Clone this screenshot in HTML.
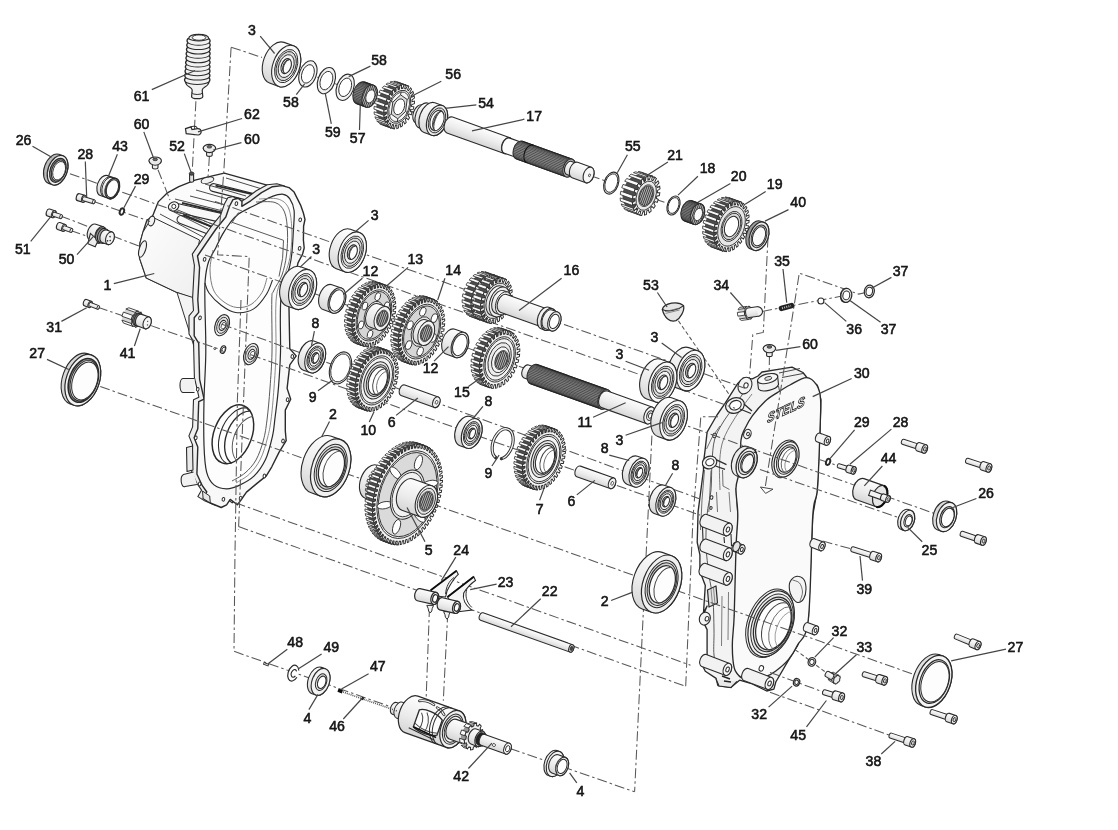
<!DOCTYPE html>
<html><head><meta charset="utf-8"><title>Gearbox exploded view</title>
<style>
html,body{margin:0;padding:0;background:#fff}
svg{display:block}
text{font-family:"Liberation Sans",sans-serif;font-size:14.1px;fill:#141414;text-anchor:middle;stroke:#141414;stroke-width:.55px}
.ld{stroke:#454545;stroke-width:1.2;fill:none}
.dd{stroke:#585858;stroke-width:1.05;fill:none;stroke-dasharray:10 3 2.5 3}
</style></head><body>
<svg width="1118" height="830" viewBox="0 0 1118 830">
<defs>
<linearGradient id="gs" x1="0" y1="0" x2="0" y2="1"><stop offset="0" stop-color="#fdfdfd"/><stop offset=".55" stop-color="#ececec"/><stop offset="1" stop-color="#d6d6d6"/></linearGradient>
<linearGradient id="gd" x1="0" y1="0" x2="0" y2="1"><stop offset="0" stop-color="#e8e8e8"/><stop offset="1" stop-color="#b5b5b5"/></linearGradient>
<linearGradient id="gh" x1="0" y1="0" x2="1" y2="1"><stop offset="0" stop-color="#fdfdfd"/><stop offset="1" stop-color="#efefef"/></linearGradient>
<pattern id="sp" width="1.9" height="4" patternUnits="userSpaceOnUse"><rect width="1.9" height="4" fill="#3c3c3c"/><rect width=".75" height="4" fill="#d8d8d8"/></pattern>
</defs>
<filter id="soft" x="0" y="0" width="1118" height="830" filterUnits="userSpaceOnUse"><feGaussianBlur stdDeviation="0.48"/></filter>
<rect width="1118" height="830" fill="#fff"/>
<g filter="url(#soft)">
<!-- housingL -->
<path d="M224.3 173.1L212.4 175.8L195 180.2L178.8 186.7L166.9 193.2L158.2 201.9L154.4 211.6L152.2 217L147 220L143 232L140 243L139.5 258L146.3 278L177 292.5L186 297.2L193.2 298.1L195 265.6L197.5 256L206.3 243L216 229L225.8 217L233 199.6L261.5 192.6L272.4 186.7Z" fill="#fbfbfb" stroke="#2b2b2b" stroke-width="1.34" stroke-linejoin="round" />
<path d="M152.2 217L199.5 240L195 265.6L193.2 298.1L177 292.5L146.3 278L139.5 258L140 243L143 232Z" fill="url(#gh)" stroke="#2b2b2b" stroke-width="0.98" stroke-linejoin="round" />
<path d="M177 292.5L195.1 350L194.5 298Z" fill="#f4f4f4" stroke="#2b2b2b" stroke-width="0.98" stroke-linejoin="round" />
<ellipse cx="142.5" cy="249" rx="3.2" ry="8.6" transform="rotate(18 142.5 249)" fill="#f3f3f3" stroke="#2b2b2b" stroke-width="1.10"/>
<ellipse cx="151.5" cy="221" rx="3" ry="5" transform="rotate(18 151.5 221)" fill="#f3f3f3" stroke="#2b2b2b" stroke-width="1.10"/>
<path d="M177.5 208L219.5 217.6" stroke="#2b2b2b" stroke-width="10.00" stroke-linecap="round"/>
<path d="M177.5 208L219.5 217.6" stroke="#f8f8f8" stroke-width="7.69" stroke-linecap="round"/>
<path d="M181 219.5L211 231" stroke="#2b2b2b" stroke-width="9.03" stroke-linecap="round"/>
<path d="M181 219.5L211 231" stroke="#f8f8f8" stroke-width="6.71" stroke-linecap="round"/>
<path d="M213.5 187.6L254.5 198" stroke="#2b2b2b" stroke-width="9.03" stroke-linecap="round"/>
<path d="M213.5 187.6L254.5 198" stroke="#f8f8f8" stroke-width="6.71" stroke-linecap="round"/>
<path d="M182 202.9L222.5 212.7" stroke="#2b2b2b" stroke-width="1.95"/>
<path d="M183.1 214.6L213.3 227.3" stroke="#2b2b2b" stroke-width="1.95"/>
<path d="M215.5 185.6L257.2 195.4" stroke="#2b2b2b" stroke-width="1.95"/>
<path d="M175 199L231 213" stroke="#2b2b2b" stroke-width="0.85"/>
<path d="M170 210L208 229" stroke="#2b2b2b" stroke-width="0.85"/>
<path d="M196 190L238 202" stroke="#2b2b2b" stroke-width="0.85"/>
<path d="M205 184L246 196" stroke="#2b2b2b" stroke-width="0.85"/>
<path d="M190 196L233 207" stroke="#2b2b2b" stroke-width="0.85"/>
<path d="M160 214L203 237" stroke="#2b2b2b" stroke-width="0.85"/>
<path d="M226 178L262 189" stroke="#2b2b2b" stroke-width="0.85"/>
<path d="M168 206L212 224" stroke="#2b2b2b" stroke-width="0.85"/>
<ellipse cx="173.6" cy="206.4" rx="5.4" ry="4.4" transform="rotate(-25 173.6 206.4)" fill="#f6f6f6" stroke="#2b2b2b" stroke-width="1.10"/>
<ellipse cx="173.8" cy="206.4" rx="2.0" ry="2.2" transform="rotate(0 173.8 206.4)" fill="#fff" stroke="#2b2b2b" stroke-width="0.98"/>
<ellipse cx="207.5" cy="180.2" rx="6.5" ry="3" transform="rotate(-14 207.5 180.2)" fill="#f1f1f1" stroke="#2b2b2b" stroke-width="0.98"/>
<path d="M189.6 174.2v6.8a2 1.2 0 0 0 4 0v-6.8z" fill="#e2e2e2" stroke="#2b2b2b" stroke-width="1.10"/>
<ellipse cx="191.6" cy="173.6" rx="2.3" ry="1.6" fill="#555" stroke="#2b2b2b" stroke-width="0.98"/>
<path d="M267.2 184.8L276.9 183.7L283.8 185.7L288.9 190.2L295.4 203.2L298.2 211.1L299.8 217.6L298.4 224.1L298.2 238.1L299 246.1L297.4 252.1L292.8 261L286.8 288.1L283.7 301.6L284.6 346.8L291 354L284.6 363L281.9 386.5L285.5 397.3L280.1 408.2L280.1 428.8L281 438.8L273.8 450.5L266.6 464.9L261.1 474L252.1 481.2L241.3 490.2L236.8 496.6L232.2 502.9L225 497.5L221.4 502.9L216 505.6L205.1 501.1L197.9 496.6L201.6 490.1L197.1 483.8L191.7 472.1L192.6 445L188.9 435.9L192.6 426.9L193.5 399.8L198.9 397.2L194.4 377.4L193.5 341.2L189 334L189 315.9L193.5 310.5L192.6 297.9L194.4 265.4L192.3 254.1L201.1 241.1L210.8 227.1L220.6 215.1L224.4 204.1L227.8 197.7L233.2 196.5L236.8 199.6L236.6 204.5L245.5 198.9L256.3 190.7Z" fill="#efefef" stroke="#2b2b2b" stroke-width="1.10" stroke-linejoin="round" />
<path d="M272.4 186.7L282.1 185.6L289 187.6L294.1 192.1L300.6 205.1L303.4 213L305 219.5L303.6 226L303.4 240L304.2 248L302.6 254L298 262.9L292 290L288.9 303.5L289.8 348.7L296.2 355.9L289.8 364.9L287.1 388.4L290.7 399.2L285.3 410.1L285.3 430.7L286.2 440.7L279 452.4L271.8 466.8L266.3 475.9L257.3 483.1L246.5 492.1L242 498.5L237.4 504.8L230.2 499.4L226.6 504.8L221.2 507.5L210.3 503L203.1 498.5L206.8 492L202.3 485.7L196.9 474L197.8 446.9L194.1 437.8L197.8 428.8L198.7 401.7L204.1 399.1L199.6 379.3L198.7 343.1L194.2 335.9L194.2 317.8L198.7 312.4L197.8 299.8L199.6 267.3L197.5 256L206.3 243L216 229L225.8 217L229.6 206L233 199.6L238.4 198.4L242 201.5L241.8 206.4L250.7 200.8L261.5 192.6Z" fill="#f8f8f8" stroke="#2b2b2b" stroke-width="1.40" stroke-linejoin="round" />
<path d="M259.4 202.9C263 201.1 268.4 197.8 272.4 196.4C276.4 195 280.3 193.9 283.2 194.3C286.1 194.7 287.9 195.9 289.7 198.6C291.5 201.3 293.5 205.3 294.1 210.5C294.7 215.7 293.8 223.1 293.4 230C293 236.9 292.6 245.6 292 251.7C291.4 257.8 291.4 258.9 289.6 266.6C287.8 274.3 282.5 283.8 281 298.1C279.5 312.4 280.9 337.2 280.5 352.3C280.1 367.4 279.3 377.4 278.4 388.4C277.5 399.3 276 410.1 275 418C274 425.9 274.1 429.2 272.5 436.1C270.9 443 268.6 453 265.5 459.6C262.4 466.2 258.6 471.6 254.2 475.9C249.8 480.2 243.8 483.2 239.2 485.4C234.6 487.5 230.8 488.9 226.6 488.8C222.4 488.7 217.3 487.6 214 484.9C210.7 482.1 208.4 478.9 206.7 472.3C205 465.7 204.4 457.2 204 445.2C203.6 433.1 203.7 415.5 204 400C204.3 384.5 205.7 368.7 205.8 352.3C206 335.9 205 313.8 204.9 301.7C204.8 289.6 204.6 286.6 205.2 280C205.8 273.4 206.7 267.4 208.5 262C210.3 256.6 213.7 252 216 247.4C218.3 242.8 220 238.7 222.5 234.4C225 230.1 228.5 224.8 231.2 221.4C233.9 218 235.6 216.2 238.8 213.8C242.1 211.5 247.3 209.1 250.7 207.3C254.1 205.5 255.8 204.7 259.4 202.9Z" fill="#fdfdfd" stroke="#2b2b2b" stroke-width="1.22" />
<path d="M256 202C259.2 202.1 270.2 200.8 275 202.5C279.8 204.2 282.4 207.1 284.5 212C286.6 216.9 287.2 224.8 287.5 232C287.8 239.2 287.4 247.8 286.5 255C285.6 262.2 284.1 269 282 275C279.9 281 275.3 286.8 273.6 291C271.9 295.2 272.1 289.8 271.8 300C271.5 310.2 272.3 337.3 272 352C271.7 366.7 270.8 376.7 270 388C269.2 399.3 268.1 411.3 267 420C265.9 428.7 265.3 433.3 263.5 440C261.7 446.7 259.1 454.5 256 460C252.9 465.5 249 469.5 245 473C241 476.5 234.2 479.7 232 481" fill="none" stroke="#555" stroke-width="0.98" />
<path d="M259 199C262.2 199 273.1 197.5 278 199C282.9 200.5 286.2 203 288.5 208C290.8 213 291.4 221.5 291.8 229C292.2 236.5 291.5 246.2 290.6 253C289.7 259.8 288.9 262.8 286.5 270C284.1 277.2 278.2 282.3 276.5 296C274.8 309.7 276.4 336.7 276 352C275.6 367.3 274.8 376.7 274 388C273.2 399.3 272.1 411.7 271 420C269.9 428.3 269.2 431.5 267.5 438C265.8 444.5 263.5 453 260.5 459C257.5 465 253.6 470 249.5 474C245.4 478 238.2 481.5 236 483" fill="none" stroke="#777" stroke-width="0.85" />
<path d="M204.9 283C205.6 284.7 206.3 289.3 209 293C211.7 296.7 216.8 302.1 221.2 305.3C225.6 308.6 230.2 311.9 235.6 312.5C241 313.1 248.6 311.9 253.7 308.9C258.8 305.9 263.2 299.3 266.3 294.5C269.4 289.7 271.5 282.4 272.5 280" fill="none" stroke="#2b2b2b" stroke-width="1.10" />
<path d="M213 250C212.5 253.3 209.9 263.3 210 270C210.1 276.7 211.2 284.7 213.5 290C215.8 295.3 220.1 299.1 224 302C227.9 304.9 232.5 307.1 237 307.5C241.5 307.9 246.8 307 251 304.5C255.2 302 259.3 296.9 262 292.5C264.7 288.1 266.2 280.4 267 278" fill="none" stroke="#666" stroke-width="0.85" />
<path d="M232 222.3L283.5 240.3" stroke="#555" stroke-width="0.98"/>
<path d="M238.5 212.5L231.5 223.5M283.5 240.3L282.6 258.4L279 276.5" stroke="#555" stroke-width="0.98" fill="none"/>
<g transform="translate(222.1 325.2) rotate(20.8)"><ellipse cx="0.00" cy="0.00" rx="6.82" ry="11.00" fill="#f0f0f0" stroke="#2b2b2b" stroke-width="1.10"/><ellipse cx="0.30" cy="0.00" rx="5.21" ry="8.40" fill="#e2e2e2" stroke="#2b2b2b" stroke-width="0.85"/><ellipse cx="0.60" cy="0.00" rx="3.22" ry="5.20" fill="#fafafa" stroke="#2b2b2b" stroke-width="1.10"/><ellipse cx="1.40" cy="0.00" rx="2.11" ry="3.40" fill="#fff" stroke="#2b2b2b" stroke-width="0.73"/></g>
<g transform="translate(251.0 354.1) rotate(20.8)"><ellipse cx="0.00" cy="0.00" rx="6.82" ry="11.00" fill="#f0f0f0" stroke="#2b2b2b" stroke-width="1.10"/><ellipse cx="0.30" cy="0.00" rx="5.21" ry="8.40" fill="#e2e2e2" stroke="#2b2b2b" stroke-width="0.85"/><ellipse cx="0.60" cy="0.00" rx="3.22" ry="5.20" fill="#fafafa" stroke="#2b2b2b" stroke-width="1.10"/><ellipse cx="1.40" cy="0.00" rx="2.11" ry="3.40" fill="#fff" stroke="#2b2b2b" stroke-width="0.73"/></g>
<g transform="translate(223.0 349.6) rotate(20.8)"><ellipse cx="0.00" cy="0.00" rx="2.48" ry="4.00" fill="#ededed" stroke="#2b2b2b" stroke-width="1.10"/><ellipse cx="0.50" cy="0.00" rx="1.61" ry="2.60" fill="#fff" stroke="#2b2b2b" stroke-width="0.85"/></g>
<circle cx="214.8" cy="348.6" r="1" fill="none" stroke="#2b2b2b" stroke-width="0.85"/>
<g transform="translate(232.9 434.3) rotate(20.8)"><ellipse cx="0.00" cy="0.00" rx="18.97" ry="30.60" fill="#fff" stroke="#2b2b2b" stroke-width="1.46"/><path d="M3.5 -29.4A18.2 29.6 0 0 0 5 29.5" fill="none" stroke="#2b2b2b" stroke-width="1.10"/><path d="M7.5 -27.6A17.4 28 0 0 0 9 27.4" fill="none" stroke="#2b2b2b" stroke-width="1.34"/><path d="M12.4 -23.8A15.0 24.4 0 0 0 13.6 23.4" fill="none" stroke="#555" stroke-width="0.98"/><path d="M3.5 -29.4L7.5 -27.6M5 29.5L9 27.4" stroke="#2b2b2b" stroke-width="0.98"/></g>
<ellipse cx="300.2" cy="219.8" rx="1.3" ry="1.9" transform="rotate(15 300.2 219.8)" fill="#fff" stroke="#2b2b2b" stroke-width="0.98"/>
<ellipse cx="299.6" cy="248.4" rx="1.3" ry="1.9" transform="rotate(15 299.6 248.4)" fill="#fff" stroke="#2b2b2b" stroke-width="0.98"/>
<ellipse cx="292.3" cy="356.5" rx="1.3" ry="1.9" transform="rotate(15 292.3 356.5)" fill="#fff" stroke="#2b2b2b" stroke-width="0.98"/>
<ellipse cx="287.6" cy="399.7" rx="1.3" ry="1.9" transform="rotate(15 287.6 399.7)" fill="#fff" stroke="#2b2b2b" stroke-width="0.98"/>
<ellipse cx="283" cy="441" rx="1.3" ry="1.9" transform="rotate(15 283 441)" fill="#fff" stroke="#2b2b2b" stroke-width="0.98"/>
<ellipse cx="264.4" cy="476" rx="1.3" ry="1.9" transform="rotate(15 264.4 476)" fill="#fff" stroke="#2b2b2b" stroke-width="0.98"/>
<ellipse cx="240.6" cy="498.2" rx="1.3" ry="1.9" transform="rotate(15 240.6 498.2)" fill="#fff" stroke="#2b2b2b" stroke-width="0.98"/>
<ellipse cx="223.4" cy="499.3" rx="1.3" ry="1.9" transform="rotate(15 223.4 499.3)" fill="#fff" stroke="#2b2b2b" stroke-width="0.98"/>
<ellipse cx="199.6" cy="484" rx="1.3" ry="1.9" transform="rotate(15 199.6 484)" fill="#fff" stroke="#2b2b2b" stroke-width="0.98"/>
<ellipse cx="195.8" cy="437.8" rx="1.3" ry="1.9" transform="rotate(15 195.8 437.8)" fill="#fff" stroke="#2b2b2b" stroke-width="0.98"/>
<ellipse cx="197.7" cy="389.3" rx="1.3" ry="1.9" transform="rotate(15 197.7 389.3)" fill="#fff" stroke="#2b2b2b" stroke-width="0.98"/>
<ellipse cx="200" cy="317.9" rx="1.3" ry="1.9" transform="rotate(15 200 317.9)" fill="#fff" stroke="#2b2b2b" stroke-width="0.98"/>
<ellipse cx="236.4" cy="203.6" rx="1.3" ry="1.9" transform="rotate(15 236.4 203.6)" fill="#fff" stroke="#2b2b2b" stroke-width="0.98"/>
<ellipse cx="204.6" cy="259.4" rx="1.3" ry="1.9" transform="rotate(15 204.6 259.4)" fill="#fff" stroke="#2b2b2b" stroke-width="0.98"/>
<path d="M194.5 378.5L183 378.5a3 7 0 0 0 0 14L194.5 392.5" fill="#f2f2f2" stroke="#2b2b2b" stroke-width="1.10"/>
<path d="M193.5 472L183.5 474.5a3 6 0 0 0 1.5 12L197 484.5" fill="#f2f2f2" stroke="#2b2b2b" stroke-width="1.10"/>
<path d="M186.5 447.5L192.5 446L193 470L187 471.5Z" fill="#e9e9e9" stroke="#2b2b2b" stroke-width="1.10" stroke-linejoin="round" />
<path d="M202.5 491L203.1 498.5L210.3 503L209.7 496Z" fill="#e6e6e6" stroke="#2b2b2b" stroke-width="0.98" stroke-linejoin="round" />
<!-- housingR -->
<path d="M737.8 383.4L743.2 377.9L752.3 378.8L758 376L762 372L781.2 368.9L792 367.1L802.9 372.5L806.5 377L817.3 385.2L820.9 399.6L820 430.3L817.3 490L812.8 515.2L808.3 620L797.4 645.9L788.4 660.3L775.8 682L773.9 689.2L766.7 691L752.3 683.8L739.6 680.2L730.6 687.4L717.9 685.6L716.1 678.4L705.3 671.2L701.7 664L707.1 654.9L707.1 629.6L701.7 618.8L707.1 606.1L703.5 612.7L705.3 585.6L699.9 571.2L699.9 554.9L697.2 542.3L698.1 511.6L703.5 470L703.5 462.9L705.3 448.4L707.1 432.1L717 415L725.2 403.2Z" fill="#f3f3f3" stroke="#2b2b2b" stroke-width="1.34" stroke-linejoin="round" />
<path d="M744 392C742.2 394.7 736.7 402.7 733 408C729.3 413.3 725.1 418.7 722 424C718.9 429.3 716.2 433.7 714.5 440C712.8 446.3 712.6 453.7 712 462C711.4 470.3 711.8 481.2 711 490C710.2 498.8 707.8 505.8 707 515C706.2 524.2 705.7 535 706 545C706.3 555 707.8 565.8 709 575C710.2 584.2 712.2 590.8 713 600C713.8 609.2 713.8 620.8 714 630C714.2 639.2 713.3 648.7 714 655C714.7 661.3 715.3 664.8 718 668C720.7 671.2 728 673 730 674" fill="none" stroke="#555" stroke-width="0.98" />
<path d="M752 394C750.2 396.5 744.7 403.7 741 409C737.3 414.3 733.2 420.2 730 426C726.8 431.8 723.8 437.3 722 444C720.2 450.7 719.8 458.3 719.5 466C719.2 473.7 719.9 486 720 490" fill="none" stroke="#666" stroke-width="0.85" />
<path d="M736 488L737.8 515.2L736.9 547.7L736 620L734.2 615.2" fill="none" stroke="#2b2b2b" stroke-width="1.10"/>
<path d="M729 492L730.5 512M728.5 592L728 640M722 596L721.5 646" fill="none" stroke="#666" stroke-width="0.85"/>
<path d="M777.6 392.4C781.8 389.7 785.2 387.5 790 385C794.8 382.5 802 377.6 806.5 377.6C811 377.6 814.4 381.5 816.8 385.2C819.1 388.9 820.1 392.1 820.6 399.6C821.1 407.1 820.5 415.2 820 430.3C819.5 445.4 818.5 475.9 817.3 490C816.1 504.1 814.3 493.6 812.8 515.2C811.3 536.8 810.9 597.8 808.3 619.5C805.7 641.2 800.7 638.5 797.4 645.2C794.1 651.9 792 655.3 788.4 659.6C784.8 663.9 779.5 668.2 775.8 671C772.1 673.8 769 675.6 766 676.5C763 677.4 761.5 676.3 757.7 676.6C753.9 676.9 746.9 679.3 743.2 678.4C739.5 677.5 737.2 674.2 735.5 671.2C733.8 668.2 733.5 665.1 733 660.3C732.5 655.5 732.2 649.8 732.4 642.3C732.6 634.8 733.6 631 734.2 615.2C734.8 599.4 735.4 564.4 736 547.7C736.6 531 737.8 525.2 737.8 515.2C737.8 505.3 735.7 495.5 736 488C736.3 480.5 738.8 478 739.6 470C740.4 462 740.1 446.9 741 440C741.9 433.1 743.1 432.5 745 428.5C746.9 424.5 749 420.4 752.3 415.9C755.6 411.4 760.7 405.3 764.9 401.4C769.1 397.5 773.4 395.1 777.6 392.4Z" fill="#fafafa" stroke="#2b2b2b" stroke-width="1.34" />
<path d="M757.5 381L758.5 389a10.5 4.6 -14 0 0 20 -4.5L777.6 376Z" fill="#f1f1f1" stroke="#2b2b2b" stroke-width="1.10"/>
<ellipse cx="767.6" cy="378.6" rx="10.4" ry="4.6" transform="rotate(-14 767.6 378.6)" fill="#f7f7f7" stroke="#2b2b2b" stroke-width="1.10"/>
<ellipse cx="768.2" cy="378.4" rx="3.6" ry="1.8" transform="rotate(-14 768.2 378.4)" fill="#ddd" stroke="#2b2b2b" stroke-width="0.85"/>
<path d="M779 373L800 368.5M782 377.5L803 373.5M778.5 386L779.5 391" stroke="#444" stroke-width="0.98" fill="none"/>
<ellipse cx="745" cy="385.6" rx="6.6" ry="8.6" transform="rotate(25 745 385.6)" fill="#f5f5f5" stroke="#2b2b2b" stroke-width="1.10"/>
<ellipse cx="746" cy="385.4" rx="2.1" ry="2.6" transform="rotate(20 746 385.4)" fill="#fff" stroke="#2b2b2b" stroke-width="0.98"/>
<ellipse cx="735" cy="405.5" rx="9.6" ry="7.6" transform="rotate(-20 735 405.5)" fill="#f3f3f3" stroke="#2b2b2b" stroke-width="1.22"/>
<ellipse cx="735.4" cy="405.2" rx="6" ry="4.6" transform="rotate(-20 735.4 405.2)" fill="#fff" stroke="#2b2b2b" stroke-width="1.10"/>
<path d="M740 409L751 413.5M744 404L752 411" stroke="#2b2b2b" stroke-width="1.34"/>
<ellipse cx="747.4" cy="434" rx="3.6" ry="4.8" transform="rotate(20 747.4 434)" fill="#f6f6f6" stroke="#2b2b2b" stroke-width="1.10"/>
<ellipse cx="748" cy="434" rx="1.4" ry="1.7" transform="rotate(20 748 434)" fill="#fff" stroke="#2b2b2b" stroke-width="0.98"/>
<ellipse cx="714.5" cy="435.5" rx="1.8" ry="2.2" transform="rotate(20 714.5 435.5)" fill="#fff" stroke="#2b2b2b" stroke-width="0.98"/>
<ellipse cx="709.6" cy="462.4" rx="7.4" ry="6.2" transform="rotate(-20 709.6 462.4)" fill="#f5f5f5" stroke="#2b2b2b" stroke-width="1.22"/>
<ellipse cx="709.9" cy="462.2" rx="4.2" ry="3.4" transform="rotate(-20 709.9 462.2)" fill="#fff" stroke="#2b2b2b" stroke-width="1.10"/>
<path d="M716 459.6L726.5 464.6M715.5 466L725 469.4" stroke="#2b2b2b" stroke-width="1.22"/>
<path d="M706.5 449L712.5 436.5L720 426M704.5 470L702 500L700.5 530M711 470.5L709.5 500L708.8 512" fill="none" stroke="#555" stroke-width="0.85"/>
<path d="M716.5 492L717.5 512M722.5 470L723 486L729.5 489.5" fill="none" stroke="#555" stroke-width="0.85"/>
<ellipse cx="711.5" cy="497.5" rx="1.4" ry="1.8" transform="rotate(20 711.5 497.5)" fill="#fff" stroke="#2b2b2b" stroke-width="0.98"/>
<ellipse cx="711" cy="508" rx="1.1" ry="1.4" transform="rotate(20 711 508)" fill="#fff" stroke="#2b2b2b" stroke-width="0.98"/>
<text x="0" y="0" transform="translate(786 414.5) rotate(-25) skewX(-28)" style="font-size:12.5px;font-weight:bold;font-style:italic;fill:#fff;stroke:#222;stroke-width:.8px;letter-spacing:.3px">STELS</text>
<g transform="translate(746.6 462.9) rotate(20.8)"><path d="M-5.00 -15.60 A9.67 15.60 0 0 0 -5.00 15.60 L0.00 15.60 A9.67 15.60 0 0 0 0.00 -15.60 Z" fill="#ececec" stroke="#2b2b2b" stroke-width="1.10"/><ellipse cx="0.00" cy="0.00" rx="9.67" ry="15.60" fill="#f1f1f1" stroke="#2b2b2b" stroke-width="1.22"/><ellipse cx="0.00" cy="0.00" rx="7.56" ry="12.20" fill="#e2e2e2" stroke="#2b2b2b" stroke-width="0.98"/><ellipse cx="0.60" cy="0.00" rx="5.95" ry="9.60" fill="#f8f8f8" stroke="#2b2b2b" stroke-width="1.10"/><path d="M-1.2 -9.3A5.8 9.4 0 0 0 -0.6 9.5" fill="none" stroke="#2b2b2b" stroke-width="0.98" transform="translate(2.6 0)"/></g>
<path d="M752 448.5l4.5 1.5M753.5 452l3.5 1.2" stroke="#2b2b2b" stroke-width="1.22"/>
<g transform="translate(786.6 459.4) rotate(20.8)"><ellipse cx="-1.60" cy="0.00" rx="12.15" ry="19.60" fill="#efefef" stroke="#2b2b2b" stroke-width="1.10"/><ellipse cx="0.00" cy="0.00" rx="11.41" ry="18.40" fill="#f6f6f6" stroke="#2b2b2b" stroke-width="1.22"/><ellipse cx="0.20" cy="0.00" rx="9.55" ry="15.40" fill="#e9e9e9" stroke="#2b2b2b" stroke-width="0.98"/><ellipse cx="0.60" cy="0.00" rx="8.18" ry="13.20" fill="#fdfdfd" stroke="#2b2b2b" stroke-width="1.10"/><path d="M3 -12.6A7.6 12.6 0 0 0 3.6 12.8" fill="none" stroke="#555" stroke-width="0.85"/><path d="M5.6 -11.6A7 11.8 0 0 0 6.2 11.9" fill="none" stroke="#777" stroke-width="0.73"/></g>
<g transform="translate(818.5 437.5) rotate(20.8)"><path d="M0.00 -4.60 A2.85 4.60 0 0 0 0.00 4.60 L9.50 4.60 A2.85 4.60 0 0 0 9.50 -4.60 Z" fill="#f3f3f3" stroke="#2b2b2b" stroke-width="1.10"/><ellipse cx="9.50" cy="0.00" rx="2.85" ry="4.60" fill="#f7f7f7" stroke="#2b2b2b" stroke-width="1.10"/><ellipse cx="9.70" cy="0.00" rx="1.24" ry="2.00" fill="#fff" stroke="#2b2b2b" stroke-width="0.98"/></g>
<g transform="translate(813.0 543.0) rotate(20.8)"><path d="M0.00 -4.60 A2.85 4.60 0 0 0 0.00 4.60 L9.50 4.60 A2.85 4.60 0 0 0 9.50 -4.60 Z" fill="#f3f3f3" stroke="#2b2b2b" stroke-width="1.10"/><ellipse cx="9.50" cy="0.00" rx="2.85" ry="4.60" fill="#f7f7f7" stroke="#2b2b2b" stroke-width="1.10"/><ellipse cx="9.70" cy="0.00" rx="1.24" ry="2.00" fill="#fff" stroke="#2b2b2b" stroke-width="0.98"/></g>
<g transform="translate(806.5 627.0) rotate(20.8)"><path d="M0.00 -4.60 A2.85 4.60 0 0 0 0.00 4.60 L9.50 4.60 A2.85 4.60 0 0 0 9.50 -4.60 Z" fill="#f3f3f3" stroke="#2b2b2b" stroke-width="1.10"/><ellipse cx="9.50" cy="0.00" rx="2.85" ry="4.60" fill="#f7f7f7" stroke="#2b2b2b" stroke-width="1.10"/><ellipse cx="9.70" cy="0.00" rx="1.24" ry="2.00" fill="#fff" stroke="#2b2b2b" stroke-width="0.98"/></g>
<g transform="translate(704.4 520.6) rotate(20.8)"><path d="M0.00 -6.60 A4.09 6.60 0 0 0 0.00 6.60 L25.00 6.60 A4.09 6.60 0 0 0 25.00 -6.60 Z" fill="#f2f2f2" stroke="#2b2b2b" stroke-width="1.10"/><ellipse cx="25.00" cy="0.00" rx="4.09" ry="6.60" fill="#f6f6f6" stroke="#2b2b2b" stroke-width="1.10"/><ellipse cx="25.20" cy="0.00" rx="1.61" ry="2.60" fill="#fff" stroke="#2b2b2b" stroke-width="0.98"/></g>
<g transform="translate(704.4 545.4) rotate(20.8)"><path d="M0.00 -6.60 A4.09 6.60 0 0 0 0.00 6.60 L25.00 6.60 A4.09 6.60 0 0 0 25.00 -6.60 Z" fill="#f2f2f2" stroke="#2b2b2b" stroke-width="1.10"/><ellipse cx="25.00" cy="0.00" rx="4.09" ry="6.60" fill="#f6f6f6" stroke="#2b2b2b" stroke-width="1.10"/><ellipse cx="25.20" cy="0.00" rx="1.61" ry="2.60" fill="#fff" stroke="#2b2b2b" stroke-width="0.98"/></g>
<g transform="translate(703.5 569.6) rotate(20.8)"><path d="M0.00 -6.60 A4.09 6.60 0 0 0 0.00 6.60 L26.00 6.60 A4.09 6.60 0 0 0 26.00 -6.60 Z" fill="#f2f2f2" stroke="#2b2b2b" stroke-width="1.10"/><ellipse cx="26.00" cy="0.00" rx="4.09" ry="6.60" fill="#f6f6f6" stroke="#2b2b2b" stroke-width="1.10"/><ellipse cx="26.20" cy="0.00" rx="1.61" ry="2.60" fill="#fff" stroke="#2b2b2b" stroke-width="0.98"/></g>
<path d="M702.5 527L703 540M731 534L731.5 546M724 537L724.5 543" stroke="#2b2b2b" stroke-width="1.10"/>
<g transform="translate(741.6 549.4) rotate(20.8)"><path d="M-7.00 -4.60 A2.85 4.60 0 0 0 -7.00 4.60 L0.00 4.60 A2.85 4.60 0 0 0 0.00 -4.60 Z" fill="#e9e9e9" stroke="#2b2b2b" stroke-width="1.10"/><ellipse cx="0.00" cy="0.00" rx="3.10" ry="5.00" fill="#f4f4f4" stroke="#2b2b2b" stroke-width="1.10"/><ellipse cx="0.20" cy="0.00" rx="1.36" ry="2.20" fill="#fff" stroke="#2b2b2b" stroke-width="0.98"/></g>
<g transform="translate(736.5 546.6) rotate(20.8)"><ellipse cx="0.00" cy="0.00" rx="3.22" ry="5.20" fill="#e4e4e4" stroke="#2b2b2b" stroke-width="1.10"/></g>
<path d="M707.5 590L716 586L717.5 603L709 607Z" fill="#e3e3e3" stroke="#2b2b2b" stroke-width="1.22" stroke-linejoin="round" />
<path d="M711 589L712.5 605M713.5 588L715 604" stroke="#666" stroke-width="0.73"/>
<ellipse cx="704.8" cy="618.6" rx="5.4" ry="6.6" transform="rotate(20 704.8 618.6)" fill="#f4f4f4" stroke="#2b2b2b" stroke-width="1.10"/>
<ellipse cx="707" cy="618.8" rx="1.8" ry="2.3" transform="rotate(20 707 618.8)" fill="#fff" stroke="#2b2b2b" stroke-width="0.98"/>
<g transform="translate(704.0 660.5) rotate(20.8)"><path d="M0.00 -6.40 A3.97 6.40 0 0 0 0.00 6.40 L25.00 6.40 A3.97 6.40 0 0 0 25.00 -6.40 Z" fill="#f2f2f2" stroke="#2b2b2b" stroke-width="1.10"/><ellipse cx="25.00" cy="0.00" rx="3.97" ry="6.40" fill="#f6f6f6" stroke="#2b2b2b" stroke-width="1.10"/><ellipse cx="25.20" cy="0.00" rx="1.61" ry="2.60" fill="#fff" stroke="#2b2b2b" stroke-width="0.98"/></g>
<g transform="translate(746.0 674.5) rotate(20.8)"><path d="M0.00 -6.40 A3.97 6.40 0 0 0 0.00 6.40 L25.00 6.40 A3.97 6.40 0 0 0 25.00 -6.40 Z" fill="#f2f2f2" stroke="#2b2b2b" stroke-width="1.10"/><ellipse cx="25.00" cy="0.00" rx="3.97" ry="6.40" fill="#f6f6f6" stroke="#2b2b2b" stroke-width="1.10"/><ellipse cx="25.20" cy="0.00" rx="1.61" ry="2.60" fill="#fff" stroke="#2b2b2b" stroke-width="0.98"/></g>
<path d="M716 679l3 7l12 1.5l6 -6" fill="#e8e8e8" stroke="#2b2b2b" stroke-width="1.22"/>
<path d="M722 676l8 3M724 681l7 1" stroke="#222" stroke-width="1.34"/>
<g transform="translate(772.1 624.2) rotate(20.8)"><ellipse cx="-2.40" cy="0.00" rx="22.07" ry="35.60" fill="#f2f2f2" stroke="#2b2b2b" stroke-width="0.98"/><ellipse cx="-1.00" cy="0.00" rx="21.20" ry="34.20" fill="#f6f6f6" stroke="#2b2b2b" stroke-width="1.22"/><ellipse cx="0.00" cy="0.00" rx="19.47" ry="31.40" fill="#ececec" stroke="#2b2b2b" stroke-width="0.98"/><ellipse cx="0.60" cy="0.00" rx="17.61" ry="28.40" fill="#e2e2e2" stroke="#2b2b2b" stroke-width="1.22"/><ellipse cx="1.40" cy="0.00" rx="16.24" ry="26.20" fill="#fdfdfd" stroke="#2b2b2b" stroke-width="1.22"/><path d="M6 -24.8A15 25 0 0 0 7 25.2" fill="none" stroke="#444" stroke-width="0.98"/><path d="M10.5 -22.6A13.6 23 0 0 0 11.5 23.1" fill="none" stroke="#666" stroke-width="0.85"/><path d="M15 -19.4A11.6 20 0 0 0 16 20.2" fill="none" stroke="#888" stroke-width="0.73"/></g>
<path d="M790 582C791.1 579.8 793.8 577 796 576.5C798.2 576 801.8 576.9 803.5 579C805.2 581.1 806 585.7 806 589C806 592.3 804.9 596.8 803.5 599C802.1 601.2 799.4 602.8 797.5 602.5C795.6 602.2 793.3 599.1 792 597C790.7 594.9 789.8 592.5 789.5 590C789.2 587.5 788.9 584.2 790 582Z" fill="#f4f4f4" stroke="#2b2b2b" stroke-width="1.10" />
<path d="M792.5 580C793.7 580.5 797.8 581 799.5 583C801.2 585 802.4 589 802.5 592C802.6 595 800.4 599.5 800 601" fill="none" stroke="#555" stroke-width="0.85" />
<ellipse cx="761.3" cy="668.4" rx="2.2" ry="2.8" transform="rotate(20 761.3 668.4)" fill="#fff" stroke="#2b2b2b" stroke-width="0.98"/>
<!-- lines -->
<path class="dd" d="M215.0 201.4L745.0 388.2" />
<path class="dd" d="M69.9 173.7L735.0 408.2" />
<path class="dd" d="M93.7 201.5L150.0 221.5" />
<path class="dd" d="M60.5 215.9L140.0 246.5" />
<path class="dd" d="M70.6 230.4L92.0 238.0" />
<path class="dd" d="M205.0 254.9L946.0 517.6" />
<path class="dd" d="M222.0 324.2L700.0 499.0" />
<path class="dd" d="M97.9 307.3L223.0 350.4" />
<path class="dd" d="M251.0 354.8L700.0 515.1" />
<path class="dd" d="M82.8 380.3L933.5 681.4" />
<path class="dd" d="M235.6 502.8L690.5 665.2" />
<path class="dd" d="M238.5 526.6L685.7 686.3" />
<path class="dd" d="M685.7 686.2L693.0 518.0L700.8 416.8L718.0 416.8" />
<path d="M760.4 487L773 489.2L765.6 493.4Z" fill="#fff" stroke="#444" stroke-width="0.98"/>
<path class="dd" d="M241.0 300.0L237.4 400.0L234.9 560.0L234.0 651.3L398.0 709.4" />
<path class="dd" d="M510.0 748.4L634.6 791.8" />
<path class="dd" d="M651.9 435.6L634.6 791.8" />
<path class="dd" d="M231.1 47.5L223.9 170.0L217.6 254.8L249.2 256.6L238.5 530.0" />
<path class="dd" d="M429.5 607.0L426.2 696.5" />
<path class="dd" d="M447.8 612.4L443.3 700.8" />
<path class="dd" d="M768.0 237.5L763.3 332.4L752.8 334.8L749.3 379.0" />
<path class="dd" d="M765.4 486.0L799.3 273.1L858.6 294.1L866.0 292.5" />
<path class="dd" d="M762.1 311.5L846.3 295.2" />
<path class="dd" d="M769.5 355.0L769.1 374.3" />
<path class="dd" d="M678.4 320.8L729.5 395.0" style="stroke-dasharray:4 2.5"/>
<path class="dd" d="M195.9 101.3L192.3 170.0" />
<path class="dd" d="M158.0 169.7L170.0 200.0" />
<path class="dd" d="M209.4 156.0L208.0 178.0" />
<path class="dd" d="M820.0 459.7L838.9 466.1" />
<path class="dd" d="M760.0 469.5L898.5 517.6" />
<path class="dd" d="M822.6 541.0L852.5 549.2" />
<path class="dd" d="M795.3 649.8L833.2 677.8" style="stroke-dasharray:4 2.5"/>
<path class="dd" d="M770.0 672.4L824.2 692.3" />
<path class="dd" d="M770.0 692.3L890.7 735.6" />
<!-- topshaft -->
<path class="dd" d="M231.1 47.2L262.0 57.4" />
<path class="dd" d="M300.0 71.1L352.0 89.8" />
<path class="dd" d="M377.0 98.8L385.0 101.7" />
<path class="dd" d="M410.0 110.7L424.0 115.7" />
<path class="dd" d="M590.0 175.5L606.0 181.2" />
<path class="dd" d="M655.0 198.9L667.0 203.2" />
<path class="dd" d="M744.0 230.9L752.0 233.8" />
<g transform="translate(286.2 66.1) rotate(19.8)"><path d="M-10.00 -21.60 A13.39 21.60 0 0 0 -10.00 21.60 L0.00 21.60 A13.39 21.60 0 0 0 0.00 -21.60 Z" fill="url(#gs)" stroke="#2b2b2b" stroke-width="1.10"/><ellipse cx="0.00" cy="0.00" rx="13.39" ry="21.60" fill="#f8f8f8" stroke="#2b2b2b" stroke-width="1.10"/><ellipse cx="0.00" cy="0.00" rx="10.71" ry="17.28" fill="#ececec" stroke="#2b2b2b" stroke-width="0.88"/><ellipse cx="0.00" cy="0.00" rx="9.37" ry="15.12" fill="#dcdcdc" stroke="#2b2b2b" stroke-width="0.88"/><ellipse cx="0.00" cy="0.00" rx="7.37" ry="11.88" fill="#f3f3f3" stroke="#2b2b2b" stroke-width="0.88"/><ellipse cx="0.00" cy="0.00" rx="4.82" ry="7.78" fill="#fdfdfd" stroke="#2b2b2b" stroke-width="1.10"/><path d="M1.2 -7.5A4.8 7.8 0 0 0 1.2 7.5A6.0 7.8 0 0 1 1.2 -7.5Z" fill="#777" stroke="#2b2b2b" stroke-width="0.77"/></g>
<g transform="translate(307.9 73.9) rotate(19.8)"><ellipse cx="0.00" cy="0.00" rx="8.43" ry="13.60" fill="#f3f3f3" stroke="#2b2b2b" stroke-width="1.10"/><ellipse cx="0.00" cy="0.00" rx="5.95" ry="9.60" fill="#fff" stroke="#2b2b2b" stroke-width="0.88"/></g>
<g transform="translate(326.4 80.6) rotate(19.8)"><ellipse cx="0.00" cy="0.00" rx="8.43" ry="13.60" fill="#f3f3f3" stroke="#2b2b2b" stroke-width="1.10"/><ellipse cx="0.00" cy="0.00" rx="5.95" ry="9.60" fill="#fff" stroke="#2b2b2b" stroke-width="0.88"/></g>
<g transform="translate(345.2 87.3) rotate(19.8)"><ellipse cx="0.00" cy="0.00" rx="8.43" ry="13.60" fill="#f3f3f3" stroke="#2b2b2b" stroke-width="1.10"/><ellipse cx="0.00" cy="0.00" rx="5.95" ry="9.60" fill="#fff" stroke="#2b2b2b" stroke-width="0.88"/></g>
<g transform="translate(369.6 96.1) rotate(19.8)"><path d="M-9.50 -11.60 A7.19 11.60 0 0 0 -9.50 11.60 L0.00 11.60 A7.19 11.60 0 0 0 0.00 -11.60 Z" fill="#8a8a8a" stroke="#2b2b2b" stroke-width="0.98"/><path d="M-9.5 11.6L0 11.6M-10.5 11.5L-1 11.5M-11.5 11.1L-2 11.1M-12.5 10.6L-3 10.6M-13.4 9.8L-3.9 9.8M-14.2 8.8L-4.7 8.8M-14.9 7.6L-5.4 7.6M-15.6 6.3L-6.1 6.3M-16 4.8L-6.5 4.8M-16.4 3.3L-6.9 3.3M-16.6 1.7L-7.1 1.7M-16.7 0L-7.2 0M-16.6 -1.7L-7.1 -1.7M-16.4 -3.3L-6.9 -3.3M-16 -4.8L-6.5 -4.8M-15.6 -6.3L-6.1 -6.3M-14.9 -7.6L-5.4 -7.6M-14.2 -8.8L-4.7 -8.8M-13.4 -9.8L-3.9 -9.8M-12.5 -10.6L-3 -10.6M-11.5 -11.1L-2 -11.1M-10.5 -11.5L-1 -11.5M-9.5 -11.6L-0 -11.6" stroke="#222" stroke-width="0.55" fill="none"/><ellipse cx="0.00" cy="0.00" rx="7.19" ry="11.60" fill="url(#sp)" stroke="#2b2b2b" stroke-width="0.98"/><ellipse cx="0.80" cy="0.00" rx="4.22" ry="6.80" fill="#fafafa" stroke="#2b2b2b" stroke-width="0.78"/></g>
<g transform="translate(399.2 106.8) rotate(19.8)"><path d="M-10.50 -19.40 A12.03 19.40 0 0 0 -10.50 19.40 L0.00 19.40 A12.03 19.40 0 0 0 0.00 -19.40 Z" fill="#4d4d4d" stroke="#2b2b2b" stroke-width="0"/><path d="M-7.3 22.2L3.2 22.2L1.4 22.7L-9.1 22.7Z" fill="#fbfbfb" stroke="#2b2b2b" stroke-width="0.73"/><path d="M-11 22.8L-0.5 22.8L-2.3 22.5L-12.8 22.5Z" fill="#fbfbfb" stroke="#2b2b2b" stroke-width="0.73"/><path d="M-14.6 21.8L-4.1 21.8L-5.9 20.8L-16.4 20.8Z" fill="#fbfbfb" stroke="#2b2b2b" stroke-width="0.73"/><path d="M-18 19.3L-7.5 19.3L-9 17.6L-19.5 17.6Z" fill="#fbfbfb" stroke="#2b2b2b" stroke-width="0.73"/><path d="M-20.8 15.6L-10.3 15.6L-11.5 13.2L-22 13.2Z" fill="#fbfbfb" stroke="#2b2b2b" stroke-width="0.73"/><path d="M-23 10.7L-12.5 10.7L-13.2 8L-23.7 8Z" fill="#fbfbfb" stroke="#2b2b2b" stroke-width="0.73"/><path d="M-24.3 5.1L-13.8 5.1L-14.1 2.2L-24.6 2.2Z" fill="#fbfbfb" stroke="#2b2b2b" stroke-width="0.73"/><path d="M-24.6 -0.8L-14.1 -0.8L-13.9 -3.8L-24.4 -3.8Z" fill="#fbfbfb" stroke="#2b2b2b" stroke-width="0.73"/><path d="M-24 -6.7L-13.5 -6.7L-12.9 -9.4L-23.4 -9.4Z" fill="#fbfbfb" stroke="#2b2b2b" stroke-width="0.73"/><path d="M-22.5 -12.1L-12 -12.1L-10.9 -14.5L-21.4 -14.5Z" fill="#fbfbfb" stroke="#2b2b2b" stroke-width="0.73"/><path d="M-20.1 -16.7L-9.6 -16.7L-8.2 -18.6L-18.7 -18.6Z" fill="#fbfbfb" stroke="#2b2b2b" stroke-width="0.73"/><path d="M-17.1 -20.1L-6.6 -20.1L-5 -21.4L-15.5 -21.4Z" fill="#fbfbfb" stroke="#2b2b2b" stroke-width="0.73"/><path d="M-13.7 -22.2L-3.2 -22.2L-1.4 -22.7L-11.9 -22.7Z" fill="#fbfbfb" stroke="#2b2b2b" stroke-width="0.73"/><path d="M-10 -22.8L0.5 -22.8L2.3 -22.5L-8.2 -22.5Z" fill="#fbfbfb" stroke="#2b2b2b" stroke-width="0.73"/><path d="M11.8 0.4L14.1 1L14 3.5L11.6 3.4L11.3 5.3L13.5 6.9L12.9 9.2L10.6 8.1L10.1 9.8L11.9 12.3L11 14.3L9 12.3L8.2 13.7L9.5 16.8L8.3 18.4L6.7 15.6L5.7 16.6L6.5 20.2L5.1 21.3L4 17.9L2.8 18.4L3 22.3L1.5 22.7L0.9 18.9L-0.2 19L-0.6 22.8L-2.2 22.5L-2.1 18.7L-3.3 18.3L-4.3 21.7L-5.7 20.8L-5 17.2L-6.1 16.3L-7.6 19.2L-8.9 17.7L-7.6 14.5L-8.5 13.2L-10.4 15.4L-11.4 13.4L-9.7 10.8L-10.3 9.2L-12.5 10.5L-13.2 8.2L-11.1 6.4L-11.4 4.6L-13.8 4.9L-14.1 2.4L-11.7 1.5L-11.8 -0.4L-14.1 -1L-14 -3.5L-11.6 -3.4L-11.3 -5.3L-13.5 -6.9L-12.9 -9.2L-10.6 -8.1L-10.1 -9.8L-11.9 -12.3L-11 -14.3L-9 -12.3L-8.2 -13.7L-9.5 -16.8L-8.3 -18.4L-6.7 -15.6L-5.7 -16.6L-6.5 -20.2L-5.1 -21.3L-4 -17.9L-2.8 -18.4L-3 -22.3L-1.5 -22.7L-0.9 -18.9L0.2 -19L0.6 -22.8L2.2 -22.5L2.1 -18.7L3.3 -18.3L4.3 -21.7L5.7 -20.8L5 -17.2L6.1 -16.3L7.6 -19.2L8.9 -17.7L7.6 -14.5L8.5 -13.2L10.4 -15.4L11.4 -13.4L9.7 -10.8L10.3 -9.2L12.5 -10.5L13.2 -8.2L11.1 -6.4L11.4 -4.6L13.8 -4.9L14.1 -2.4L11.7 -1.5Z" fill="#f3f3f3" stroke="#2b2b2b" stroke-width="0.92"/><ellipse cx="0.00" cy="0.00" rx="10.66" ry="17.20" fill="#e6e6e6" stroke="#2b2b2b" stroke-width="0.85"/><ellipse cx="0.00" cy="0.00" rx="9.55" ry="15.40" fill="#f6f6f6" stroke="#2b2b2b" stroke-width="0.73"/><path d="M7.6 2.2L2.7 11.7L-5 9.6L-7.6 -2.2L-2.7 -11.7L5 -9.6Z" fill="#dcdcdc" stroke="#2b2b2b" stroke-width="0.85"/><ellipse cx="0.00" cy="0.00" rx="5.08" ry="8.20" fill="#fff" stroke="#2b2b2b" stroke-width="0.85"/><path d="M7.6 2.2L9.8 2.8" stroke="#2b2b2b" stroke-width="0.85"/><path d="M2.7 11.7L3.4 15" stroke="#2b2b2b" stroke-width="0.85"/><path d="M-5 9.6L-6.4 12.3" stroke="#2b2b2b" stroke-width="0.85"/><path d="M-7.6 -2.2L-9.8 -2.8" stroke="#2b2b2b" stroke-width="0.85"/><path d="M-2.7 -11.7L-3.4 -15" stroke="#2b2b2b" stroke-width="0.85"/><path d="M5 -9.6L6.4 -12.3" stroke="#2b2b2b" stroke-width="0.85"/></g>
<g transform="translate(437.0 120.4) rotate(19.8)"><path d="M-19.00 -9.50 A5.89 9.50 0 0 0 -19.00 9.50 L-12.00 9.50 A5.89 9.50 0 0 0 -12.00 -9.50 Z" fill="url(#gs)" stroke="#2b2b2b" stroke-width="1.10"/><ellipse cx="-12.00" cy="0.00" rx="5.89" ry="9.50" fill="#f4f4f4" stroke="#2b2b2b" stroke-width="1.10"/><path d="M-14.00 -13.20 A8.18 13.20 0 0 0 -14.00 13.20 L-8.00 13.20 A8.18 13.20 0 0 0 -8.00 -13.20 Z" fill="url(#gs)" stroke="#2b2b2b" stroke-width="1.10"/><ellipse cx="-8.00" cy="0.00" rx="8.18" ry="13.20" fill="#f4f4f4" stroke="#2b2b2b" stroke-width="1.10"/><path d="M-8.00 -15.80 A9.80 15.80 0 0 0 -8.00 15.80 L0.00 15.80 A9.80 15.80 0 0 0 0.00 -15.80 Z" fill="url(#gs)" stroke="#2b2b2b" stroke-width="1.10"/><ellipse cx="0.00" cy="0.00" rx="9.80" ry="15.80" fill="#efefef" stroke="#2b2b2b" stroke-width="1.10"/><ellipse cx="0.00" cy="0.00" rx="8.06" ry="13.00" fill="#dedede" stroke="#2b2b2b" stroke-width="0.85"/><ellipse cx="0.00" cy="0.00" rx="6.57" ry="10.60" fill="#fdfdfd" stroke="#2b2b2b" stroke-width="0.98"/><path d="M1.5 -10.4A6.6 10.6 0 0 0 1.5 10.4A4.2 10.6 0 0 1 1.5 -10.4Z" fill="url(#sp)" stroke="#2b2b2b" stroke-width="0.73"/></g>
<g transform="translate(449.7 125.0) rotate(19.8)"><path d="M0.00 -8.40 A5.21 8.40 0 0 0 0.00 8.40 L61.00 8.40 A5.21 8.40 0 0 0 61.00 -8.40 Z" fill="url(#gs)" stroke="#2b2b2b" stroke-width="1.10"/><ellipse cx="61.00" cy="0.00" rx="5.21" ry="8.40" fill="#f4f4f4" stroke="#2b2b2b" stroke-width="1.10"/><path d="M61.00 -8.00 A4.96 8.00 0 0 0 61.00 8.00 L74.00 8.00 A4.96 8.00 0 0 0 74.00 -8.00 Z" fill="#fcfcfc" stroke="#2b2b2b" stroke-width="1.10"/><ellipse cx="74.00" cy="0.00" rx="4.96" ry="8.00" fill="#f4f4f4" stroke="#2b2b2b" stroke-width="1.10"/><path d="M74.00 -9.40 A5.83 9.40 0 0 0 74.00 9.40 L127.00 9.40 A5.83 9.40 0 0 0 127.00 -9.40 Z" fill="#949494" stroke="#2b2b2b" stroke-width="0.98"/><path d="M74 9.4L127 9.4M73 9.3L126 9.3M72 8.8L125 8.8M71.1 8.1L124.1 8.1M70.3 7.2L123.3 7.2M69.5 6L122.5 6M69 4.7L122 4.7M68.5 3.2L121.5 3.2M68.3 1.6L121.3 1.6M68.2 0L121.2 0M68.3 -1.6L121.3 -1.6M68.5 -3.2L121.5 -3.2M69 -4.7L122 -4.7M69.5 -6L122.5 -6M70.3 -7.2L123.3 -7.2M71.1 -8.1L124.1 -8.1M72 -8.8L125 -8.8M73 -9.3L126 -9.3M74 -9.4L127 -9.4" stroke="#222" stroke-width="0.55" fill="none"/><ellipse cx="127.00" cy="0.00" rx="5.83" ry="9.40" fill="#b5b5b5" stroke="#2b2b2b" stroke-width="0.98"/><path d="M85.5 -9.4A5.8 9.4 0 0 0 85.5 9.4" fill="none" stroke="#111" stroke-width="1.10"/><path d="M127.00 -7.00 A4.34 7.00 0 0 0 127.00 7.00 L133.00 7.00 A4.34 7.00 0 0 0 133.00 -7.00 Z" fill="url(#gs)" stroke="#2b2b2b" stroke-width="1.10"/><ellipse cx="133.00" cy="0.00" rx="4.34" ry="7.00" fill="#f4f4f4" stroke="#2b2b2b" stroke-width="1.10"/><path d="M133.00 -8.20 A5.08 8.20 0 0 0 133.00 8.20 L147.60 8.20 A5.08 8.20 0 0 0 147.60 -8.20 Z" fill="url(#gs)" stroke="#2b2b2b" stroke-width="1.10"/><ellipse cx="147.60" cy="0.00" rx="5.08" ry="8.20" fill="#f7f7f7" stroke="#2b2b2b" stroke-width="1.10"/><ellipse cx="148.60" cy="0.00" rx="0.93" ry="1.50" fill="#fff" stroke="#2b2b2b" stroke-width="0.73"/></g>
<g transform="translate(611.3 183.1) rotate(19.8)"><ellipse cx="0.00" cy="0.00" rx="7.07" ry="11.40" fill="#f3f3f3" stroke="#2b2b2b" stroke-width="1.10"/><ellipse cx="0.00" cy="0.00" rx="5.95" ry="9.60" fill="#fff" stroke="#2b2b2b" stroke-width="0.88"/></g>
<g transform="translate(646.2 195.7) rotate(19.8)"><path d="M-13.00 -17.00 A10.54 17.00 0 0 0 -13.00 17.00 L0.00 17.00 A10.54 17.00 0 0 0 0.00 -17.00 Z" fill="#4d4d4d" stroke="#2b2b2b" stroke-width="0"/><path d="M-10.3 20L2.7 20L0.5 20.5L-12.5 20.5Z" fill="#fbfbfb" stroke="#2b2b2b" stroke-width="0.73"/><path d="M-14.7 20.3L-1.7 20.3L-3.9 19.5L-16.9 19.5Z" fill="#fbfbfb" stroke="#2b2b2b" stroke-width="0.73"/><path d="M-18.9 18.1L-5.9 18.1L-7.8 16.2L-20.8 16.2Z" fill="#fbfbfb" stroke="#2b2b2b" stroke-width="0.73"/><path d="M-22.4 13.8L-9.4 13.8L-10.8 10.9L-23.8 10.9Z" fill="#fbfbfb" stroke="#2b2b2b" stroke-width="0.73"/><path d="M-24.8 7.7L-11.8 7.7L-12.4 4.3L-25.4 4.3Z" fill="#fbfbfb" stroke="#2b2b2b" stroke-width="0.73"/><path d="M-25.7 0.8L-12.7 0.8L-12.6 -2.8L-25.6 -2.8Z" fill="#fbfbfb" stroke="#2b2b2b" stroke-width="0.73"/><path d="M-25.1 -6.3L-12.1 -6.3L-11.2 -9.6L-24.2 -9.6Z" fill="#fbfbfb" stroke="#2b2b2b" stroke-width="0.73"/><path d="M-23 -12.6L-10 -12.6L-8.5 -15.2L-21.5 -15.2Z" fill="#fbfbfb" stroke="#2b2b2b" stroke-width="0.73"/><path d="M-19.8 -17.4L-6.8 -17.4L-4.8 -19L-17.8 -19Z" fill="#fbfbfb" stroke="#2b2b2b" stroke-width="0.73"/><path d="M-15.7 -20L-2.7 -20L-0.5 -20.5L-13.5 -20.5Z" fill="#fbfbfb" stroke="#2b2b2b" stroke-width="0.73"/><path d="M-11.3 -20.3L1.7 -20.3L3.9 -19.5L-9.1 -19.5Z" fill="#fbfbfb" stroke="#2b2b2b" stroke-width="0.73"/><path d="M10.3 -1L12.7 -0.5L12.6 2.5L10.2 2.6L9.9 4.8L12 6.6L11.3 9.3L9 8.1L8.3 9.9L9.9 12.8L8.7 15L6.7 12.5L5.7 13.9L6.6 17.5L5 18.9L3.7 15.5L2.4 16.2L2.5 20.1L0.7 20.5L0.2 16.6L-1.2 16.5L-1.9 20.3L-3.7 19.6L-3.4 15.7L-4.6 14.8L-6.1 18L-7.7 16.4L-6.5 12.9L-7.5 11.4L-9.5 13.5L-10.7 11.1L-8.8 8.5L-9.5 6.6L-11.8 7.5L-12.4 4.6L-10.1 3.1L-10.3 1L-12.7 0.5L-12.6 -2.5L-10.2 -2.6L-9.9 -4.8L-12 -6.6L-11.3 -9.3L-9 -8.1L-8.3 -9.9L-9.9 -12.8L-8.7 -15L-6.7 -12.5L-5.7 -13.9L-6.6 -17.5L-5 -18.9L-3.7 -15.5L-2.4 -16.2L-2.5 -20.1L-0.7 -20.5L-0.2 -16.6L1.2 -16.5L1.9 -20.3L3.7 -19.6L3.4 -15.7L4.6 -14.8L6.1 -18L7.7 -16.4L6.5 -12.9L7.5 -11.4L9.5 -13.5L10.7 -11.1L8.8 -8.5L9.5 -6.6L11.8 -7.5L12.4 -4.6L10.1 -3.1Z" fill="#f3f3f3" stroke="#2b2b2b" stroke-width="0.92"/><ellipse cx="0.00" cy="0.00" rx="9.42" ry="15.20" fill="#e9e9e9" stroke="#2b2b2b" stroke-width="0.85"/><ellipse cx="0.00" cy="0.00" rx="7.07" ry="11.40" fill="#f2f2f2" stroke="#2b2b2b" stroke-width="0.73"/><ellipse cx="0.00" cy="0.00" rx="6.36" ry="10.26" fill="url(#sp)" stroke="#2b2b2b" stroke-width="0.73"/></g>
<g transform="translate(673.5 205.5) rotate(19.8)"><ellipse cx="0.00" cy="0.00" rx="6.08" ry="9.80" fill="#f3f3f3" stroke="#2b2b2b" stroke-width="1.10"/><ellipse cx="0.00" cy="0.00" rx="5.08" ry="8.20" fill="#fff" stroke="#2b2b2b" stroke-width="0.88"/></g>
<g transform="translate(697.5 214.2) rotate(19.8)"><path d="M-10.00 -10.80 A6.70 10.80 0 0 0 -10.00 10.80 L0.00 10.80 A6.70 10.80 0 0 0 0.00 -10.80 Z" fill="#8a8a8a" stroke="#2b2b2b" stroke-width="0.98"/><path d="M-10 10.8L0 10.8M-11 10.7L-1 10.7M-11.9 10.4L-1.9 10.4M-12.8 9.8L-2.8 9.8M-13.6 9.1L-3.6 9.1M-14.4 8.2L-4.4 8.2M-15.1 7.1L-5.1 7.1M-15.6 5.8L-5.6 5.8M-16.1 4.5L-6.1 4.5M-16.4 3L-6.4 3M-16.6 1.5L-6.6 1.5M-16.7 0L-6.7 0M-16.6 -1.5L-6.6 -1.5M-16.4 -3L-6.4 -3M-16.1 -4.5L-6.1 -4.5M-15.6 -5.8L-5.6 -5.8M-15.1 -7.1L-5.1 -7.1M-14.4 -8.2L-4.4 -8.2M-13.6 -9.1L-3.6 -9.1M-12.8 -9.8L-2.8 -9.8M-11.9 -10.4L-1.9 -10.4M-11 -10.7L-1 -10.7M-10 -10.8L-0 -10.8" stroke="#222" stroke-width="0.55" fill="none"/><ellipse cx="0.00" cy="0.00" rx="6.70" ry="10.80" fill="url(#sp)" stroke="#2b2b2b" stroke-width="0.98"/><ellipse cx="0.80" cy="0.00" rx="3.97" ry="6.40" fill="#fafafa" stroke="#2b2b2b" stroke-width="0.78"/></g>
<g transform="translate(731.5 226.4) rotate(19.8)"><path d="M-12.00 -22.80 A14.14 22.80 0 0 0 -12.00 22.80 L0.00 22.80 A14.14 22.80 0 0 0 0.00 -22.80 Z" fill="#4d4d4d" stroke="#2b2b2b" stroke-width="0"/><path d="M-8 25.4L4 25.4L2.2 25.9L-9.8 25.9Z" fill="#fbfbfb" stroke="#2b2b2b" stroke-width="0.73"/><path d="M-11.6 26.2L0.4 26.2L-1.4 26.1L-13.4 26.1Z" fill="#fbfbfb" stroke="#2b2b2b" stroke-width="0.73"/><path d="M-15.2 25.7L-3.2 25.7L-5 24.9L-17 24.9Z" fill="#fbfbfb" stroke="#2b2b2b" stroke-width="0.73"/><path d="M-18.7 23.9L-6.7 23.9L-8.3 22.5L-20.3 22.5Z" fill="#fbfbfb" stroke="#2b2b2b" stroke-width="0.73"/><path d="M-21.8 20.9L-9.8 20.9L-11.2 19L-23.2 19Z" fill="#fbfbfb" stroke="#2b2b2b" stroke-width="0.73"/><path d="M-24.4 16.9L-12.4 16.9L-13.5 14.5L-25.5 14.5Z" fill="#fbfbfb" stroke="#2b2b2b" stroke-width="0.73"/><path d="M-26.4 12L-14.4 12L-15.2 9.3L-27.2 9.3Z" fill="#fbfbfb" stroke="#2b2b2b" stroke-width="0.73"/><path d="M-27.7 6.5L-15.7 6.5L-16.1 3.6L-28.1 3.6Z" fill="#fbfbfb" stroke="#2b2b2b" stroke-width="0.73"/><path d="M-28.2 0.7L-16.2 0.7L-16.2 -2.3L-28.2 -2.3Z" fill="#fbfbfb" stroke="#2b2b2b" stroke-width="0.73"/><path d="M-27.9 -5.2L-15.9 -5.2L-15.5 -8L-27.5 -8Z" fill="#fbfbfb" stroke="#2b2b2b" stroke-width="0.73"/><path d="M-26.8 -10.7L-14.8 -10.7L-14 -13.4L-26 -13.4Z" fill="#fbfbfb" stroke="#2b2b2b" stroke-width="0.73"/><path d="M-25 -15.8L-13 -15.8L-11.8 -18L-23.8 -18Z" fill="#fbfbfb" stroke="#2b2b2b" stroke-width="0.73"/><path d="M-22.5 -20.1L-10.5 -20.1L-9 -21.8L-21 -21.8Z" fill="#fbfbfb" stroke="#2b2b2b" stroke-width="0.73"/><path d="M-19.4 -23.3L-7.4 -23.3L-5.8 -24.5L-17.8 -24.5Z" fill="#fbfbfb" stroke="#2b2b2b" stroke-width="0.73"/><path d="M-16 -25.4L-4 -25.4L-2.2 -25.9L-14.2 -25.9Z" fill="#fbfbfb" stroke="#2b2b2b" stroke-width="0.73"/><path d="M-12.4 -26.2L-0.4 -26.2L1.4 -26.1L-10.6 -26.1Z" fill="#fbfbfb" stroke="#2b2b2b" stroke-width="0.73"/><path d="M-8.8 -25.7L3.2 -25.7L5 -24.9L-7 -24.9Z" fill="#fbfbfb" stroke="#2b2b2b" stroke-width="0.73"/><path d="M13.9 -0.9L16.2 -0.4L16.2 2L13.8 2.2L13.7 4.1L15.9 5.4L15.5 7.8L13.2 7.1L12.7 8.9L14.8 11L14 13.2L11.9 11.7L11.2 13.3L12.9 16L11.9 17.9L9.9 15.6L9.1 16.9L10.3 20.2L9.1 21.7L7.5 18.8L6.5 19.8L7.3 23.4L5.9 24.4L4.8 21L3.6 21.6L3.9 25.4L2.4 25.9L1.7 22.2L0.5 22.4L0.3 26.2L-1.3 26.1L-1.4 22.3L-2.6 22L-3.3 25.6L-4.8 25L-4.4 21.2L-5.5 20.6L-6.8 23.8L-8.2 22.7L-7.2 19.1L-8.2 18.1L-9.9 20.8L-11.1 19.2L-9.7 16L-10.5 14.6L-12.5 16.7L-13.4 14.7L-11.7 12.2L-12.3 10.5L-14.5 11.8L-15.1 9.5L-13 7.7L-13.4 5.8L-15.8 6.3L-16.1 3.8L-13.8 2.8L-13.9 0.9L-16.2 0.4L-16.2 -2L-13.8 -2.2L-13.7 -4.1L-15.9 -5.4L-15.5 -7.8L-13.2 -7.1L-12.7 -8.9L-14.8 -11L-14 -13.2L-11.9 -11.7L-11.2 -13.3L-12.9 -16L-11.9 -17.9L-9.9 -15.6L-9.1 -16.9L-10.3 -20.2L-9.1 -21.7L-7.5 -18.8L-6.5 -19.8L-7.3 -23.4L-5.9 -24.4L-4.8 -21L-3.6 -21.6L-3.9 -25.4L-2.4 -25.9L-1.7 -22.2L-0.5 -22.4L-0.3 -26.2L1.3 -26.1L1.4 -22.3L2.6 -22L3.3 -25.6L4.8 -25L4.4 -21.2L5.5 -20.6L6.8 -23.8L8.2 -22.7L7.2 -19.1L8.2 -18.1L9.9 -20.8L11.1 -19.2L9.7 -16L10.5 -14.6L12.5 -16.7L13.4 -14.7L11.7 -12.2L12.3 -10.5L14.5 -11.8L15.1 -9.5L13 -7.7L13.4 -5.8L15.8 -6.3L16.1 -3.8L13.8 -2.8Z" fill="#f3f3f3" stroke="#2b2b2b" stroke-width="0.92"/><ellipse cx="0.00" cy="0.00" rx="12.71" ry="20.50" fill="#e6e6e6" stroke="#2b2b2b" stroke-width="0.85"/><ellipse cx="0.00" cy="0.00" rx="9.67" ry="15.60" fill="#f2f2f2" stroke="#2b2b2b" stroke-width="0.85"/><ellipse cx="0.00" cy="0.00" rx="8.56" ry="13.80" fill="#d7d7d7" stroke="#2b2b2b" stroke-width="0.85"/><ellipse cx="0.00" cy="0.00" rx="6.57" ry="10.60" fill="#fff" stroke="#2b2b2b" stroke-width="0.98"/></g>
<g transform="translate(759.0 236.3) rotate(19.8)"><path d="M-3.50 -14.80 A9.18 14.80 0 0 0 -3.50 14.80 L0.00 14.80 A9.18 14.80 0 0 0 0.00 -14.80 Z" fill="#9c9c9c" stroke="#2b2b2b" stroke-width="1.10"/><ellipse cx="0.00" cy="0.00" rx="9.18" ry="14.80" fill="#ededed" stroke="#2b2b2b" stroke-width="1.22"/><ellipse cx="0.00" cy="0.00" rx="7.32" ry="11.80" fill="#d2d2d2" stroke="#2b2b2b" stroke-width="0.98"/><ellipse cx="0.00" cy="0.00" rx="6.08" ry="9.80" fill="#fafafa" stroke="#2b2b2b" stroke-width="0.98"/></g>
<!-- middle -->
<g transform="translate(352.3 252.2) rotate(19.6)"><path d="M-9.50 -21.00 A13.02 21.00 0 0 0 -9.50 21.00 L0.00 21.00 A13.02 21.00 0 0 0 0.00 -21.00 Z" fill="url(#gs)" stroke="#2b2b2b" stroke-width="1.10"/><ellipse cx="0.00" cy="0.00" rx="13.02" ry="21.00" fill="#f8f8f8" stroke="#2b2b2b" stroke-width="1.10"/><ellipse cx="0.00" cy="0.00" rx="10.42" ry="16.80" fill="#ececec" stroke="#2b2b2b" stroke-width="0.88"/><ellipse cx="0.00" cy="0.00" rx="9.11" ry="14.70" fill="#dcdcdc" stroke="#2b2b2b" stroke-width="0.88"/><ellipse cx="0.00" cy="0.00" rx="7.16" ry="11.55" fill="#f3f3f3" stroke="#2b2b2b" stroke-width="0.88"/><ellipse cx="0.00" cy="0.00" rx="4.69" ry="7.56" fill="#fdfdfd" stroke="#2b2b2b" stroke-width="1.10"/><path d="M1.2 -7.3A4.7 7.6 0 0 0 1.2 7.3A5.9 7.6 0 0 1 1.2 -7.3Z" fill="#777" stroke="#2b2b2b" stroke-width="0.77"/></g>
<g transform="translate(302.6 289.5) rotate(19.6)"><path d="M-9.50 -20.80 A12.90 20.80 0 0 0 -9.50 20.80 L0.00 20.80 A12.90 20.80 0 0 0 0.00 -20.80 Z" fill="url(#gs)" stroke="#2b2b2b" stroke-width="1.10"/><ellipse cx="0.00" cy="0.00" rx="12.90" ry="20.80" fill="#f8f8f8" stroke="#2b2b2b" stroke-width="1.10"/><ellipse cx="0.00" cy="0.00" rx="10.32" ry="16.64" fill="#ececec" stroke="#2b2b2b" stroke-width="0.88"/><ellipse cx="0.00" cy="0.00" rx="9.03" ry="14.56" fill="#dcdcdc" stroke="#2b2b2b" stroke-width="0.88"/><ellipse cx="0.00" cy="0.00" rx="7.09" ry="11.44" fill="#f3f3f3" stroke="#2b2b2b" stroke-width="0.88"/><ellipse cx="0.00" cy="0.00" rx="4.64" ry="7.49" fill="#fdfdfd" stroke="#2b2b2b" stroke-width="1.10"/><path d="M1.2 -7.2A4.6 7.5 0 0 0 1.2 7.2A5.8 7.5 0 0 1 1.2 -7.2Z" fill="#777" stroke="#2b2b2b" stroke-width="0.77"/></g>
<g transform="translate(336.9 300.5) rotate(19.6)"><path d="M-10.00 -13.20 A8.18 13.20 0 0 0 -10.00 13.20 L0.00 13.20 A8.18 13.20 0 0 0 0.00 -13.20 Z" fill="url(#gs)" stroke="#2b2b2b" stroke-width="1.10"/><ellipse cx="0.00" cy="0.00" rx="8.18" ry="13.20" fill="#f0f0f0" stroke="#2b2b2b" stroke-width="1.10"/><ellipse cx="0.00" cy="0.00" rx="6.82" ry="11.00" fill="#fff" stroke="#2b2b2b" stroke-width="0.98"/><path d="M-4 -9.2A6.5 10.6 0 0 0 -3.4 10" fill="none" stroke="#555" stroke-width="0.85"/></g>
<g transform="translate(373.9 315.4) rotate(19.6)"><path d="M-8.00 -29.20 A18.10 29.20 0 0 0 -8.00 29.20 L0.00 29.20 A18.10 29.20 0 0 0 0.00 -29.20 Z" fill="#4d4d4d" stroke="#2b2b2b" stroke-width="0"/><path d="M-2.6 31.3L5.4 31.3L3.7 31.9L-4.3 31.9Z" fill="#fbfbfb" stroke="#2b2b2b" stroke-width="0.73"/><path d="M-5.9 32.3L2.1 32.3L0.4 32.5L-7.6 32.5Z" fill="#fbfbfb" stroke="#2b2b2b" stroke-width="0.73"/><path d="M-9.2 32.4L-1.2 32.4L-2.9 32.2L-10.9 32.2Z" fill="#fbfbfb" stroke="#2b2b2b" stroke-width="0.73"/><path d="M-12.5 31.7L-4.5 31.7L-6.1 31L-14.1 31Z" fill="#fbfbfb" stroke="#2b2b2b" stroke-width="0.73"/><path d="M-15.7 30L-7.7 30L-9.2 28.9L-17.2 28.9Z" fill="#fbfbfb" stroke="#2b2b2b" stroke-width="0.73"/><path d="M-18.7 27.6L-10.7 27.6L-12 26.1L-20 26.1Z" fill="#fbfbfb" stroke="#2b2b2b" stroke-width="0.73"/><path d="M-21.3 24.4L-13.3 24.4L-14.5 22.5L-22.5 22.5Z" fill="#fbfbfb" stroke="#2b2b2b" stroke-width="0.73"/><path d="M-23.6 20.5L-15.6 20.5L-16.6 18.4L-24.6 18.4Z" fill="#fbfbfb" stroke="#2b2b2b" stroke-width="0.73"/><path d="M-25.5 16.1L-17.5 16.1L-18.3 13.7L-26.3 13.7Z" fill="#fbfbfb" stroke="#2b2b2b" stroke-width="0.73"/><path d="M-26.9 11.2L-18.9 11.2L-19.4 8.6L-27.4 8.6Z" fill="#fbfbfb" stroke="#2b2b2b" stroke-width="0.73"/><path d="M-27.8 6L-19.8 6L-20 3.4L-28 3.4Z" fill="#fbfbfb" stroke="#2b2b2b" stroke-width="0.73"/><path d="M-28.1 0.7L-20.1 0.7L-20.1 -2L-28.1 -2Z" fill="#fbfbfb" stroke="#2b2b2b" stroke-width="0.73"/><path d="M-27.9 -4.7L-19.9 -4.7L-19.6 -7.3L-27.6 -7.3Z" fill="#fbfbfb" stroke="#2b2b2b" stroke-width="0.73"/><path d="M-27.2 -9.9L-19.2 -9.9L-18.6 -12.4L-26.6 -12.4Z" fill="#fbfbfb" stroke="#2b2b2b" stroke-width="0.73"/><path d="M-25.9 -14.9L-17.9 -14.9L-17.1 -17.2L-25.1 -17.2Z" fill="#fbfbfb" stroke="#2b2b2b" stroke-width="0.73"/><path d="M-24.2 -19.4L-16.2 -19.4L-15.1 -21.5L-23.1 -21.5Z" fill="#fbfbfb" stroke="#2b2b2b" stroke-width="0.73"/><path d="M-22 -23.4L-14 -23.4L-12.7 -25.2L-20.7 -25.2Z" fill="#fbfbfb" stroke="#2b2b2b" stroke-width="0.73"/><path d="M-19.4 -26.8L-11.4 -26.8L-10 -28.2L-18 -28.2Z" fill="#fbfbfb" stroke="#2b2b2b" stroke-width="0.73"/><path d="M-16.5 -29.5L-8.5 -29.5L-6.9 -30.5L-14.9 -30.5Z" fill="#fbfbfb" stroke="#2b2b2b" stroke-width="0.73"/><path d="M-13.4 -31.3L-5.4 -31.3L-3.7 -31.9L-11.7 -31.9Z" fill="#fbfbfb" stroke="#2b2b2b" stroke-width="0.73"/><path d="M-10.1 -32.3L-2.1 -32.3L-0.4 -32.5L-8.4 -32.5Z" fill="#fbfbfb" stroke="#2b2b2b" stroke-width="0.73"/><path d="M-6.8 -32.4L1.2 -32.4L2.9 -32.2L-5.1 -32.2Z" fill="#fbfbfb" stroke="#2b2b2b" stroke-width="0.73"/><path d="M-3.5 -31.7L4.5 -31.7L6.1 -31L-1.9 -31Z" fill="#fbfbfb" stroke="#2b2b2b" stroke-width="0.73"/><path d="M17.8 -0.9L20.1 -0.5L20.1 1.8L17.8 2.1L17.7 3.9L19.9 4.9L19.7 7.1L17.4 6.8L17.1 8.5L19.2 10.1L18.7 12.2L16.4 11.3L16 12.9L17.9 15L17.2 17L15.1 15.5L14.4 17L16.1 19.6L15.2 21.3L13.3 19.3L12.5 20.6L13.9 23.6L12.8 25.1L11.1 22.5L10.2 23.6L11.3 26.9L10.1 28.1L8.7 25.2L7.7 26L8.4 29.6L7.1 30.4L6 27.1L4.9 27.7L5.2 31.4L3.9 31.9L3.1 28.4L2 28.6L2 32.3L0.6 32.5L0.2 28.8L-0.9 28.8L-1.4 32.4L-2.8 32.2L-2.7 28.5L-3.8 28.1L-4.7 31.6L-6 31L-5.6 27.3L-6.7 26.7L-7.8 30L-9.1 29L-8.3 25.5L-9.3 24.6L-10.8 27.5L-11.9 26.2L-10.8 22.9L-11.7 21.8L-13.4 24.2L-14.4 22.7L-13 19.7L-13.7 18.4L-15.7 20.3L-16.6 18.5L-14.8 16L-15.4 14.5L-17.6 15.9L-18.2 13.9L-16.3 11.9L-16.7 10.2L-19 11L-19.4 8.9L-17.3 7.4L-17.5 5.6L-19.8 5.8L-20 3.6L-17.8 2.7L-17.8 0.9L-20.1 0.5L-20.1 -1.8L-17.8 -2.1L-17.7 -3.9L-19.9 -4.9L-19.7 -7.1L-17.4 -6.8L-17.1 -8.5L-19.2 -10.1L-18.7 -12.2L-16.4 -11.3L-16 -12.9L-17.9 -15L-17.2 -17L-15.1 -15.5L-14.4 -17L-16.1 -19.6L-15.2 -21.3L-13.3 -19.3L-12.5 -20.6L-13.9 -23.6L-12.8 -25.1L-11.1 -22.5L-10.2 -23.6L-11.3 -26.9L-10.1 -28.1L-8.7 -25.2L-7.7 -26L-8.4 -29.6L-7.1 -30.4L-6 -27.1L-4.9 -27.7L-5.2 -31.4L-3.9 -31.9L-3.1 -28.4L-2 -28.6L-2 -32.3L-0.6 -32.5L-0.2 -28.8L0.9 -28.8L1.4 -32.4L2.8 -32.2L2.7 -28.5L3.8 -28.1L4.7 -31.6L6 -31L5.6 -27.3L6.7 -26.7L7.8 -30L9.1 -29L8.3 -25.5L9.3 -24.6L10.8 -27.5L11.9 -26.2L10.8 -22.9L11.7 -21.8L13.4 -24.2L14.4 -22.7L13 -19.7L13.7 -18.4L15.7 -20.3L16.6 -18.5L14.8 -16L15.4 -14.5L17.6 -15.9L18.2 -13.9L16.3 -11.9L16.7 -10.2L19 -11L19.4 -8.9L17.3 -7.4L17.5 -5.6L19.8 -5.8L20 -3.6L17.8 -2.7Z" fill="#f3f3f3" stroke="#2b2b2b" stroke-width="0.92"/><ellipse cx="0.00" cy="0.00" rx="16.43" ry="26.50" fill="#f1f1f1" stroke="#2b2b2b" stroke-width="0.85"/><ellipse cx="0.00" cy="0.00" rx="15.38" ry="24.80" fill="#d6d6d6" stroke="#2b2b2b" stroke-width="0.85"/><ellipse cx="11.6" cy="5.8" rx="2.6" ry="4.2" fill="#fff" stroke="#2b2b2b" stroke-width="0.85"/><ellipse cx="2.7" cy="19" rx="2.6" ry="4.2" fill="#fff" stroke="#2b2b2b" stroke-width="0.85"/><ellipse cx="-8.9" cy="13.3" rx="2.6" ry="4.2" fill="#fff" stroke="#2b2b2b" stroke-width="0.85"/><ellipse cx="-11.6" cy="-5.8" rx="2.6" ry="4.2" fill="#fff" stroke="#2b2b2b" stroke-width="0.85"/><ellipse cx="-2.7" cy="-19" rx="2.6" ry="4.2" fill="#fff" stroke="#2b2b2b" stroke-width="0.85"/><ellipse cx="8.9" cy="-13.3" rx="2.6" ry="4.2" fill="#fff" stroke="#2b2b2b" stroke-width="0.85"/><ellipse cx="0.00" cy="0.00" rx="9.05" ry="14.60" fill="#e8e8e8" stroke="#2b2b2b" stroke-width="0.85"/><path d="M0.00 -12.40 A7.69 12.40 0 0 0 0.00 12.40 L9.00 12.40 A7.69 12.40 0 0 0 9.00 -12.40 Z" fill="url(#gs)" stroke="#2b2b2b" stroke-width="0.98"/><ellipse cx="9.00" cy="0.00" rx="7.69" ry="12.40" fill="#f4f4f4" stroke="#2b2b2b" stroke-width="0.98"/><ellipse cx="9.00" cy="0.00" rx="5.33" ry="8.60" fill="#f2f2f2" stroke="#2b2b2b" stroke-width="0.73"/><ellipse cx="9.00" cy="0.00" rx="4.80" ry="7.74" fill="url(#sp)" stroke="#2b2b2b" stroke-width="0.73"/></g>
<g transform="translate(421.5 331.6) rotate(19.6)"><path d="M-8.00 -31.20 A19.34 31.20 0 0 0 -8.00 31.20 L0.00 31.20 A19.34 31.20 0 0 0 0.00 -31.20 Z" fill="#4d4d4d" stroke="#2b2b2b" stroke-width="0"/><path d="M-1.6 32.9L6.4 32.9L4.8 33.6L-3.2 33.6Z" fill="#fbfbfb" stroke="#2b2b2b" stroke-width="0.73"/><path d="M-4.9 34.1L3.1 34.1L1.4 34.4L-6.6 34.4Z" fill="#fbfbfb" stroke="#2b2b2b" stroke-width="0.73"/><path d="M-8.2 34.5L-0.2 34.5L-1.9 34.4L-9.9 34.4Z" fill="#fbfbfb" stroke="#2b2b2b" stroke-width="0.73"/><path d="M-11.6 34L-3.6 34L-5.2 33.5L-13.2 33.5Z" fill="#fbfbfb" stroke="#2b2b2b" stroke-width="0.73"/><path d="M-14.8 32.7L-6.8 32.7L-8.4 31.7L-16.4 31.7Z" fill="#fbfbfb" stroke="#2b2b2b" stroke-width="0.73"/><path d="M-17.9 30.6L-9.9 30.6L-11.4 29.2L-19.4 29.2Z" fill="#fbfbfb" stroke="#2b2b2b" stroke-width="0.73"/><path d="M-20.8 27.7L-12.8 27.7L-14.1 26L-22.1 26Z" fill="#fbfbfb" stroke="#2b2b2b" stroke-width="0.73"/><path d="M-23.3 24.1L-15.3 24.1L-16.4 22.1L-24.4 22.1Z" fill="#fbfbfb" stroke="#2b2b2b" stroke-width="0.73"/><path d="M-25.4 20L-17.4 20L-18.4 17.7L-26.4 17.7Z" fill="#fbfbfb" stroke="#2b2b2b" stroke-width="0.73"/><path d="M-27.2 15.3L-19.2 15.3L-19.8 12.9L-27.8 12.9Z" fill="#fbfbfb" stroke="#2b2b2b" stroke-width="0.73"/><path d="M-28.4 10.3L-20.4 10.3L-20.9 7.7L-28.9 7.7Z" fill="#fbfbfb" stroke="#2b2b2b" stroke-width="0.73"/><path d="M-29.2 5L-21.2 5L-21.3 2.3L-29.3 2.3Z" fill="#fbfbfb" stroke="#2b2b2b" stroke-width="0.73"/><path d="M-29.4 -0.4L-21.4 -0.4L-21.3 -3.1L-29.3 -3.1Z" fill="#fbfbfb" stroke="#2b2b2b" stroke-width="0.73"/><path d="M-29.1 -5.8L-21.1 -5.8L-20.7 -8.4L-28.7 -8.4Z" fill="#fbfbfb" stroke="#2b2b2b" stroke-width="0.73"/><path d="M-28.3 -11L-20.3 -11L-19.7 -13.5L-27.7 -13.5Z" fill="#fbfbfb" stroke="#2b2b2b" stroke-width="0.73"/><path d="M-27 -16L-19 -16L-18.1 -18.3L-26.1 -18.3Z" fill="#fbfbfb" stroke="#2b2b2b" stroke-width="0.73"/><path d="M-25.2 -20.6L-17.2 -20.6L-16.1 -22.7L-24.1 -22.7Z" fill="#fbfbfb" stroke="#2b2b2b" stroke-width="0.73"/><path d="M-23 -24.7L-15 -24.7L-13.7 -26.5L-21.7 -26.5Z" fill="#fbfbfb" stroke="#2b2b2b" stroke-width="0.73"/><path d="M-20.4 -28.1L-12.4 -28.1L-11 -29.6L-19 -29.6Z" fill="#fbfbfb" stroke="#2b2b2b" stroke-width="0.73"/><path d="M-17.5 -30.9L-9.5 -30.9L-8 -32L-16 -32Z" fill="#fbfbfb" stroke="#2b2b2b" stroke-width="0.73"/><path d="M-14.4 -32.9L-6.4 -32.9L-4.8 -33.6L-12.8 -33.6Z" fill="#fbfbfb" stroke="#2b2b2b" stroke-width="0.73"/><path d="M-11.1 -34.1L-3.1 -34.1L-1.4 -34.4L-9.4 -34.4Z" fill="#fbfbfb" stroke="#2b2b2b" stroke-width="0.73"/><path d="M-7.8 -34.5L0.2 -34.5L1.9 -34.4L-6.1 -34.4Z" fill="#fbfbfb" stroke="#2b2b2b" stroke-width="0.73"/><path d="M-4.4 -34L3.6 -34L5.2 -33.5L-2.8 -33.5Z" fill="#fbfbfb" stroke="#2b2b2b" stroke-width="0.73"/><path d="M19.1 0L21.4 0.6L21.3 2.9L19 3L18.9 4.9L21.1 6L20.8 8.2L18.5 7.8L18.2 9.6L20.2 11.2L19.7 13.3L17.5 12.4L17 14L18.9 16.2L18.2 18.2L16.1 16.6L15.4 18.1L17.1 20.8L16.2 22.5L14.3 20.5L13.5 21.8L14.9 24.8L13.8 26.3L12.1 23.8L11.2 24.9L12.3 28.3L11.1 29.5L9.6 26.6L8.6 27.5L9.4 31L8.1 31.9L7 28.7L5.9 29.3L6.3 33L4.9 33.6L4.1 30.1L3 30.4L3 34.2L1.6 34.4L1.1 30.7L-0 30.8L-0.4 34.5L-1.8 34.4L-1.9 30.7L-3 30.4L-3.7 34L-5.1 33.5L-4.8 29.8L-5.9 29.3L-7 32.6L-8.3 31.8L-7.7 28.2L-8.7 27.4L-10 30.5L-11.3 29.3L-10.3 25.9L-11.2 24.9L-12.9 27.6L-14 26.1L-12.7 23L-13.5 21.8L-15.4 24L-16.3 22.3L-14.8 19.5L-15.5 18.1L-17.5 19.8L-18.3 17.9L-16.5 15.6L-17 13.9L-19.2 15.1L-19.8 13.1L-17.8 11.2L-18.2 9.5L-20.5 10.1L-20.8 7.9L-18.7 6.6L-18.9 4.8L-21.2 4.8L-21.3 2.6L-19.1 1.8L-19.1 -0L-21.4 -0.6L-21.3 -2.9L-19 -3L-18.9 -4.9L-21.1 -6L-20.8 -8.2L-18.5 -7.8L-18.2 -9.6L-20.2 -11.2L-19.7 -13.3L-17.5 -12.4L-17 -14L-18.9 -16.2L-18.2 -18.2L-16.1 -16.6L-15.4 -18.1L-17.1 -20.8L-16.2 -22.5L-14.3 -20.5L-13.5 -21.8L-14.9 -24.8L-13.8 -26.3L-12.1 -23.8L-11.2 -24.9L-12.3 -28.3L-11.1 -29.5L-9.6 -26.6L-8.6 -27.5L-9.4 -31L-8.1 -31.9L-7 -28.7L-5.9 -29.3L-6.3 -33L-4.9 -33.6L-4.1 -30.1L-3 -30.4L-3 -34.2L-1.6 -34.4L-1.1 -30.7L0 -30.8L0.4 -34.5L1.8 -34.4L1.9 -30.7L3 -30.4L3.7 -34L5.1 -33.5L4.8 -29.8L5.9 -29.3L7 -32.6L8.3 -31.8L7.7 -28.2L8.7 -27.4L10 -30.5L11.3 -29.3L10.3 -25.9L11.2 -24.9L12.9 -27.6L14 -26.1L12.7 -23L13.5 -21.8L15.4 -24L16.3 -22.3L14.8 -19.5L15.5 -18.1L17.5 -19.8L18.3 -17.9L16.5 -15.6L17 -13.9L19.2 -15.1L19.8 -13.1L17.8 -11.2L18.2 -9.5L20.5 -10.1L20.8 -7.9L18.7 -6.6L18.9 -4.8L21.2 -4.8L21.3 -2.6L19.1 -1.8Z" fill="#f3f3f3" stroke="#2b2b2b" stroke-width="0.92"/><ellipse cx="0.00" cy="0.00" rx="17.61" ry="28.40" fill="#f1f1f1" stroke="#2b2b2b" stroke-width="0.85"/><ellipse cx="0.00" cy="0.00" rx="16.49" ry="26.60" fill="#d6d6d6" stroke="#2b2b2b" stroke-width="0.85"/><ellipse cx="13" cy="2.1" rx="2.9" ry="4.6" fill="#fff" stroke="#2b2b2b" stroke-width="0.85"/><ellipse cx="5.4" cy="19.1" rx="2.9" ry="4.6" fill="#fff" stroke="#2b2b2b" stroke-width="0.85"/><ellipse cx="-7.6" cy="17" rx="2.9" ry="4.6" fill="#fff" stroke="#2b2b2b" stroke-width="0.85"/><ellipse cx="-13" cy="-2.1" rx="2.9" ry="4.6" fill="#fff" stroke="#2b2b2b" stroke-width="0.85"/><ellipse cx="-5.4" cy="-19.1" rx="2.9" ry="4.6" fill="#fff" stroke="#2b2b2b" stroke-width="0.85"/><ellipse cx="7.6" cy="-17" rx="2.9" ry="4.6" fill="#fff" stroke="#2b2b2b" stroke-width="0.85"/><ellipse cx="0.00" cy="0.00" rx="9.55" ry="15.40" fill="#e8e8e8" stroke="#2b2b2b" stroke-width="0.85"/><path d="M0.00 -12.60 A7.81 12.60 0 0 0 0.00 12.60 L5.00 12.60 A7.81 12.60 0 0 0 5.00 -12.60 Z" fill="url(#gs)" stroke="#2b2b2b" stroke-width="0.98"/><ellipse cx="5.00" cy="0.00" rx="7.81" ry="12.60" fill="#f4f4f4" stroke="#2b2b2b" stroke-width="0.98"/><ellipse cx="5.00" cy="0.00" rx="5.46" ry="8.80" fill="#f2f2f2" stroke="#2b2b2b" stroke-width="0.73"/><ellipse cx="5.00" cy="0.00" rx="4.91" ry="7.92" fill="url(#sp)" stroke="#2b2b2b" stroke-width="0.73"/></g>
<g transform="translate(459.9 345.0) rotate(19.6)"><path d="M-10.00 -13.20 A8.18 13.20 0 0 0 -10.00 13.20 L0.00 13.20 A8.18 13.20 0 0 0 0.00 -13.20 Z" fill="url(#gs)" stroke="#2b2b2b" stroke-width="1.10"/><ellipse cx="0.00" cy="0.00" rx="8.18" ry="13.20" fill="#f0f0f0" stroke="#2b2b2b" stroke-width="1.10"/><ellipse cx="0.00" cy="0.00" rx="6.82" ry="11.00" fill="#fff" stroke="#2b2b2b" stroke-width="0.98"/><path d="M-4 -9.2A6.5 10.6 0 0 0 -3.4 10" fill="none" stroke="#555" stroke-width="0.85"/></g>
<g transform="translate(497.8 301.3) rotate(19.6)"><path d="M-21.00 -20.20 A12.52 20.20 0 0 0 -21.00 20.20 L-11.50 20.20 A12.52 20.20 0 0 0 -11.50 -20.20 Z" fill="#4d4d4d" stroke="#2b2b2b" stroke-width="0"/><path d="M-16.3 22.3L-6.8 22.3L-8.6 23.1L-18.1 23.1Z" fill="#fbfbfb" stroke="#2b2b2b" stroke-width="0.73"/><path d="M-20 23.5L-10.5 23.5L-12.5 23.5L-22 23.5Z" fill="#fbfbfb" stroke="#2b2b2b" stroke-width="0.73"/><path d="M-23.9 23.1L-14.4 23.1L-16.2 22.3L-25.7 22.3Z" fill="#fbfbfb" stroke="#2b2b2b" stroke-width="0.73"/><path d="M-27.5 21.2L-18 21.2L-19.6 19.6L-29.1 19.6Z" fill="#fbfbfb" stroke="#2b2b2b" stroke-width="0.73"/><path d="M-30.6 17.7L-21.1 17.7L-22.5 15.6L-32 15.6Z" fill="#fbfbfb" stroke="#2b2b2b" stroke-width="0.73"/><path d="M-33.2 13.1L-23.7 13.1L-24.6 10.4L-34.1 10.4Z" fill="#fbfbfb" stroke="#2b2b2b" stroke-width="0.73"/><path d="M-34.9 7.6L-25.4 7.6L-25.9 4.6L-35.4 4.6Z" fill="#fbfbfb" stroke="#2b2b2b" stroke-width="0.73"/><path d="M-35.6 1.5L-26.1 1.5L-26.1 -1.5L-35.6 -1.5Z" fill="#fbfbfb" stroke="#2b2b2b" stroke-width="0.73"/><path d="M-35.4 -4.6L-25.9 -4.6L-25.4 -7.6L-34.9 -7.6Z" fill="#fbfbfb" stroke="#2b2b2b" stroke-width="0.73"/><path d="M-34.1 -10.4L-24.6 -10.4L-23.7 -13.1L-33.2 -13.1Z" fill="#fbfbfb" stroke="#2b2b2b" stroke-width="0.73"/><path d="M-32 -15.6L-22.5 -15.6L-21.1 -17.7L-30.6 -17.7Z" fill="#fbfbfb" stroke="#2b2b2b" stroke-width="0.73"/><path d="M-29.1 -19.6L-19.6 -19.6L-18 -21.2L-27.5 -21.2Z" fill="#fbfbfb" stroke="#2b2b2b" stroke-width="0.73"/><path d="M-25.7 -22.3L-16.2 -22.3L-14.4 -23.1L-23.9 -23.1Z" fill="#fbfbfb" stroke="#2b2b2b" stroke-width="0.73"/><path d="M-22 -23.5L-12.5 -23.5L-10.5 -23.5L-20 -23.5Z" fill="#fbfbfb" stroke="#2b2b2b" stroke-width="0.73"/><path d="M-18.1 -23.1L-8.6 -23.1L-6.8 -22.3L-16.3 -22.3Z" fill="#fbfbfb" stroke="#2b2b2b" stroke-width="0.73"/><path d="M0.7 -1.6L3.1 -1.3L3.1 1.3L0.7 1.6L0.6 3.6L2.8 4.8L2.4 7.4L0.1 6.7L-0.4 8.5L1.6 10.7L0.8 12.9L-1.4 11.3L-2.1 12.8L-0.6 15.7L-1.7 17.6L-3.6 15.1L-4.5 16.3L-3.5 19.8L-4.9 21.1L-6.2 17.9L-7.4 18.6L-6.9 22.4L-8.5 23.1L-9.3 19.5L-10.5 19.7L-10.7 23.6L-12.3 23.6L-12.5 19.7L-13.7 19.5L-14.5 23.1L-16.1 22.4L-15.6 18.6L-16.8 17.9L-18.1 21.1L-19.5 19.8L-18.5 16.3L-19.4 15.1L-21.3 17.6L-22.4 15.7L-20.9 12.8L-21.6 11.3L-23.8 12.9L-24.6 10.7L-22.6 8.5L-23.1 6.7L-25.4 7.4L-25.8 4.8L-23.6 3.6L-23.7 1.6L-26.1 1.3L-26.1 -1.3L-23.7 -1.6L-23.6 -3.6L-25.8 -4.8L-25.4 -7.4L-23.1 -6.7L-22.6 -8.5L-24.6 -10.7L-23.8 -12.9L-21.6 -11.3L-20.9 -12.8L-22.4 -15.7L-21.3 -17.6L-19.4 -15.1L-18.5 -16.3L-19.5 -19.8L-18.1 -21.1L-16.8 -17.9L-15.6 -18.6L-16.1 -22.4L-14.5 -23.1L-13.7 -19.5L-12.5 -19.7L-12.3 -23.6L-10.7 -23.6L-10.5 -19.7L-9.3 -19.5L-8.5 -23.1L-6.9 -22.4L-7.4 -18.6L-6.2 -17.9L-4.9 -21.1L-3.5 -19.8L-4.5 -16.3L-3.6 -15.1L-1.7 -17.6L-0.6 -15.7L-2.1 -12.8L-1.4 -11.3L0.8 -12.9L1.6 -10.7L-0.4 -8.5L0.1 -6.7L2.4 -7.4L2.8 -4.8L0.6 -3.6Z" fill="#f3f3f3" stroke="#2b2b2b" stroke-width="0.92"/><path d="M-10.50 -20.20 A12.52 20.20 0 0 0 -10.50 20.20 L-1.50 20.20 A12.52 20.20 0 0 0 -1.50 -20.20 Z" fill="#4d4d4d" stroke="#2b2b2b" stroke-width="0"/><path d="M-7.5 23.1L1.5 23.1L-0.4 23.5L-9.4 23.5Z" fill="#fbfbfb" stroke="#2b2b2b" stroke-width="0.73"/><path d="M-11.3 23.6L-2.3 23.6L-4.2 23.2L-13.2 23.2Z" fill="#fbfbfb" stroke="#2b2b2b" stroke-width="0.73"/><path d="M-15.1 22.4L-6.1 22.4L-7.8 21.3L-16.8 21.3Z" fill="#fbfbfb" stroke="#2b2b2b" stroke-width="0.73"/><path d="M-18.5 19.8L-9.5 19.8L-11 17.9L-20 17.9Z" fill="#fbfbfb" stroke="#2b2b2b" stroke-width="0.73"/><path d="M-21.4 15.8L-12.4 15.8L-13.6 13.3L-22.6 13.3Z" fill="#fbfbfb" stroke="#2b2b2b" stroke-width="0.73"/><path d="M-23.6 10.7L-14.6 10.7L-15.3 7.8L-24.3 7.8Z" fill="#fbfbfb" stroke="#2b2b2b" stroke-width="0.73"/><path d="M-24.8 4.9L-15.8 4.9L-16.1 1.8L-25.1 1.8Z" fill="#fbfbfb" stroke="#2b2b2b" stroke-width="0.73"/><path d="M-25.1 -1.3L-16.1 -1.3L-15.9 -4.4L-24.9 -4.4Z" fill="#fbfbfb" stroke="#2b2b2b" stroke-width="0.73"/><path d="M-24.4 -7.3L-15.4 -7.3L-14.7 -10.2L-23.7 -10.2Z" fill="#fbfbfb" stroke="#2b2b2b" stroke-width="0.73"/><path d="M-22.8 -12.9L-13.8 -12.9L-12.6 -15.4L-21.6 -15.4Z" fill="#fbfbfb" stroke="#2b2b2b" stroke-width="0.73"/><path d="M-20.3 -17.6L-11.3 -17.6L-9.8 -19.5L-18.8 -19.5Z" fill="#fbfbfb" stroke="#2b2b2b" stroke-width="0.73"/><path d="M-17.1 -21.1L-8.1 -21.1L-6.4 -22.3L-15.4 -22.3Z" fill="#fbfbfb" stroke="#2b2b2b" stroke-width="0.73"/><path d="M-13.5 -23.1L-4.5 -23.1L-2.6 -23.5L-11.6 -23.5Z" fill="#fbfbfb" stroke="#2b2b2b" stroke-width="0.73"/><path d="M-9.7 -23.6L-0.7 -23.6L1.2 -23.2L-7.8 -23.2Z" fill="#fbfbfb" stroke="#2b2b2b" stroke-width="0.73"/><path d="M10.8 0.8L13.1 1.5L12.9 4.1L10.5 4L10.2 5.9L12.4 7.6L11.8 10L9.5 8.8L8.9 10.6L10.7 13.1L9.7 15.2L7.7 13.1L6.8 14.5L8.2 17.7L6.9 19.3L5.3 16.5L4.2 17.5L5 21.2L3.5 22.2L2.4 18.8L1.2 19.3L1.4 23.1L-0.2 23.5L-0.8 19.8L-2 19.8L-2.5 23.6L-4 23.2L-4 19.4L-5.1 18.9L-6.2 22.4L-7.7 21.4L-7 17.7L-8 16.7L-9.6 19.6L-10.9 18.1L-9.6 14.8L-10.5 13.4L-12.5 15.6L-13.5 13.5L-11.7 10.9L-12.4 9.2L-14.6 10.4L-15.3 8.1L-13.1 6.3L-13.5 4.4L-15.8 4.6L-16.1 2L-13.8 1.2L-13.8 -0.8L-16.1 -1.5L-15.9 -4.1L-13.5 -4L-13.2 -5.9L-15.4 -7.6L-14.8 -10L-12.5 -8.8L-11.9 -10.6L-13.7 -13.1L-12.7 -15.2L-10.7 -13.1L-9.8 -14.5L-11.2 -17.7L-9.9 -19.3L-8.3 -16.5L-7.2 -17.5L-8 -21.2L-6.5 -22.2L-5.4 -18.8L-4.2 -19.3L-4.4 -23.1L-2.8 -23.5L-2.2 -19.8L-1 -19.8L-0.5 -23.6L1 -23.2L1 -19.4L2.1 -18.9L3.2 -22.4L4.7 -21.4L4 -17.7L5 -16.7L6.6 -19.6L7.9 -18.1L6.6 -14.8L7.5 -13.4L9.5 -15.6L10.5 -13.5L8.7 -10.9L9.4 -9.2L11.6 -10.4L12.3 -8.1L10.1 -6.3L10.5 -4.4L12.8 -4.6L13.1 -2L10.8 -1.2Z" fill="#f3f3f3" stroke="#2b2b2b" stroke-width="0.92"/><ellipse cx="-1.50" cy="0.00" rx="11.47" ry="18.50" fill="#e2e2e2" stroke="#2b2b2b" stroke-width="0.85"/><path d="M-1.50 -15.50 A9.61 15.50 0 0 0 -1.50 15.50 L2.00 15.50 A9.61 15.50 0 0 0 2.00 -15.50 Z" fill="url(#gs)" stroke="#2b2b2b" stroke-width="0.98"/><ellipse cx="2.00" cy="0.00" rx="9.61" ry="15.50" fill="#ededed" stroke="#2b2b2b" stroke-width="0.98"/><path d="M2.00 -12.00 A7.44 12.00 0 0 0 2.00 12.00 L6.00 12.00 A7.44 12.00 0 0 0 6.00 -12.00 Z" fill="url(#gs)" stroke="#2b2b2b" stroke-width="0.98"/><ellipse cx="6.00" cy="0.00" rx="7.44" ry="12.00" fill="#eee" stroke="#2b2b2b" stroke-width="0.85"/><path d="M6.00 -9.40 A5.83 9.40 0 0 0 6.00 9.40 L50.00 9.40 A5.83 9.40 0 0 0 50.00 -9.40 Z" fill="url(#gs)" stroke="#2b2b2b" stroke-width="1.10"/><ellipse cx="50.00" cy="0.00" rx="5.83" ry="9.40" fill="#f4f4f4" stroke="#2b2b2b" stroke-width="1.10"/><path d="M50.00 -11.40 A7.07 11.40 0 0 0 50.00 11.40 L54.00 11.40 A7.07 11.40 0 0 0 54.00 -11.40 Z" fill="url(#gs)" stroke="#2b2b2b" stroke-width="1.10"/><ellipse cx="54.00" cy="0.00" rx="7.07" ry="11.40" fill="#f4f4f4" stroke="#2b2b2b" stroke-width="1.10"/><path d="M54.00 -10.00 A6.20 10.00 0 0 0 54.00 10.00 L60.00 10.00 A6.20 10.00 0 0 0 60.00 -10.00 Z" fill="url(#gs)" stroke="#2b2b2b" stroke-width="0.98"/><ellipse cx="60.00" cy="0.00" rx="6.20" ry="10.00" fill="#f0f0f0" stroke="#2b2b2b" stroke-width="1.10"/><ellipse cx="60.00" cy="0.00" rx="4.59" ry="7.40" fill="#fff" stroke="#2b2b2b" stroke-width="0.98"/></g>
<g transform="translate(499.6 359.4) rotate(19.6)"><path d="M-9.00 -26.60 A16.49 26.60 0 0 0 -9.00 26.60 L0.00 26.60 A16.49 26.60 0 0 0 0.00 -26.60 Z" fill="#4d4d4d" stroke="#2b2b2b" stroke-width="0"/><path d="M-5.2 29.4L3.8 29.4L2 29.8L-7 29.8Z" fill="#fbfbfb" stroke="#2b2b2b" stroke-width="0.73"/><path d="M-8.8 30L0.2 30L-1.7 29.9L-10.7 29.9Z" fill="#fbfbfb" stroke="#2b2b2b" stroke-width="0.73"/><path d="M-12.5 29.5L-3.5 29.5L-5.2 28.8L-14.2 28.8Z" fill="#fbfbfb" stroke="#2b2b2b" stroke-width="0.73"/><path d="M-16 27.8L-7 27.8L-8.6 26.6L-17.6 26.6Z" fill="#fbfbfb" stroke="#2b2b2b" stroke-width="0.73"/><path d="M-19.2 25.1L-10.2 25.1L-11.7 23.4L-20.7 23.4Z" fill="#fbfbfb" stroke="#2b2b2b" stroke-width="0.73"/><path d="M-22 21.4L-13 21.4L-14.3 19.2L-23.3 19.2Z" fill="#fbfbfb" stroke="#2b2b2b" stroke-width="0.73"/><path d="M-24.4 16.9L-15.4 16.9L-16.3 14.4L-25.3 14.4Z" fill="#fbfbfb" stroke="#2b2b2b" stroke-width="0.73"/><path d="M-26.1 11.7L-17.1 11.7L-17.7 9L-26.7 9Z" fill="#fbfbfb" stroke="#2b2b2b" stroke-width="0.73"/><path d="M-27.2 6.1L-18.2 6.1L-18.5 3.2L-27.5 3.2Z" fill="#fbfbfb" stroke="#2b2b2b" stroke-width="0.73"/><path d="M-27.6 0.3L-18.6 0.3L-18.5 -2.7L-27.5 -2.7Z" fill="#fbfbfb" stroke="#2b2b2b" stroke-width="0.73"/><path d="M-27.3 -5.6L-18.3 -5.6L-17.8 -8.4L-26.8 -8.4Z" fill="#fbfbfb" stroke="#2b2b2b" stroke-width="0.73"/><path d="M-26.2 -11.2L-17.2 -11.2L-16.5 -13.9L-25.5 -13.9Z" fill="#fbfbfb" stroke="#2b2b2b" stroke-width="0.73"/><path d="M-24.6 -16.4L-15.6 -16.4L-14.5 -18.8L-23.5 -18.8Z" fill="#fbfbfb" stroke="#2b2b2b" stroke-width="0.73"/><path d="M-22.3 -21L-13.3 -21L-11.9 -23L-20.9 -23Z" fill="#fbfbfb" stroke="#2b2b2b" stroke-width="0.73"/><path d="M-19.5 -24.8L-10.5 -24.8L-8.9 -26.3L-17.9 -26.3Z" fill="#fbfbfb" stroke="#2b2b2b" stroke-width="0.73"/><path d="M-16.3 -27.6L-7.3 -27.6L-5.6 -28.6L-14.6 -28.6Z" fill="#fbfbfb" stroke="#2b2b2b" stroke-width="0.73"/><path d="M-12.8 -29.4L-3.8 -29.4L-2 -29.8L-11 -29.8Z" fill="#fbfbfb" stroke="#2b2b2b" stroke-width="0.73"/><path d="M-9.2 -30L-0.2 -30L1.7 -29.9L-7.3 -29.9Z" fill="#fbfbfb" stroke="#2b2b2b" stroke-width="0.73"/><path d="M-5.5 -29.5L3.5 -29.5L5.2 -28.8L-3.8 -28.8Z" fill="#fbfbfb" stroke="#2b2b2b" stroke-width="0.73"/><path d="M16.2 -0.5L18.6 -0L18.5 2.4L16.2 2.6L16 4.6L18.2 5.8L17.9 8.2L15.5 7.7L15.1 9.5L17.2 11.4L16.5 13.7L14.3 12.4L13.7 14.1L15.5 16.6L14.6 18.6L12.5 16.7L11.7 18.1L13.2 21.2L12 22.9L10.3 20.3L9.3 21.5L10.4 24.9L9 26.2L7.6 23.1L6.5 24L7.1 27.7L5.7 28.6L4.7 25.1L3.5 25.6L3.7 29.4L2.1 29.8L1.5 26.1L0.3 26.2L0 30L-1.5 29.9L-1.6 26.1L-2.8 25.8L-3.6 29.4L-5.1 28.9L-4.8 25.1L-5.9 24.4L-7.1 27.7L-8.5 26.7L-7.7 23.1L-8.7 22.1L-10.3 25L-11.6 23.5L-10.3 20.2L-11.2 18.9L-13.1 21.2L-14.2 19.4L-12.6 16.6L-13.3 15L-15.5 16.7L-16.3 14.6L-14.3 12.3L-14.9 10.5L-17.2 11.5L-17.7 9.2L-15.6 7.5L-15.9 5.6L-18.2 5.9L-18.5 3.4L-16.2 2.5L-16.2 0.5L-18.6 0L-18.5 -2.4L-16.2 -2.6L-16 -4.6L-18.2 -5.8L-17.9 -8.2L-15.5 -7.7L-15.1 -9.5L-17.2 -11.4L-16.5 -13.7L-14.3 -12.4L-13.7 -14.1L-15.5 -16.6L-14.6 -18.6L-12.5 -16.7L-11.7 -18.1L-13.2 -21.2L-12 -22.9L-10.3 -20.3L-9.3 -21.5L-10.4 -24.9L-9 -26.2L-7.6 -23.1L-6.5 -24L-7.1 -27.7L-5.7 -28.6L-4.7 -25.1L-3.5 -25.6L-3.7 -29.4L-2.1 -29.8L-1.5 -26.1L-0.3 -26.2L-0 -30L1.5 -29.9L1.6 -26.1L2.8 -25.8L3.6 -29.4L5.1 -28.9L4.8 -25.1L5.9 -24.4L7.1 -27.7L8.5 -26.7L7.7 -23.1L8.7 -22.1L10.3 -25L11.6 -23.5L10.3 -20.2L11.2 -18.9L13.1 -21.2L14.2 -19.4L12.6 -16.6L13.3 -15L15.5 -16.7L16.3 -14.6L14.3 -12.3L14.9 -10.5L17.2 -11.5L17.7 -9.2L15.6 -7.5L15.9 -5.6L18.2 -5.9L18.5 -3.4L16.2 -2.5Z" fill="#f3f3f3" stroke="#2b2b2b" stroke-width="0.92"/><ellipse cx="0.00" cy="0.00" rx="14.57" ry="23.50" fill="#e6e6e6" stroke="#2b2b2b" stroke-width="0.85"/><ellipse cx="0.00" cy="0.00" rx="13.33" ry="21.50" fill="#f3f3f3" stroke="#2b2b2b" stroke-width="0.85"/><ellipse cx="0.00" cy="0.00" rx="10.79" ry="17.40" fill="#ebebeb" stroke="#2b2b2b" stroke-width="0.85"/><ellipse cx="1.00" cy="0.00" rx="8.31" ry="13.40" fill="#f6f6f6" stroke="#2b2b2b" stroke-width="0.85"/><ellipse cx="2.00" cy="0.00" rx="6.20" ry="10.00" fill="#f2f2f2" stroke="#2b2b2b" stroke-width="0.73"/><ellipse cx="2.00" cy="0.00" rx="5.58" ry="9.00" fill="url(#sp)" stroke="#2b2b2b" stroke-width="0.73"/></g>
<g transform="translate(526.3 371.5) rotate(19.6)"><path d="M0.00 -6.80 A4.22 6.80 0 0 0 0.00 6.80 L8.00 6.80 A4.22 6.80 0 0 0 8.00 -6.80 Z" fill="url(#gs)" stroke="#2b2b2b" stroke-width="1.10"/><ellipse cx="8.00" cy="0.00" rx="4.22" ry="6.80" fill="#f7f7f7" stroke="#2b2b2b" stroke-width="1.10"/><path d="M8.00 -10.20 A6.32 10.20 0 0 0 8.00 10.20 L83.00 10.20 A6.32 10.20 0 0 0 83.00 -10.20 Z" fill="#8e8e8e" stroke="#2b2b2b" stroke-width="0.98"/><path d="M8 10.2L83 10.2M7 10.1L82 10.1M6 9.7L81 9.7M5.1 9.1L80.1 9.1M4.3 8.3L79.3 8.3M3.5 7.2L78.5 7.2M2.9 6L77.9 6M2.4 4.6L77.4 4.6M2 3.2L77 3.2M1.8 1.6L76.8 1.6M1.7 0L76.7 0M1.8 -1.6L76.8 -1.6M2 -3.2L77 -3.2M2.4 -4.6L77.4 -4.6M2.9 -6L77.9 -6M3.5 -7.2L78.5 -7.2M4.3 -8.3L79.3 -8.3M5.1 -9.1L80.1 -9.1M6 -9.7L81 -9.7M7 -10.1L82 -10.1M8 -10.2L83 -10.2" stroke="#222" stroke-width="0.55" fill="none"/><ellipse cx="83.00" cy="0.00" rx="6.32" ry="10.20" fill="#b5b5b5" stroke="#2b2b2b" stroke-width="0.98"/><path d="M83.00 -8.80 A5.46 8.80 0 0 0 83.00 8.80 L131.00 8.80 A5.46 8.80 0 0 0 131.00 -8.80 Z" fill="url(#gs)" stroke="#2b2b2b" stroke-width="1.10"/><ellipse cx="131.00" cy="0.00" rx="5.46" ry="8.80" fill="#f4f4f4" stroke="#2b2b2b" stroke-width="1.10"/><ellipse cx="131.30" cy="0.00" rx="3.10" ry="5.00" fill="#e6e6e6" stroke="#2b2b2b" stroke-width="0.98"/><ellipse cx="131.60" cy="0.00" rx="1.74" ry="2.80" fill="#fff" stroke="#2b2b2b" stroke-width="0.85"/></g>
<g transform="translate(690.7 370.6) rotate(19.6)"><path d="M-9.50 -21.00 A13.02 21.00 0 0 0 -9.50 21.00 L0.00 21.00 A13.02 21.00 0 0 0 0.00 -21.00 Z" fill="url(#gs)" stroke="#2b2b2b" stroke-width="1.10"/><ellipse cx="0.00" cy="0.00" rx="13.02" ry="21.00" fill="#f8f8f8" stroke="#2b2b2b" stroke-width="1.10"/><ellipse cx="0.00" cy="0.00" rx="10.42" ry="16.80" fill="#ececec" stroke="#2b2b2b" stroke-width="0.88"/><ellipse cx="0.00" cy="0.00" rx="9.11" ry="14.70" fill="#dcdcdc" stroke="#2b2b2b" stroke-width="0.88"/><ellipse cx="0.00" cy="0.00" rx="7.16" ry="11.55" fill="#f3f3f3" stroke="#2b2b2b" stroke-width="0.88"/><ellipse cx="0.00" cy="0.00" rx="4.69" ry="7.56" fill="#fdfdfd" stroke="#2b2b2b" stroke-width="1.10"/><path d="M1.2 -7.3A4.7 7.6 0 0 0 1.2 7.3A5.9 7.6 0 0 1 1.2 -7.3Z" fill="#777" stroke="#2b2b2b" stroke-width="0.77"/></g>
<g transform="translate(662.7 382.3) rotate(19.6)"><path d="M-9.50 -21.00 A13.02 21.00 0 0 0 -9.50 21.00 L0.00 21.00 A13.02 21.00 0 0 0 0.00 -21.00 Z" fill="url(#gs)" stroke="#2b2b2b" stroke-width="1.10"/><ellipse cx="0.00" cy="0.00" rx="13.02" ry="21.00" fill="#f8f8f8" stroke="#2b2b2b" stroke-width="1.10"/><ellipse cx="0.00" cy="0.00" rx="10.42" ry="16.80" fill="#ececec" stroke="#2b2b2b" stroke-width="0.88"/><ellipse cx="0.00" cy="0.00" rx="9.11" ry="14.70" fill="#dcdcdc" stroke="#2b2b2b" stroke-width="0.88"/><ellipse cx="0.00" cy="0.00" rx="7.16" ry="11.55" fill="#f3f3f3" stroke="#2b2b2b" stroke-width="0.88"/><ellipse cx="0.00" cy="0.00" rx="4.69" ry="7.56" fill="#fdfdfd" stroke="#2b2b2b" stroke-width="1.10"/><path d="M1.2 -7.3A4.7 7.6 0 0 0 1.2 7.3A5.9 7.6 0 0 1 1.2 -7.3Z" fill="#777" stroke="#2b2b2b" stroke-width="0.77"/></g>
<g transform="translate(673.6 420.3) rotate(19.6)"><path d="M-9.50 -20.50 A12.71 20.50 0 0 0 -9.50 20.50 L0.00 20.50 A12.71 20.50 0 0 0 0.00 -20.50 Z" fill="url(#gs)" stroke="#2b2b2b" stroke-width="1.10"/><ellipse cx="0.00" cy="0.00" rx="12.71" ry="20.50" fill="#f8f8f8" stroke="#2b2b2b" stroke-width="1.10"/><ellipse cx="0.00" cy="0.00" rx="10.17" ry="16.40" fill="#ececec" stroke="#2b2b2b" stroke-width="0.88"/><ellipse cx="0.00" cy="0.00" rx="8.90" ry="14.35" fill="#dcdcdc" stroke="#2b2b2b" stroke-width="0.88"/><ellipse cx="0.00" cy="0.00" rx="6.99" ry="11.28" fill="#f3f3f3" stroke="#2b2b2b" stroke-width="0.88"/><ellipse cx="0.00" cy="0.00" rx="4.58" ry="7.38" fill="#fdfdfd" stroke="#2b2b2b" stroke-width="1.10"/><path d="M1.1 -7.1A4.6 7.4 0 0 0 1.1 7.1A5.7 7.4 0 0 1 1.1 -7.1Z" fill="#777" stroke="#2b2b2b" stroke-width="0.77"/></g>
<g transform="translate(315.2 358.0) rotate(19.6)"><path d="M-7.00 -15.50 A9.61 15.50 0 0 0 -7.00 15.50 L0.00 15.50 A9.61 15.50 0 0 0 0.00 -15.50 Z" fill="url(#gs)" stroke="#2b2b2b" stroke-width="1.10"/><ellipse cx="0.00" cy="0.00" rx="9.61" ry="15.50" fill="#f8f8f8" stroke="#2b2b2b" stroke-width="1.10"/><ellipse cx="0.00" cy="0.00" rx="7.69" ry="12.40" fill="#ececec" stroke="#2b2b2b" stroke-width="0.88"/><ellipse cx="0.00" cy="0.00" rx="6.73" ry="10.85" fill="#dcdcdc" stroke="#2b2b2b" stroke-width="0.88"/><ellipse cx="0.00" cy="0.00" rx="5.29" ry="8.53" fill="#f3f3f3" stroke="#2b2b2b" stroke-width="0.88"/><ellipse cx="0.00" cy="0.00" rx="3.46" ry="5.58" fill="#fdfdfd" stroke="#2b2b2b" stroke-width="1.10"/><path d="M0.9 -5.4A3.5 5.6 0 0 0 0.9 5.4A4.3 5.6 0 0 1 0.9 -5.4Z" fill="#777" stroke="#2b2b2b" stroke-width="0.77"/></g>
<g transform="translate(340.5 367.9) rotate(19.6)"><ellipse cx="0.00" cy="0.00" rx="10.29" ry="16.60" fill="#f3f3f3" stroke="#2b2b2b" stroke-width="1.10"/><ellipse cx="0.00" cy="0.00" rx="9.05" ry="14.60" fill="#fff" stroke="#2b2b2b" stroke-width="0.88"/></g>
<g transform="translate(376.7 380.4) rotate(19.6)"><path d="M-9.00 -28.60 A17.73 28.60 0 0 0 -9.00 28.60 L0.00 28.60 A17.73 28.60 0 0 0 0.00 -28.60 Z" fill="#4d4d4d" stroke="#2b2b2b" stroke-width="0"/><path d="M-3.9 30.9L5.1 30.9L3.5 31.5L-5.5 31.5Z" fill="#fbfbfb" stroke="#2b2b2b" stroke-width="0.73"/><path d="M-7.1 31.9L1.9 31.9L0.2 32L-8.8 32Z" fill="#fbfbfb" stroke="#2b2b2b" stroke-width="0.73"/><path d="M-10.4 31.9L-1.4 31.9L-3 31.6L-12 31.6Z" fill="#fbfbfb" stroke="#2b2b2b" stroke-width="0.73"/><path d="M-13.7 31.1L-4.7 31.1L-6.2 30.4L-15.2 30.4Z" fill="#fbfbfb" stroke="#2b2b2b" stroke-width="0.73"/><path d="M-16.8 29.4L-7.8 29.4L-9.2 28.3L-18.2 28.3Z" fill="#fbfbfb" stroke="#2b2b2b" stroke-width="0.73"/><path d="M-19.7 27L-10.7 27L-12 25.5L-21 25.5Z" fill="#fbfbfb" stroke="#2b2b2b" stroke-width="0.73"/><path d="M-22.3 23.8L-13.3 23.8L-14.4 21.9L-23.4 21.9Z" fill="#fbfbfb" stroke="#2b2b2b" stroke-width="0.73"/><path d="M-24.5 19.9L-15.5 19.9L-16.5 17.8L-25.5 17.8Z" fill="#fbfbfb" stroke="#2b2b2b" stroke-width="0.73"/><path d="M-26.3 15.5L-17.3 15.5L-18.1 13.2L-27.1 13.2Z" fill="#fbfbfb" stroke="#2b2b2b" stroke-width="0.73"/><path d="M-27.7 10.7L-18.7 10.7L-19.2 8.2L-28.2 8.2Z" fill="#fbfbfb" stroke="#2b2b2b" stroke-width="0.73"/><path d="M-28.5 5.6L-19.5 5.6L-19.8 3L-28.8 3Z" fill="#fbfbfb" stroke="#2b2b2b" stroke-width="0.73"/><path d="M-28.8 0.4L-19.8 0.4L-19.8 -2.3L-28.8 -2.3Z" fill="#fbfbfb" stroke="#2b2b2b" stroke-width="0.73"/><path d="M-28.6 -4.9L-19.6 -4.9L-19.3 -7.5L-28.3 -7.5Z" fill="#fbfbfb" stroke="#2b2b2b" stroke-width="0.73"/><path d="M-27.8 -10L-18.8 -10L-18.3 -12.5L-27.3 -12.5Z" fill="#fbfbfb" stroke="#2b2b2b" stroke-width="0.73"/><path d="M-26.6 -14.9L-17.6 -14.9L-16.7 -17.2L-25.7 -17.2Z" fill="#fbfbfb" stroke="#2b2b2b" stroke-width="0.73"/><path d="M-24.8 -19.4L-15.8 -19.4L-14.7 -21.4L-23.7 -21.4Z" fill="#fbfbfb" stroke="#2b2b2b" stroke-width="0.73"/><path d="M-22.6 -23.3L-13.6 -23.3L-12.4 -25L-21.4 -25Z" fill="#fbfbfb" stroke="#2b2b2b" stroke-width="0.73"/><path d="M-20 -26.6L-11 -26.6L-9.6 -28L-18.6 -28Z" fill="#fbfbfb" stroke="#2b2b2b" stroke-width="0.73"/><path d="M-17.2 -29.2L-8.2 -29.2L-6.7 -30.1L-15.7 -30.1Z" fill="#fbfbfb" stroke="#2b2b2b" stroke-width="0.73"/><path d="M-14.1 -30.9L-5.1 -30.9L-3.5 -31.5L-12.5 -31.5Z" fill="#fbfbfb" stroke="#2b2b2b" stroke-width="0.73"/><path d="M-10.9 -31.9L-1.9 -31.9L-0.2 -32L-9.2 -32Z" fill="#fbfbfb" stroke="#2b2b2b" stroke-width="0.73"/><path d="M-7.6 -31.9L1.4 -31.9L3 -31.6L-6 -31.6Z" fill="#fbfbfb" stroke="#2b2b2b" stroke-width="0.73"/><path d="M-4.3 -31.1L4.7 -31.1L6.2 -30.4L-2.8 -30.4Z" fill="#fbfbfb" stroke="#2b2b2b" stroke-width="0.73"/><path d="M17.5 -0.6L19.8 -0.2L19.8 2.1L17.4 2.3L17.3 4L19.6 5.1L19.3 7.3L17 6.9L16.7 8.6L18.8 10.2L18.3 12.3L16 11.3L15.6 12.9L17.5 15.1L16.8 17L14.7 15.4L14 16.8L15.7 19.5L14.8 21.2L12.9 19.1L12.1 20.3L13.5 23.4L12.5 24.9L10.8 22.2L9.9 23.3L10.9 26.7L9.8 27.9L8.3 24.8L7.4 25.6L8.1 29.2L6.8 30.1L5.7 26.7L4.7 27.2L5 31L3.6 31.5L2.9 27.8L1.8 28L1.7 31.9L0.4 32L0 28.2L-1.1 28.1L-1.5 31.9L-2.9 31.7L-2.9 27.8L-3.9 27.5L-4.8 31.1L-6.1 30.4L-5.7 26.7L-6.7 26.1L-7.9 29.4L-9.1 28.4L-8.3 24.8L-9.2 23.9L-10.8 26.9L-11.9 25.6L-10.7 22.3L-11.6 21.1L-13.4 23.6L-14.4 22.1L-12.8 19.1L-13.6 17.8L-15.6 19.8L-16.4 18L-14.6 15.5L-15.2 13.9L-17.4 15.4L-18 13.4L-16 11.4L-16.4 9.7L-18.7 10.5L-19.1 8.4L-16.9 7L-17.2 5.2L-19.6 5.4L-19.7 3.2L-17.4 2.4L-17.5 0.6L-19.8 0.2L-19.8 -2.1L-17.4 -2.3L-17.3 -4L-19.6 -5.1L-19.3 -7.3L-17 -6.9L-16.7 -8.6L-18.8 -10.2L-18.3 -12.3L-16 -11.3L-15.6 -12.9L-17.5 -15.1L-16.8 -17L-14.7 -15.4L-14 -16.8L-15.7 -19.5L-14.8 -21.2L-12.9 -19.1L-12.1 -20.3L-13.5 -23.4L-12.5 -24.9L-10.8 -22.2L-9.9 -23.3L-10.9 -26.7L-9.8 -27.9L-8.3 -24.8L-7.4 -25.6L-8.1 -29.2L-6.8 -30.1L-5.7 -26.7L-4.7 -27.2L-5 -31L-3.6 -31.5L-2.9 -27.8L-1.8 -28L-1.7 -31.9L-0.4 -32L-0 -28.2L1.1 -28.1L1.5 -31.9L2.9 -31.7L2.9 -27.8L3.9 -27.5L4.8 -31.1L6.1 -30.4L5.7 -26.7L6.7 -26.1L7.9 -29.4L9.1 -28.4L8.3 -24.8L9.2 -23.9L10.8 -26.9L11.9 -25.6L10.7 -22.3L11.6 -21.1L13.4 -23.6L14.4 -22.1L12.8 -19.1L13.6 -17.8L15.6 -19.8L16.4 -18L14.6 -15.5L15.2 -13.9L17.4 -15.4L18 -13.4L16 -11.4L16.4 -9.7L18.7 -10.5L19.1 -8.4L16.9 -7L17.2 -5.2L19.6 -5.4L19.7 -3.2L17.4 -2.4Z" fill="#f3f3f3" stroke="#2b2b2b" stroke-width="0.92"/><ellipse cx="0.00" cy="0.00" rx="15.81" ry="25.50" fill="#e6e6e6" stroke="#2b2b2b" stroke-width="0.85"/><ellipse cx="0.00" cy="0.00" rx="14.57" ry="23.50" fill="#f4f4f4" stroke="#2b2b2b" stroke-width="0.85"/><ellipse cx="0.00" cy="0.00" rx="11.90" ry="19.20" fill="#e9e9e9" stroke="#2b2b2b" stroke-width="0.98"/><ellipse cx="0.60" cy="0.00" rx="10.17" ry="16.40" fill="#dcdcdc" stroke="#2b2b2b" stroke-width="0.98"/><ellipse cx="1.20" cy="0.00" rx="8.93" ry="14.40" fill="#fff" stroke="#2b2b2b" stroke-width="1.10"/><path d="M4.4 -13.8A8.6 14 0 0 0 5 14" fill="none" stroke="#444" stroke-width="0.98"/><path d="M7.4 -12.2A7.6 12.4 0 0 0 8 12.4" fill="none" stroke="#666" stroke-width="0.85"/></g>
<g transform="translate(402.9 390.3) rotate(19.6)"><path d="M0.00 -5.60 A3.47 5.60 0 0 0 0.00 5.60 L35.50 5.60 A3.47 5.60 0 0 0 35.50 -5.60 Z" fill="url(#gs)" stroke="#2b2b2b" stroke-width="1.10"/><ellipse cx="35.50" cy="0.00" rx="3.47" ry="5.60" fill="#f2f2f2" stroke="#2b2b2b" stroke-width="1.10"/><ellipse cx="35.70" cy="0.00" rx="1.24" ry="2.00" fill="#fff" stroke="#2b2b2b" stroke-width="0.73"/></g>
<g transform="translate(471.7 433.5) rotate(19.6)"><path d="M-7.00 -15.50 A9.61 15.50 0 0 0 -7.00 15.50 L0.00 15.50 A9.61 15.50 0 0 0 0.00 -15.50 Z" fill="url(#gs)" stroke="#2b2b2b" stroke-width="1.10"/><ellipse cx="0.00" cy="0.00" rx="9.61" ry="15.50" fill="#f8f8f8" stroke="#2b2b2b" stroke-width="1.10"/><ellipse cx="0.00" cy="0.00" rx="7.69" ry="12.40" fill="#ececec" stroke="#2b2b2b" stroke-width="0.88"/><ellipse cx="0.00" cy="0.00" rx="6.73" ry="10.85" fill="#dcdcdc" stroke="#2b2b2b" stroke-width="0.88"/><ellipse cx="0.00" cy="0.00" rx="5.29" ry="8.53" fill="#f3f3f3" stroke="#2b2b2b" stroke-width="0.88"/><ellipse cx="0.00" cy="0.00" rx="3.46" ry="5.58" fill="#fdfdfd" stroke="#2b2b2b" stroke-width="1.10"/><path d="M0.9 -5.4A3.5 5.6 0 0 0 0.9 5.4A4.3 5.6 0 0 1 0.9 -5.4Z" fill="#777" stroke="#2b2b2b" stroke-width="0.77"/></g>
<g transform="translate(502.5 444.7) rotate(19.6)"><path d="M-1.5 14.6A9.7 15.6 0 1 1 3.2 13.8" fill="none" stroke="#2b2b2b" stroke-width="3.17"/><path d="M-1.5 14.6A9.7 15.6 0 1 1 3.2 13.8" fill="none" stroke="#f4f4f4" stroke-width="1.34"/><circle cx="-1.8" cy="14.8" r="1.5" fill="#333"/><circle cx="3.6" cy="13.6" r="1.5" fill="#333"/></g>
<g transform="translate(543.9 459.0) rotate(19.6)"><path d="M-9.00 -28.60 A17.73 28.60 0 0 0 -9.00 28.60 L0.00 28.60 A17.73 28.60 0 0 0 0.00 -28.60 Z" fill="#4d4d4d" stroke="#2b2b2b" stroke-width="0"/><path d="M-4.5 31.2L4.5 31.2L2.9 31.7L-6.1 31.7Z" fill="#fbfbfb" stroke="#2b2b2b" stroke-width="0.73"/><path d="M-7.7 31.9L1.3 31.9L-0.4 32L-9.4 32Z" fill="#fbfbfb" stroke="#2b2b2b" stroke-width="0.73"/><path d="M-11 31.8L-2 31.8L-3.6 31.5L-12.6 31.5Z" fill="#fbfbfb" stroke="#2b2b2b" stroke-width="0.73"/><path d="M-14.2 30.9L-5.2 30.9L-6.8 30.1L-15.8 30.1Z" fill="#fbfbfb" stroke="#2b2b2b" stroke-width="0.73"/><path d="M-17.3 29.1L-8.3 29.1L-9.8 27.9L-18.8 27.9Z" fill="#fbfbfb" stroke="#2b2b2b" stroke-width="0.73"/><path d="M-20.2 26.5L-11.2 26.5L-12.5 24.9L-21.5 24.9Z" fill="#fbfbfb" stroke="#2b2b2b" stroke-width="0.73"/><path d="M-22.7 23.1L-13.7 23.1L-14.8 21.2L-23.8 21.2Z" fill="#fbfbfb" stroke="#2b2b2b" stroke-width="0.73"/><path d="M-24.9 19.2L-15.9 19.2L-16.8 17L-25.8 17Z" fill="#fbfbfb" stroke="#2b2b2b" stroke-width="0.73"/><path d="M-26.6 14.7L-17.6 14.7L-18.3 12.3L-27.3 12.3Z" fill="#fbfbfb" stroke="#2b2b2b" stroke-width="0.73"/><path d="M-27.9 9.8L-18.9 9.8L-19.3 7.3L-28.3 7.3Z" fill="#fbfbfb" stroke="#2b2b2b" stroke-width="0.73"/><path d="M-28.6 4.7L-19.6 4.7L-19.8 2L-28.8 2Z" fill="#fbfbfb" stroke="#2b2b2b" stroke-width="0.73"/><path d="M-28.8 -0.6L-19.8 -0.6L-19.7 -3.2L-28.7 -3.2Z" fill="#fbfbfb" stroke="#2b2b2b" stroke-width="0.73"/><path d="M-28.5 -5.9L-19.5 -5.9L-19.1 -8.4L-28.1 -8.4Z" fill="#fbfbfb" stroke="#2b2b2b" stroke-width="0.73"/><path d="M-27.6 -11L-18.6 -11L-18 -13.4L-27 -13.4Z" fill="#fbfbfb" stroke="#2b2b2b" stroke-width="0.73"/><path d="M-26.3 -15.8L-17.3 -15.8L-16.4 -18L-25.4 -18Z" fill="#fbfbfb" stroke="#2b2b2b" stroke-width="0.73"/><path d="M-24.4 -20.1L-15.4 -20.1L-14.3 -22.1L-23.3 -22.1Z" fill="#fbfbfb" stroke="#2b2b2b" stroke-width="0.73"/><path d="M-22.2 -23.9L-13.2 -23.9L-11.9 -25.6L-20.9 -25.6Z" fill="#fbfbfb" stroke="#2b2b2b" stroke-width="0.73"/><path d="M-19.5 -27.1L-10.5 -27.1L-9.1 -28.4L-18.1 -28.4Z" fill="#fbfbfb" stroke="#2b2b2b" stroke-width="0.73"/><path d="M-16.6 -29.5L-7.6 -29.5L-6.1 -30.5L-15.1 -30.5Z" fill="#fbfbfb" stroke="#2b2b2b" stroke-width="0.73"/><path d="M-13.5 -31.2L-4.5 -31.2L-2.9 -31.7L-11.9 -31.7Z" fill="#fbfbfb" stroke="#2b2b2b" stroke-width="0.73"/><path d="M-10.3 -31.9L-1.3 -31.9L0.4 -32L-8.6 -32Z" fill="#fbfbfb" stroke="#2b2b2b" stroke-width="0.73"/><path d="M-7 -31.8L2 -31.8L3.6 -31.5L-5.4 -31.5Z" fill="#fbfbfb" stroke="#2b2b2b" stroke-width="0.73"/><path d="M17.5 0.2L19.8 0.8L19.8 3L17.4 3.1L17.2 4.9L19.5 6.1L19.2 8.2L16.8 7.7L16.5 9.4L18.6 11.2L18.1 13.2L15.8 12.1L15.3 13.6L17.2 15.9L16.5 17.8L14.4 16.1L13.7 17.5L15.3 20.3L14.4 22L12.5 19.7L11.7 20.9L13.1 24.1L12 25.5L10.3 22.7L9.4 23.7L10.4 27.2L9.2 28.3L7.9 25.2L6.9 25.9L7.5 29.6L6.2 30.4L5.2 26.9L4.1 27.4L4.4 31.2L3 31.6L2.4 27.9L1.3 28.1L1.1 31.9L-0.2 32L-0.5 28.2L-1.6 28.1L-2.1 31.8L-3.5 31.5L-3.4 27.7L-4.4 27.3L-5.4 30.8L-6.7 30.1L-6.1 26.4L-7.2 25.7L-8.4 29L-9.7 28L-8.8 24.4L-9.7 23.5L-11.3 26.3L-12.4 25L-11.1 21.7L-12 20.6L-13.8 23L-14.8 21.4L-13.2 18.5L-13.9 17.1L-16 19L-16.7 17.2L-14.9 14.7L-15.4 13.2L-17.7 14.5L-18.3 12.5L-16.2 10.6L-16.6 8.9L-18.9 9.6L-19.3 7.5L-17.1 6.1L-17.3 4.4L-19.6 4.5L-19.8 2.3L-17.5 1.5L-17.5 -0.2L-19.8 -0.8L-19.8 -3L-17.4 -3.1L-17.2 -4.9L-19.5 -6.1L-19.2 -8.2L-16.8 -7.7L-16.5 -9.4L-18.6 -11.2L-18.1 -13.2L-15.8 -12.1L-15.3 -13.6L-17.2 -15.9L-16.5 -17.8L-14.4 -16.1L-13.7 -17.5L-15.3 -20.3L-14.4 -22L-12.5 -19.7L-11.7 -20.9L-13.1 -24.1L-12 -25.5L-10.3 -22.7L-9.4 -23.7L-10.4 -27.2L-9.2 -28.3L-7.9 -25.2L-6.9 -25.9L-7.5 -29.6L-6.2 -30.4L-5.2 -26.9L-4.1 -27.4L-4.4 -31.2L-3 -31.6L-2.4 -27.9L-1.3 -28.1L-1.1 -31.9L0.2 -32L0.5 -28.2L1.6 -28.1L2.1 -31.8L3.5 -31.5L3.4 -27.7L4.4 -27.3L5.4 -30.8L6.7 -30.1L6.1 -26.4L7.2 -25.7L8.4 -29L9.7 -28L8.8 -24.4L9.7 -23.5L11.3 -26.3L12.4 -25L11.1 -21.7L12 -20.6L13.8 -23L14.8 -21.4L13.2 -18.5L13.9 -17.1L16 -19L16.7 -17.2L14.9 -14.7L15.4 -13.2L17.7 -14.5L18.3 -12.5L16.2 -10.6L16.6 -8.9L18.9 -9.6L19.3 -7.5L17.1 -6.1L17.3 -4.4L19.6 -4.5L19.8 -2.3L17.5 -1.5Z" fill="#f3f3f3" stroke="#2b2b2b" stroke-width="0.92"/><ellipse cx="0.00" cy="0.00" rx="15.81" ry="25.50" fill="#e6e6e6" stroke="#2b2b2b" stroke-width="0.85"/><ellipse cx="0.00" cy="0.00" rx="14.57" ry="23.50" fill="#f4f4f4" stroke="#2b2b2b" stroke-width="0.85"/><ellipse cx="0.00" cy="0.00" rx="11.90" ry="19.20" fill="#e9e9e9" stroke="#2b2b2b" stroke-width="0.98"/><ellipse cx="0.60" cy="0.00" rx="10.17" ry="16.40" fill="#dcdcdc" stroke="#2b2b2b" stroke-width="0.98"/><ellipse cx="1.20" cy="0.00" rx="8.93" ry="14.40" fill="#fff" stroke="#2b2b2b" stroke-width="1.10"/><path d="M4.4 -13.8A8.6 14 0 0 0 5 14" fill="none" stroke="#444" stroke-width="0.98"/><path d="M7.4 -12.2A7.6 12.4 0 0 0 8 12.4" fill="none" stroke="#666" stroke-width="0.85"/></g>
<g transform="translate(578.6 471.4) rotate(19.6)"><path d="M0.00 -5.60 A3.47 5.60 0 0 0 0.00 5.60 L35.50 5.60 A3.47 5.60 0 0 0 35.50 -5.60 Z" fill="url(#gs)" stroke="#2b2b2b" stroke-width="1.10"/><ellipse cx="35.50" cy="0.00" rx="3.47" ry="5.60" fill="#f2f2f2" stroke="#2b2b2b" stroke-width="1.10"/><ellipse cx="35.70" cy="0.00" rx="1.24" ry="2.00" fill="#fff" stroke="#2b2b2b" stroke-width="0.73"/></g>
<g transform="translate(639.0 472.7) rotate(19.6)"><path d="M-7.00 -15.00 A9.30 15.00 0 0 0 -7.00 15.00 L0.00 15.00 A9.30 15.00 0 0 0 0.00 -15.00 Z" fill="url(#gs)" stroke="#2b2b2b" stroke-width="1.10"/><ellipse cx="0.00" cy="0.00" rx="9.30" ry="15.00" fill="#f8f8f8" stroke="#2b2b2b" stroke-width="1.10"/><ellipse cx="0.00" cy="0.00" rx="7.44" ry="12.00" fill="#ececec" stroke="#2b2b2b" stroke-width="0.88"/><ellipse cx="0.00" cy="0.00" rx="6.51" ry="10.50" fill="#dcdcdc" stroke="#2b2b2b" stroke-width="0.88"/><ellipse cx="0.00" cy="0.00" rx="5.12" ry="8.25" fill="#f3f3f3" stroke="#2b2b2b" stroke-width="0.88"/><ellipse cx="0.00" cy="0.00" rx="3.35" ry="5.40" fill="#fdfdfd" stroke="#2b2b2b" stroke-width="1.10"/><path d="M0.8 -5.2A3.3 5.4 0 0 0 0.8 5.2A4.2 5.4 0 0 1 0.8 -5.2Z" fill="#777" stroke="#2b2b2b" stroke-width="0.77"/></g>
<g transform="translate(665.8 501.7) rotate(19.6)"><path d="M-7.00 -15.00 A9.30 15.00 0 0 0 -7.00 15.00 L0.00 15.00 A9.30 15.00 0 0 0 0.00 -15.00 Z" fill="url(#gs)" stroke="#2b2b2b" stroke-width="1.10"/><ellipse cx="0.00" cy="0.00" rx="9.30" ry="15.00" fill="#f8f8f8" stroke="#2b2b2b" stroke-width="1.10"/><ellipse cx="0.00" cy="0.00" rx="7.44" ry="12.00" fill="#ececec" stroke="#2b2b2b" stroke-width="0.88"/><ellipse cx="0.00" cy="0.00" rx="6.51" ry="10.50" fill="#dcdcdc" stroke="#2b2b2b" stroke-width="0.88"/><ellipse cx="0.00" cy="0.00" rx="5.12" ry="8.25" fill="#f3f3f3" stroke="#2b2b2b" stroke-width="0.88"/><ellipse cx="0.00" cy="0.00" rx="3.35" ry="5.40" fill="#fdfdfd" stroke="#2b2b2b" stroke-width="1.10"/><path d="M0.8 -5.2A3.3 5.4 0 0 0 0.8 5.2A4.2 5.4 0 0 1 0.8 -5.2Z" fill="#777" stroke="#2b2b2b" stroke-width="0.77"/></g>
<g transform="translate(330.7 467.9) rotate(19.6)"><path d="M-10.00 -30.00 A18.60 30.00 0 0 0 -10.00 30.00 L0.00 30.00 A18.60 30.00 0 0 0 0.00 -30.00 Z" fill="url(#gs)" stroke="#2b2b2b" stroke-width="1.10"/><ellipse cx="0.00" cy="0.00" rx="18.60" ry="30.00" fill="#f1f1f1" stroke="#2b2b2b" stroke-width="1.22"/><ellipse cx="0.00" cy="0.00" rx="15.19" ry="24.50" fill="#e3e3e3" stroke="#2b2b2b" stroke-width="0.98"/><ellipse cx="0.40" cy="0.00" rx="13.64" ry="22.00" fill="#d3d3d3" stroke="#2b2b2b" stroke-width="0.98"/><ellipse cx="0.80" cy="0.00" rx="12.03" ry="19.40" fill="#fdfdfd" stroke="#2b2b2b" stroke-width="1.22"/><path d="M-3 -18.6A11.6 19 0 0 0 -2.2 18.9" fill="none" stroke="#444" stroke-width="0.98" transform="translate(6 0)"/></g>
<g transform="translate(661.6 584.0) rotate(19.6)"><path d="M-10.00 -30.00 A18.60 30.00 0 0 0 -10.00 30.00 L0.00 30.00 A18.60 30.00 0 0 0 0.00 -30.00 Z" fill="url(#gs)" stroke="#2b2b2b" stroke-width="1.10"/><ellipse cx="0.00" cy="0.00" rx="18.60" ry="30.00" fill="#f1f1f1" stroke="#2b2b2b" stroke-width="1.22"/><ellipse cx="0.00" cy="0.00" rx="15.19" ry="24.50" fill="#e3e3e3" stroke="#2b2b2b" stroke-width="0.98"/><ellipse cx="0.40" cy="0.00" rx="13.64" ry="22.00" fill="#d3d3d3" stroke="#2b2b2b" stroke-width="0.98"/><ellipse cx="0.80" cy="0.00" rx="12.03" ry="19.40" fill="#fdfdfd" stroke="#2b2b2b" stroke-width="1.22"/><path d="M-3 -18.6A11.6 19 0 0 0 -2.2 18.9" fill="none" stroke="#444" stroke-width="0.98" transform="translate(6 0)"/></g>
<g transform="translate(407.5 494.6) rotate(19.6)"><path d="M-38.50 -17.50 A10.85 17.50 0 0 0 -38.50 17.50 L-30.00 17.50 A10.85 17.50 0 0 0 -30.00 -17.50 Z" fill="url(#gs)" stroke="#2b2b2b" stroke-width="1.10"/><ellipse cx="-30.00" cy="0.00" rx="10.85" ry="17.50" fill="#f4f4f4" stroke="#2b2b2b" stroke-width="1.10"/><path d="M-30.00 -18.40 A11.41 18.40 0 0 0 -30.00 18.40 L-8.00 18.40 A11.41 18.40 0 0 0 -8.00 -18.40 Z" fill="#4d4d4d" stroke="#2b2b2b" stroke-width="0"/><path d="M-27.7 20.2L-5.7 20.2L-7.2 20.5L-29.2 20.5Z" fill="#fbfbfb" stroke="#2b2b2b" stroke-width="0.73"/><path d="M-30.8 20.5L-8.8 20.5L-10.3 20.2L-32.3 20.2Z" fill="#fbfbfb" stroke="#2b2b2b" stroke-width="0.73"/><path d="M-33.8 19.6L-11.8 19.6L-13.2 18.7L-35.2 18.7Z" fill="#fbfbfb" stroke="#2b2b2b" stroke-width="0.73"/><path d="M-36.6 17.5L-14.6 17.5L-15.8 16.1L-37.8 16.1Z" fill="#fbfbfb" stroke="#2b2b2b" stroke-width="0.73"/><path d="M-39 14.5L-17 14.5L-18 12.6L-40 12.6Z" fill="#fbfbfb" stroke="#2b2b2b" stroke-width="0.73"/><path d="M-40.9 10.6L-18.9 10.6L-19.6 8.4L-41.6 8.4Z" fill="#fbfbfb" stroke="#2b2b2b" stroke-width="0.73"/><path d="M-42.1 6.1L-20.1 6.1L-20.5 3.7L-42.5 3.7Z" fill="#fbfbfb" stroke="#2b2b2b" stroke-width="0.73"/><path d="M-42.7 1.2L-20.7 1.2L-20.7 -1.2L-42.7 -1.2Z" fill="#fbfbfb" stroke="#2b2b2b" stroke-width="0.73"/><path d="M-42.5 -3.7L-20.5 -3.7L-20.1 -6.1L-42.1 -6.1Z" fill="#fbfbfb" stroke="#2b2b2b" stroke-width="0.73"/><path d="M-41.6 -8.4L-19.6 -8.4L-18.9 -10.6L-40.9 -10.6Z" fill="#fbfbfb" stroke="#2b2b2b" stroke-width="0.73"/><path d="M-40 -12.6L-18 -12.6L-17 -14.5L-39 -14.5Z" fill="#fbfbfb" stroke="#2b2b2b" stroke-width="0.73"/><path d="M-37.8 -16.1L-15.8 -16.1L-14.6 -17.5L-36.6 -17.5Z" fill="#fbfbfb" stroke="#2b2b2b" stroke-width="0.73"/><path d="M-35.2 -18.7L-13.2 -18.7L-11.8 -19.6L-33.8 -19.6Z" fill="#fbfbfb" stroke="#2b2b2b" stroke-width="0.73"/><path d="M-32.3 -20.2L-10.3 -20.2L-8.8 -20.5L-30.8 -20.5Z" fill="#fbfbfb" stroke="#2b2b2b" stroke-width="0.73"/><path d="M-29.2 -20.5L-7.2 -20.5L-5.7 -20.2L-27.7 -20.2Z" fill="#fbfbfb" stroke="#2b2b2b" stroke-width="0.73"/><path d="M3.1 -1.3L4.7 -1L4.7 1L3.1 1.3L3 3L4.5 3.9L4.2 5.9L2.6 5.6L2.2 7.1L3.5 8.6L2.9 10.4L1.5 9.5L0.9 10.9L1.9 12.8L1.1 14.4L-0.2 12.9L-1 14L-0.3 16.3L-1.3 17.4L-2.4 15.5L-3.3 16.3L-2.9 18.8L-4.1 19.5L-4.8 17.3L-5.8 17.7L-5.8 20.2L-7.1 20.4L-7.5 18L-8.5 18L-8.9 20.4L-10.2 20.2L-10.2 17.7L-11.2 17.3L-11.9 19.5L-13.1 18.8L-12.7 16.3L-13.6 15.5L-14.7 17.4L-15.7 16.3L-15 14L-15.8 12.9L-17.1 14.4L-17.9 12.8L-16.9 10.9L-17.5 9.5L-18.9 10.4L-19.5 8.6L-18.2 7.1L-18.6 5.6L-20.2 5.9L-20.5 3.9L-19 3L-19.1 1.3L-20.7 1L-20.7 -1L-19.1 -1.3L-19 -3L-20.5 -3.9L-20.2 -5.9L-18.6 -5.6L-18.2 -7.1L-19.5 -8.6L-18.9 -10.4L-17.5 -9.5L-16.9 -10.9L-17.9 -12.8L-17.1 -14.4L-15.8 -12.9L-15 -14L-15.7 -16.3L-14.7 -17.4L-13.6 -15.5L-12.7 -16.3L-13.1 -18.8L-11.9 -19.5L-11.2 -17.3L-10.2 -17.7L-10.2 -20.2L-8.9 -20.4L-8.5 -18L-7.5 -18L-7.1 -20.4L-5.8 -20.2L-5.8 -17.7L-4.8 -17.3L-4.1 -19.5L-2.9 -18.8L-3.3 -16.3L-2.4 -15.5L-1.3 -17.4L-0.3 -16.3L-1 -14L-0.2 -12.9L1.1 -14.4L1.9 -12.8L0.9 -10.9L1.5 -9.5L2.9 -10.4L3.5 -8.6L2.2 -7.1L2.6 -5.6L4.2 -5.9L4.5 -3.9L3 -3Z" fill="#f3f3f3" stroke="#2b2b2b" stroke-width="0.92"/><path d="M-8.00 -48.80 A30.26 48.80 0 0 0 -8.00 48.80 L0.00 48.80 A30.26 48.80 0 0 0 0.00 -48.80 Z" fill="#4d4d4d" stroke="#2b2b2b" stroke-width="0"/><path d="M0.2 50.3L8.2 50.3L6.7 50.9L-1.3 50.9Z" fill="#fbfbfb" stroke="#2b2b2b" stroke-width="0.73"/><path d="M-2.9 51.4L5.1 51.4L3.4 51.7L-4.6 51.7Z" fill="#fbfbfb" stroke="#2b2b2b" stroke-width="0.73"/><path d="M-6.2 51.9L1.8 51.9L0.2 52L-7.8 52Z" fill="#fbfbfb" stroke="#2b2b2b" stroke-width="0.73"/><path d="M-9.5 51.9L-1.5 51.9L-3.1 51.8L-11.1 51.8Z" fill="#fbfbfb" stroke="#2b2b2b" stroke-width="0.73"/><path d="M-12.7 51.4L-4.7 51.4L-6.3 51L-14.3 51Z" fill="#fbfbfb" stroke="#2b2b2b" stroke-width="0.73"/><path d="M-15.9 50.4L-7.9 50.4L-9.5 49.7L-17.5 49.7Z" fill="#fbfbfb" stroke="#2b2b2b" stroke-width="0.73"/><path d="M-19 48.9L-11 48.9L-12.6 47.9L-20.6 47.9Z" fill="#fbfbfb" stroke="#2b2b2b" stroke-width="0.73"/><path d="M-22 46.8L-14 46.8L-15.5 45.6L-23.5 45.6Z" fill="#fbfbfb" stroke="#2b2b2b" stroke-width="0.73"/><path d="M-24.9 44.3L-16.9 44.3L-18.3 42.8L-26.3 42.8Z" fill="#fbfbfb" stroke="#2b2b2b" stroke-width="0.73"/><path d="M-27.6 41.3L-19.6 41.3L-20.9 39.6L-28.9 39.6Z" fill="#fbfbfb" stroke="#2b2b2b" stroke-width="0.73"/><path d="M-30.1 37.9L-22.1 37.9L-23.2 36L-31.2 36Z" fill="#fbfbfb" stroke="#2b2b2b" stroke-width="0.73"/><path d="M-32.3 34.1L-24.3 34.1L-25.4 32L-33.4 32Z" fill="#fbfbfb" stroke="#2b2b2b" stroke-width="0.73"/><path d="M-34.4 29.9L-26.4 29.9L-27.3 27.7L-35.3 27.7Z" fill="#fbfbfb" stroke="#2b2b2b" stroke-width="0.73"/><path d="M-36.1 25.5L-28.1 25.5L-28.9 23.1L-36.9 23.1Z" fill="#fbfbfb" stroke="#2b2b2b" stroke-width="0.73"/><path d="M-37.6 20.8L-29.6 20.8L-30.2 18.3L-38.2 18.3Z" fill="#fbfbfb" stroke="#2b2b2b" stroke-width="0.73"/><path d="M-38.7 15.8L-30.7 15.8L-31.2 13.3L-39.2 13.3Z" fill="#fbfbfb" stroke="#2b2b2b" stroke-width="0.73"/><path d="M-39.5 10.7L-31.5 10.7L-31.8 8.1L-39.8 8.1Z" fill="#fbfbfb" stroke="#2b2b2b" stroke-width="0.73"/><path d="M-40.1 5.5L-32.1 5.5L-32.2 2.9L-40.2 2.9Z" fill="#fbfbfb" stroke="#2b2b2b" stroke-width="0.73"/><path d="M-40.2 0.3L-32.2 0.3L-32.2 -2.4L-40.2 -2.4Z" fill="#fbfbfb" stroke="#2b2b2b" stroke-width="0.73"/><path d="M-40.1 -5L-32.1 -5L-31.9 -7.6L-39.9 -7.6Z" fill="#fbfbfb" stroke="#2b2b2b" stroke-width="0.73"/><path d="M-39.6 -10.2L-31.6 -10.2L-31.3 -12.8L-39.3 -12.8Z" fill="#fbfbfb" stroke="#2b2b2b" stroke-width="0.73"/><path d="M-38.8 -15.3L-30.8 -15.3L-30.3 -17.8L-38.3 -17.8Z" fill="#fbfbfb" stroke="#2b2b2b" stroke-width="0.73"/><path d="M-37.7 -20.3L-29.7 -20.3L-29 -22.7L-37 -22.7Z" fill="#fbfbfb" stroke="#2b2b2b" stroke-width="0.73"/><path d="M-36.3 -25L-28.3 -25L-27.5 -27.3L-35.5 -27.3Z" fill="#fbfbfb" stroke="#2b2b2b" stroke-width="0.73"/><path d="M-34.6 -29.5L-26.6 -29.5L-25.6 -31.6L-33.6 -31.6Z" fill="#fbfbfb" stroke="#2b2b2b" stroke-width="0.73"/><path d="M-32.6 -33.7L-24.6 -33.7L-23.5 -35.6L-31.5 -35.6Z" fill="#fbfbfb" stroke="#2b2b2b" stroke-width="0.73"/><path d="M-30.3 -37.5L-22.3 -37.5L-21.1 -39.3L-29.1 -39.3Z" fill="#fbfbfb" stroke="#2b2b2b" stroke-width="0.73"/><path d="M-27.9 -40.9L-19.9 -40.9L-18.6 -42.5L-26.6 -42.5Z" fill="#fbfbfb" stroke="#2b2b2b" stroke-width="0.73"/><path d="M-25.2 -44L-17.2 -44L-15.8 -45.3L-23.8 -45.3Z" fill="#fbfbfb" stroke="#2b2b2b" stroke-width="0.73"/><path d="M-22.4 -46.6L-14.4 -46.6L-12.9 -47.7L-20.9 -47.7Z" fill="#fbfbfb" stroke="#2b2b2b" stroke-width="0.73"/><path d="M-19.4 -48.7L-11.4 -48.7L-9.8 -49.5L-17.8 -49.5Z" fill="#fbfbfb" stroke="#2b2b2b" stroke-width="0.73"/><path d="M-16.2 -50.3L-8.2 -50.3L-6.7 -50.9L-14.7 -50.9Z" fill="#fbfbfb" stroke="#2b2b2b" stroke-width="0.73"/><path d="M-13.1 -51.4L-5.1 -51.4L-3.4 -51.7L-11.4 -51.7Z" fill="#fbfbfb" stroke="#2b2b2b" stroke-width="0.73"/><path d="M-9.8 -51.9L-1.8 -51.9L-0.2 -52L-8.2 -52Z" fill="#fbfbfb" stroke="#2b2b2b" stroke-width="0.73"/><path d="M-6.5 -51.9L1.5 -51.9L3.1 -51.8L-4.9 -51.8Z" fill="#fbfbfb" stroke="#2b2b2b" stroke-width="0.73"/><path d="M-3.3 -51.4L4.7 -51.4L6.3 -51L-1.7 -51Z" fill="#fbfbfb" stroke="#2b2b2b" stroke-width="0.73"/><path d="M-0.1 -50.4L7.9 -50.4L9.5 -49.7L1.5 -49.7Z" fill="#fbfbfb" stroke="#2b2b2b" stroke-width="0.73"/><path d="M30 -0.6L32.2 -0.1L32.2 2.1L30 2.5L29.9 4.3L32.1 5.2L31.9 7.4L29.7 7.4L29.5 9.2L31.6 10.4L31.3 12.6L29 12.2L28.7 14L30.8 15.5L30.3 17.6L28.1 16.8L27.7 18.6L29.6 20.4L29.1 22.5L26.9 21.3L26.4 23L28.2 25.2L27.5 27.1L25.5 25.6L24.8 27.2L26.5 29.7L25.7 31.4L23.7 29.7L23 31.1L24.5 33.8L23.6 35.5L21.7 33.4L20.9 34.7L22.2 37.6L21.2 39.1L19.5 36.7L18.6 37.9L19.8 41.1L18.7 42.4L17.1 39.7L16.2 40.8L17.1 44.1L15.9 45.2L14.5 42.3L13.5 43.2L14.2 46.7L13 47.6L11.8 44.5L10.7 45.2L11.2 48.7L9.9 49.5L9 46.2L7.9 46.7L8.1 50.3L6.8 50.8L6 47.4L4.9 47.8L4.9 51.4L3.6 51.7L3 48.2L1.9 48.3L1.7 51.9L0.3 52L-0 48.4L-1.2 48.4L-1.6 51.9L-3 51.8L-3.1 48.1L-4.2 47.9L-4.8 51.4L-6.2 51L-6.1 47.4L-7.2 47L-8 50.4L-9.4 49.8L-9 46.2L-10.1 45.6L-11.2 48.8L-12.4 48L-11.9 44.5L-12.9 43.7L-14.2 46.7L-15.4 45.7L-14.6 42.3L-15.6 41.4L-17 44.2L-18.2 43L-17.2 39.7L-18.1 38.6L-19.7 41.2L-20.8 39.8L-19.6 36.7L-20.4 35.5L-22.2 37.7L-23.2 36.2L-21.8 33.3L-22.5 31.9L-24.4 33.9L-25.3 32.2L-23.7 29.6L-24.4 28.1L-26.4 29.8L-27.2 27.9L-25.5 25.6L-26.1 24L-28.2 25.3L-28.8 23.3L-27 21.3L-27.4 19.6L-29.6 20.6L-30.1 18.5L-28.1 16.8L-28.5 15L-30.7 15.6L-31.1 13.5L-29.1 12.1L-29.3 10.3L-31.6 10.5L-31.8 8.4L-29.7 7.3L-29.8 5.4L-32.1 5.3L-32.2 3.1L-30 2.4L-30 0.6L-32.2 0.1L-32.2 -2.1L-30 -2.5L-29.9 -4.3L-32.1 -5.2L-31.9 -7.4L-29.7 -7.4L-29.5 -9.2L-31.6 -10.4L-31.3 -12.6L-29 -12.2L-28.7 -14L-30.8 -15.5L-30.3 -17.6L-28.1 -16.8L-27.7 -18.6L-29.6 -20.4L-29.1 -22.5L-26.9 -21.3L-26.4 -23L-28.2 -25.2L-27.5 -27.1L-25.5 -25.6L-24.8 -27.2L-26.5 -29.7L-25.7 -31.4L-23.7 -29.7L-23 -31.1L-24.5 -33.8L-23.6 -35.5L-21.7 -33.4L-20.9 -34.7L-22.2 -37.6L-21.2 -39.1L-19.5 -36.7L-18.6 -37.9L-19.8 -41.1L-18.7 -42.4L-17.1 -39.7L-16.2 -40.8L-17.1 -44.1L-15.9 -45.2L-14.5 -42.3L-13.5 -43.2L-14.2 -46.7L-13 -47.6L-11.8 -44.5L-10.7 -45.2L-11.2 -48.7L-9.9 -49.5L-9 -46.2L-7.9 -46.7L-8.1 -50.3L-6.8 -50.8L-6 -47.4L-4.9 -47.8L-4.9 -51.4L-3.6 -51.7L-3 -48.2L-1.9 -48.3L-1.7 -51.9L-0.3 -52L0 -48.4L1.2 -48.4L1.6 -51.9L3 -51.8L3.1 -48.1L4.2 -47.9L4.8 -51.4L6.2 -51L6.1 -47.4L7.2 -47L8 -50.4L9.4 -49.8L9 -46.2L10.1 -45.6L11.2 -48.8L12.4 -48L11.9 -44.5L12.9 -43.7L14.2 -46.7L15.4 -45.7L14.6 -42.3L15.6 -41.4L17 -44.2L18.2 -43L17.2 -39.7L18.1 -38.6L19.7 -41.2L20.8 -39.8L19.6 -36.7L20.4 -35.5L22.2 -37.7L23.2 -36.2L21.8 -33.3L22.5 -31.9L24.4 -33.9L25.3 -32.2L23.7 -29.6L24.4 -28.1L26.4 -29.8L27.2 -27.9L25.5 -25.6L26.1 -24L28.2 -25.3L28.8 -23.3L27 -21.3L27.4 -19.6L29.6 -20.6L30.1 -18.5L28.1 -16.8L28.5 -15L30.7 -15.6L31.1 -13.5L29.1 -12.1L29.3 -10.3L31.6 -10.5L31.8 -8.4L29.7 -7.3L29.8 -5.4L32.1 -5.3L32.2 -3.1L30 -2.4Z" fill="#f3f3f3" stroke="#2b2b2b" stroke-width="0.92"/><ellipse cx="0.00" cy="0.00" rx="28.21" ry="45.50" fill="#f1f1f1" stroke="#2b2b2b" stroke-width="0.85"/><ellipse cx="0.00" cy="0.00" rx="27.03" ry="43.60" fill="#dadada" stroke="#2b2b2b" stroke-width="0.85"/><ellipse cx="18.5" cy="16.3" rx="3.5" ry="7.6" transform="rotate(119 18.5 16.3)" fill="#fff" stroke="#2b2b2b" stroke-width="0.85"/><ellipse cx="0.5" cy="34" rx="3.5" ry="7.6" transform="rotate(179 0.5 34)" fill="#fff" stroke="#2b2b2b" stroke-width="0.85"/><ellipse cx="-18" cy="17.7" rx="3.5" ry="7.6" transform="rotate(239 -18 17.7)" fill="#fff" stroke="#2b2b2b" stroke-width="0.85"/><ellipse cx="-18.5" cy="-16.3" rx="3.5" ry="7.6" transform="rotate(299 -18.5 -16.3)" fill="#fff" stroke="#2b2b2b" stroke-width="0.85"/><ellipse cx="-0.5" cy="-34" rx="3.5" ry="7.6" transform="rotate(359 -0.5 -34)" fill="#fff" stroke="#2b2b2b" stroke-width="0.85"/><ellipse cx="18" cy="-17.7" rx="3.5" ry="7.6" transform="rotate(419 18 -17.7)" fill="#fff" stroke="#2b2b2b" stroke-width="0.85"/><ellipse cx="0.00" cy="0.00" rx="15.81" ry="25.50" fill="#e9e9e9" stroke="#2b2b2b" stroke-width="0.98"/><ellipse cx="0.00" cy="0.00" rx="14.26" ry="23.00" fill="#f2f2f2" stroke="#2b2b2b" stroke-width="0.85"/><path d="M0.00 -16.60 A10.29 16.60 0 0 0 0.00 16.60 L20.00 16.60 A10.29 16.60 0 0 0 20.00 -16.60 Z" fill="url(#gs)" stroke="#2b2b2b" stroke-width="1.10"/><ellipse cx="20.00" cy="0.00" rx="10.29" ry="16.60" fill="#f3f3f3" stroke="#2b2b2b" stroke-width="1.10"/><ellipse cx="20.00" cy="0.00" rx="8.43" ry="13.60" fill="#e4e4e4" stroke="#2b2b2b" stroke-width="0.85"/><ellipse cx="20.00" cy="0.00" rx="6.45" ry="10.40" fill="#f2f2f2" stroke="#2b2b2b" stroke-width="0.73"/><ellipse cx="20.00" cy="0.00" rx="5.80" ry="9.36" fill="url(#sp)" stroke="#2b2b2b" stroke-width="0.73"/></g>
<!-- bottom -->
<g transform="translate(481.8 616.5) rotate(19.6)"><path d="M0.00 -3.90 A2.42 3.90 0 0 0 0.00 3.90 L95.00 3.90 A2.42 3.90 0 0 0 95.00 -3.90 Z" fill="url(#gs)" stroke="#2b2b2b" stroke-width="1.04"/><ellipse cx="95.00" cy="0.00" rx="2.42" ry="3.90" fill="#e9e9e9" stroke="#2b2b2b" stroke-width="1.04"/><ellipse cx="95.20" cy="0.00" rx="1.36" ry="2.20" fill="#444" stroke="#2b2b2b" stroke-width="0.61"/></g>
<path d="M430.7 590.2L456.5 570.8L458.3 574.4C454 578 450 585 447 591L445.6 597L436 596Z" fill="#f6f6f6" stroke="#2b2b2b" stroke-width="1.10"/>
<path d="M430.7 590.2L456.5 570.8" stroke="#111" stroke-width="1.71"/>
<path d="M445.6 594C446 587 449 581 454 577.5" fill="none" stroke="#2b2b2b" stroke-width="0.98"/>
<path d="M426.8 605.4L428.2 608.6L428.59999999999997 611.0L430.2 613.0L431.8 611.0L432.2 608.6L433.59999999999997 605.4Z" fill="#f1f1f1" stroke="#2b2b2b" stroke-width="0.98"/>
<g transform="translate(418.6 594.7) rotate(12.865397842049987)"><path d="M0.00 -6.20 A3.84 6.20 0 0 0 0.00 6.20 L16.62 6.20 A3.84 6.20 0 0 0 16.62 -6.20 Z" fill="url(#gs)" stroke="#2b2b2b" stroke-width="1.22"/><ellipse cx="16.62" cy="0.00" rx="3.84" ry="6.20" fill="#f3f3f3" stroke="#2b2b2b" stroke-width="1.22"/><ellipse cx="16.92" cy="0.00" rx="2.38" ry="3.84" fill="#fff" stroke="#2b2b2b" stroke-width="1.22"/></g>
<path d="M447.5 597L473.7 576.7L475.5 580.5C471 583.5 466.5 588.5 463.7 593C462.5 598 464 604 471.8 610.1L456.5 612L452 604Z" fill="#f6f6f6" stroke="#2b2b2b" stroke-width="1.10"/>
<path d="M447.5 597L473.7 576.7" stroke="#111" stroke-width="1.71"/>
<path d="M466.8 589.5C465 595 466 602 471.8 607.4" fill="none" stroke="#2b2b2b" stroke-width="0.98"/>
<path d="M443.6 611.6L445 614.8000000000001L445.4 617.2L447 619.2L448.6 617.2L449 614.8000000000001L450.4 611.6Z" fill="#f1f1f1" stroke="#2b2b2b" stroke-width="0.98"/>
<g transform="translate(441.1 603.8) rotate(13.15754274001491)"><path d="M0.00 -6.20 A3.84 6.20 0 0 0 0.00 6.20 L15.82 6.20 A3.84 6.20 0 0 0 15.82 -6.20 Z" fill="url(#gs)" stroke="#2b2b2b" stroke-width="1.22"/><ellipse cx="15.82" cy="0.00" rx="3.84" ry="6.20" fill="#f3f3f3" stroke="#2b2b2b" stroke-width="1.22"/><ellipse cx="16.12" cy="0.00" rx="2.38" ry="3.84" fill="#fff" stroke="#2b2b2b" stroke-width="1.22"/></g>
<g transform="translate(411.4 714.4) rotate(19.6)"><path d="M-18.00 -6.20 A3.84 6.20 0 0 0 -18.00 6.20 L-12.50 6.20 A3.84 6.20 0 0 0 -12.50 -6.20 Z" fill="url(#gs)" stroke="#2b2b2b" stroke-width="1.10"/><ellipse cx="-12.50" cy="0.00" rx="3.84" ry="6.20" fill="#f4f4f4" stroke="#2b2b2b" stroke-width="1.10"/><path d="M-12.50 -8.50 A5.27 8.50 0 0 0 -12.50 8.50 L-9.00 8.50 A5.27 8.50 0 0 0 -9.00 -8.50 Z" fill="url(#gs)" stroke="#2b2b2b" stroke-width="0.98"/><path d="M0.00 -19.40 A12.03 19.40 0 0 0 0.00 19.40 L44.00 19.40 A12.03 19.40 0 0 0 44.00 -19.40 Z" fill="url(#gs)" stroke="#2b2b2b" stroke-width="1.22"/><path d="M6 -7C10 -10.5 24 -10 31 -5L31 11C26 14.5 12 14.5 6 11Z" fill="#fcfcfc" stroke="#2b2b2b" stroke-width="1.34"/><path d="M9 -5C13 -1 14 6 12 11.5M14 -7C19 -2 20 6 18 12.5M6 7C14 11 24 11.5 31 9" fill="none" stroke="#444" stroke-width="0.98"/><path d="M6 11L31 13.5" stroke="#111" stroke-width="1.59"/><path d="M3 -15.5C9 -18.5 14 -18 18 -16.6M22 -15C26 -14.5 29 -12.5 31 -10.5" fill="none" stroke="#2b2b2b" stroke-width="2.68" stroke-linecap="round"/><path d="M3 -15.5C9 -18.5 14 -18 18 -16.6M22 -15C26 -14.5 29 -12.5 31 -10.5" fill="none" stroke="#f4f4f4" stroke-width="1.10" stroke-linecap="round"/><path d="M2 13.5L30 16.5" stroke="#2b2b2b" stroke-width="0.98"/><path d="M33 -19.4A12.0 19.4 0 0 0 33 19.4M36 -19.4A12.0 19.4 0 0 0 36 19.4" fill="none" stroke="#2b2b2b" stroke-width="0.98"/><ellipse cx="44.00" cy="0.00" rx="12.03" ry="19.40" fill="#f0f0f0" stroke="#2b2b2b" stroke-width="1.22"/><ellipse cx="44.00" cy="0.00" rx="9.67" ry="15.60" fill="#dedede" stroke="#2b2b2b" stroke-width="0.98"/><ellipse cx="44.40" cy="0.00" rx="8.31" ry="13.40" fill="#f6f6f6" stroke="#2b2b2b" stroke-width="0.98"/><path d="M44.00 -10.40 A6.45 10.40 0 0 0 44.00 10.40 L61.00 10.40 A6.45 10.40 0 0 0 61.00 -10.40 Z" fill="url(#gs)" stroke="#2b2b2b" stroke-width="1.10"/><ellipse cx="61.00" cy="0.00" rx="6.45" ry="10.40" fill="#eee" stroke="#2b2b2b" stroke-width="1.10"/><path d="M61.00 -11.80 A7.32 11.80 0 0 0 61.00 11.80 L66.00 11.80 A7.32 11.80 0 0 0 66.00 -11.80 Z" fill="#9a9a9a" stroke="#2b2b2b" stroke-width="0"/><path d="M59.7 13.6L64.7 13.6L62.1 12.3L57.1 12.3Z" fill="#fbfbfb" stroke="#2b2b2b" stroke-width="0.78"/><path d="M54.9 9.8L59.9 9.8L58.4 6.3L53.4 6.3Z" fill="#fbfbfb" stroke="#2b2b2b" stroke-width="0.78"/><path d="M52.5 2.2L57.5 2.2L57.5 -2.2L52.5 -2.2Z" fill="#fbfbfb" stroke="#2b2b2b" stroke-width="0.78"/><path d="M53.4 -6.3L58.4 -6.3L59.9 -9.8L54.9 -9.8Z" fill="#fbfbfb" stroke="#2b2b2b" stroke-width="0.78"/><path d="M57.1 -12.3L62.1 -12.3L64.7 -13.6L59.7 -13.6Z" fill="#fbfbfb" stroke="#2b2b2b" stroke-width="0.78"/><path d="M72.9 -2.2L74.5 -1.8L74.5 1.8L72.9 2.2L72.4 4.8L73.5 6.6L72.2 9.5L70.8 8.4L69.4 10L69.7 12.4L67.6 13.6L66.8 11.3L65.2 11.3L64.4 13.6L62.3 12.4L62.6 10L61.2 8.4L59.8 9.5L58.5 6.6L59.6 4.8L59.1 2.2L57.5 1.8L57.5 -1.8L59.1 -2.2L59.6 -4.8L58.5 -6.6L59.8 -9.5L61.2 -8.4L62.6 -10L62.3 -12.4L64.4 -13.6L65.2 -11.3L66.8 -11.3L67.6 -13.6L69.7 -12.4L69.4 -10L70.8 -8.4L72.2 -9.5L73.5 -6.6L72.4 -4.8Z" fill="#efefef" stroke="#2b2b2b" stroke-width="0.98"/><path d="M66.00 -8.00 A4.96 8.00 0 0 0 66.00 8.00 L73.00 8.00 A4.96 8.00 0 0 0 73.00 -8.00 Z" fill="url(#gs)" stroke="#2b2b2b" stroke-width="1.10"/><ellipse cx="73.00" cy="0.00" rx="4.96" ry="8.00" fill="#f4f4f4" stroke="#2b2b2b" stroke-width="1.10"/><path d="M73.00 -6.60 A4.09 6.60 0 0 0 73.00 6.60 L76.00 6.60 A4.09 6.60 0 0 0 76.00 -6.60 Z" fill="#222" stroke="#2b2b2b" stroke-width="0.73"/><path d="M76.00 -5.70 A3.53 5.70 0 0 0 76.00 5.70 L102.00 5.70 A3.53 5.70 0 0 0 102.00 -5.70 Z" fill="url(#gs)" stroke="#2b2b2b" stroke-width="1.10"/><ellipse cx="102.00" cy="0.00" rx="3.53" ry="5.70" fill="#f2f2f2" stroke="#2b2b2b" stroke-width="1.10"/><ellipse cx="102.20" cy="0.00" rx="1.98" ry="3.20" fill="#fff" stroke="#2b2b2b" stroke-width="0.85"/><ellipse cx="88" cy="1.2" rx="1.6" ry="1.4" fill="#fff" stroke="#2b2b2b" stroke-width="0.85"/></g>
<g transform="translate(556.5 764.4) rotate(19.6)"><path d="M-4.00 -13.20 A8.18 13.20 0 0 0 -4.00 13.20 L-1.50 13.20 A8.18 13.20 0 0 0 -1.50 -13.20 Z" fill="url(#gs)" stroke="#2b2b2b" stroke-width="1.10"/><ellipse cx="-1.50" cy="0.00" rx="8.18" ry="13.20" fill="#f2f2f2" stroke="#2b2b2b" stroke-width="1.10"/><path d="M-1.50 -9.60 A5.95 9.60 0 0 0 -1.50 9.60 L6.00 9.60 A5.95 9.60 0 0 0 6.00 -9.60 Z" fill="url(#gs)" stroke="#2b2b2b" stroke-width="1.10"/><ellipse cx="6.00" cy="0.00" rx="5.95" ry="9.60" fill="#f1f1f1" stroke="#2b2b2b" stroke-width="1.10"/><ellipse cx="6.00" cy="0.00" rx="4.59" ry="7.40" fill="#fff" stroke="#2b2b2b" stroke-width="0.98"/><path d="M3.2 -7A4.4 7.2 0 0 0 3.6 7.2" fill="none" stroke="#555" stroke-width="0.85"/></g>
<g transform="translate(320.6 681.9) rotate(19.6)"><path d="M-4.00 -14.00 A8.68 14.00 0 0 0 -4.00 14.00 L0.00 14.00 A8.68 14.00 0 0 0 0.00 -14.00 Z" fill="url(#gs)" stroke="#2b2b2b" stroke-width="1.10"/><ellipse cx="0.00" cy="0.00" rx="8.68" ry="14.00" fill="#f3f3f3" stroke="#2b2b2b" stroke-width="1.10"/><ellipse cx="0.60" cy="0.00" rx="5.33" ry="8.60" fill="#e2e2e2" stroke="#2b2b2b" stroke-width="0.98"/><ellipse cx="1.20" cy="0.00" rx="3.97" ry="6.40" fill="#fff" stroke="#2b2b2b" stroke-width="1.10"/></g>
<g transform="translate(293.3 672.8) rotate(19.6)"><path d="M4.4 -4A5.1 8.2 0 1 0 4.9 3" fill="#fff" stroke="#2b2b2b" stroke-width="1.22"/><path d="M2.6 -2.4A2.5 4 0 1 0 3 2.2" fill="none" stroke="#2b2b2b" stroke-width="1.10"/></g>
<path d="M263.4 663.3L268.8 665.2" stroke="#2b2b2b" stroke-width="2.68"/>
<path d="M264 663.5L268.2 665" stroke="#ddd" stroke-width="0.98"/>
<path d="M338 690.2L342.4 691.8" stroke="#111" stroke-width="3.42"/>
<path d="M343 692L397 711" stroke="#555" stroke-width="1.59" stroke-dasharray="1 1"/>
<path d="M361.6 698L363.6 699" stroke="#111" stroke-width="2.93"/>
<!-- small -->
<g transform="translate(57.6 170.2) rotate(19.6)"><path d="M-4.00 -15.40 A9.55 15.40 0 0 0 -4.00 15.40 L0.00 15.40 A9.55 15.40 0 0 0 0.00 -15.40 Z" fill="#bbb" stroke="#2b2b2b" stroke-width="1.10"/><ellipse cx="0.00" cy="0.00" rx="9.55" ry="15.40" fill="#f2f2f2" stroke="#2b2b2b" stroke-width="1.22"/><ellipse cx="0.30" cy="0.00" rx="7.69" ry="12.40" fill="#8d8d8d" stroke="#2b2b2b" stroke-width="1.22"/><ellipse cx="1.00" cy="0.00" rx="6.70" ry="10.80" fill="#e9e9e9" stroke="#2b2b2b" stroke-width="0.98"/><ellipse cx="1.60" cy="0.00" rx="5.95" ry="9.60" fill="#fcfcfc" stroke="#2b2b2b" stroke-width="0.85"/></g>
<g transform="translate(78.5 197.2) rotate(16.83747262567646)"><path d="M0.00 -3.60 A2.16 3.60 0 0 0 0.00 3.60 L5.50 3.60 A2.16 3.60 0 0 0 5.50 -3.60 Z" fill="url(#gs)" stroke="#2b2b2b" stroke-width="1.10"/><ellipse cx="5.50" cy="0.00" rx="2.16" ry="3.60" fill="#ececec" stroke="#2b2b2b" stroke-width="0.98"/><path d="M5.50 -2.10 A1.26 2.10 0 0 0 5.50 2.10 L15.88 2.10 A1.26 2.10 0 0 0 15.88 -2.10 Z" fill="url(#gs)" stroke="#2b2b2b" stroke-width="0.98"/><ellipse cx="15.88" cy="0.00" rx="1.26" ry="2.10" fill="#e9e9e9" stroke="#2b2b2b" stroke-width="0.85"/></g>
<g transform="translate(112.4 188.6) rotate(19.6)"><path d="M-9.00 -10.60 A6.57 10.60 0 0 0 -9.00 10.60 L0.00 10.60 A6.57 10.60 0 0 0 0.00 -10.60 Z" fill="url(#gs)" stroke="#2b2b2b" stroke-width="1.10"/><path d="M-5 -10.6A6.6 10.6 0 0 0 -5 10.6M-3.6 -10.6A6.6 10.6 0 0 0 -3.6 10.6" fill="none" stroke="#2b2b2b" stroke-width="0.85"/><ellipse cx="0.00" cy="0.00" rx="6.57" ry="10.60" fill="#e8e8e8" stroke="#2b2b2b" stroke-width="1.59"/><ellipse cx="0.00" cy="0.00" rx="5.70" ry="9.20" fill="#fff" stroke="#2b2b2b" stroke-width="1.10"/><path d="M-3.6 -8A5.4 8.8 0 0 0 -3.2 8.6" fill="none" stroke="#555" stroke-width="0.85"/></g>
<g transform="translate(121.9 211.6) rotate(19.6)"><ellipse cx="0.00" cy="0.00" rx="2.05" ry="3.30" fill="#fff" stroke="#2b2b2b" stroke-width="1.95"/></g>
<g transform="translate(48.5 212.5) rotate(18.159490466786746)"><path d="M0.00 -3.60 A2.16 3.60 0 0 0 0.00 3.60 L5.50 3.60 A2.16 3.60 0 0 0 5.50 -3.60 Z" fill="url(#gs)" stroke="#2b2b2b" stroke-width="1.10"/><ellipse cx="5.50" cy="0.00" rx="2.16" ry="3.60" fill="#ececec" stroke="#2b2b2b" stroke-width="0.98"/><path d="M5.50 -2.10 A1.26 2.10 0 0 0 5.50 2.10 L13.16 2.10 A1.26 2.10 0 0 0 13.16 -2.10 Z" fill="url(#gs)" stroke="#2b2b2b" stroke-width="0.98"/><ellipse cx="13.16" cy="0.00" rx="1.26" ry="2.10" fill="#e9e9e9" stroke="#2b2b2b" stroke-width="0.85"/></g>
<g transform="translate(58.8 226.0) rotate(19.392068510781694)"><path d="M0.00 -3.60 A2.16 3.60 0 0 0 0.00 3.60 L5.50 3.60 A2.16 3.60 0 0 0 5.50 -3.60 Z" fill="url(#gs)" stroke="#2b2b2b" stroke-width="1.10"/><ellipse cx="5.50" cy="0.00" rx="2.16" ry="3.60" fill="#ececec" stroke="#2b2b2b" stroke-width="0.98"/><path d="M5.50 -2.10 A1.26 2.10 0 0 0 5.50 2.10 L13.25 2.10 A1.26 2.10 0 0 0 13.25 -2.10 Z" fill="url(#gs)" stroke="#2b2b2b" stroke-width="0.98"/><ellipse cx="13.25" cy="0.00" rx="1.26" ry="2.10" fill="#e9e9e9" stroke="#2b2b2b" stroke-width="0.85"/></g>
<g transform="translate(102.4 235.6) rotate(19.6)"><path d="M-10.00 -8.60 A5.33 8.60 0 0 0 -10.00 8.60 L-2.00 8.60 A5.33 8.60 0 0 0 -2.00 -8.60 Z" fill="url(#gs)" stroke="#2b2b2b" stroke-width="1.10"/><ellipse cx="-2.00" cy="0.00" rx="5.33" ry="8.60" fill="#ebebeb" stroke="#2b2b2b" stroke-width="0.98"/><path d="M-12 2L-11 12.5L-3 13L-2.4 6Z" fill="#ededed" stroke="#2b2b2b" stroke-width="1.10"/><path d="M-2.00 -7.40 A4.59 7.40 0 0 0 -2.00 7.40 L2.00 7.40 A4.59 7.40 0 0 0 2.00 -7.40 Z" fill="#999" stroke="#2b2b2b" stroke-width="1.10"/><path d="M0 -7.4A4.6 7.4 0 0 0 0 7.4" fill="none" stroke="#222" stroke-width="0.98"/><path d="M2.00 -6.60 A4.09 6.60 0 0 0 2.00 6.60 L8.00 6.60 A4.09 6.60 0 0 0 8.00 -6.60 Z" fill="url(#gs)" stroke="#2b2b2b" stroke-width="1.10"/><ellipse cx="8.00" cy="0.00" rx="4.09" ry="6.60" fill="#f4f4f4" stroke="#2b2b2b" stroke-width="1.10"/><circle cx="7.5" cy="-1.6" r=".8" fill="#333"/><circle cx="9" cy="2" r=".8" fill="#333"/><circle cx="6.6" cy="3.2" r=".8" fill="#333"/></g>
<g transform="translate(85.4 302.6) rotate(20.556045219583293)"><path d="M0.00 -3.30 A1.98 3.30 0 0 0 0.00 3.30 L5.00 3.30 A1.98 3.30 0 0 0 5.00 -3.30 Z" fill="url(#gs)" stroke="#2b2b2b" stroke-width="1.10"/><ellipse cx="5.00" cy="0.00" rx="1.98" ry="3.30" fill="#ececec" stroke="#2b2b2b" stroke-width="0.98"/><path d="M5.00 -1.90 A1.14 1.90 0 0 0 5.00 1.90 L13.67 1.90 A1.14 1.90 0 0 0 13.67 -1.90 Z" fill="url(#gs)" stroke="#2b2b2b" stroke-width="0.98"/><ellipse cx="13.67" cy="0.00" rx="1.14" ry="1.90" fill="#e9e9e9" stroke="#2b2b2b" stroke-width="0.85"/></g>
<g transform="translate(139.6 320.2) rotate(19.6)"><path d="M-13.00 -8.00 A4.96 8.00 0 0 0 -13.00 8.00 L-3.00 8.00 A4.96 8.00 0 0 0 -3.00 -8.00 Z" fill="#d6d6d6" stroke="#2b2b2b" stroke-width="0"/><path d="M-14.3 8.1L-4.3 8.1L-6.7 5.9L-16.7 5.9Z" fill="#fbfbfb" stroke="#2b2b2b" stroke-width="0.78"/><path d="M-18 2.2L-8 2.2L-8 -2.2L-18 -2.2Z" fill="#fbfbfb" stroke="#2b2b2b" stroke-width="0.78"/><path d="M-16.7 -5.9L-6.7 -5.9L-4.3 -8.1L-14.3 -8.1Z" fill="#fbfbfb" stroke="#2b2b2b" stroke-width="0.78"/><path d="M1.5 -2.4L2.1 -1.8L2.1 1.8L1.5 2.4L0.5 5L0.5 6.2L-1.4 8L-2.1 7.5L-3.9 7.5L-4.6 8L-6.5 6.2L-6.5 5L-7.5 2.4L-8.1 1.8L-8.1 -1.8L-7.5 -2.4L-6.5 -5L-6.5 -6.2L-4.6 -8L-3.9 -7.5L-2.1 -7.5L-1.4 -8L0.5 -6.2L0.5 -5Z" fill="#ebebeb" stroke="#2b2b2b" stroke-width="0.98"/><path d="M-3.00 -6.40 A3.97 6.40 0 0 0 -3.00 6.40 L0.00 6.40 A3.97 6.40 0 0 0 0.00 -6.40 Z" fill="#8a8a8a" stroke="#2b2b2b" stroke-width="0.98"/><path d="M-1.5 -6.4A4.0 6.4 0 0 0 -1.5 6.4" fill="none" stroke="#222" stroke-width="0.98"/><path d="M0.00 -6.20 A3.84 6.20 0 0 0 0.00 6.20 L8.00 6.20 A3.84 6.20 0 0 0 8.00 -6.20 Z" fill="url(#gs)" stroke="#2b2b2b" stroke-width="1.10"/><ellipse cx="8.00" cy="0.00" rx="3.84" ry="6.20" fill="#f5f5f5" stroke="#2b2b2b" stroke-width="1.10"/><circle cx="8" cy="-1.6" r=".7" fill="#444"/><circle cx="9" cy="1.8" r=".7" fill="#444"/></g>
<g transform="translate(82.8 380.2) rotate(19.6)"><path d="M-4.00 -26.60 A16.49 26.60 0 0 0 -4.00 26.60 L0.00 26.60 A16.49 26.60 0 0 0 0.00 -26.60 Z" fill="#d8d8d8" stroke="#2b2b2b" stroke-width="1.10"/><ellipse cx="0.00" cy="0.00" rx="16.49" ry="26.60" fill="#f3f3f3" stroke="#2b2b2b" stroke-width="1.22"/><ellipse cx="0.60" cy="0.00" rx="14.01" ry="22.60" fill="#9a9a9a" stroke="#2b2b2b" stroke-width="1.59"/><ellipse cx="1.40" cy="0.00" rx="13.02" ry="21.00" fill="#e6e6e6" stroke="#2b2b2b" stroke-width="0.98"/><ellipse cx="2.20" cy="0.00" rx="12.15" ry="19.60" fill="#fdfdfd" stroke="#2b2b2b" stroke-width="0.98"/></g>
<path d="M188.7 38.5C188.9 33.0 208.5 33.0 208.7 38.5Q211.2 40.7 209.3 42.9Q211.2 45.0 209.3 47.2Q211.2 49.4 209.2 51.5Q211.1 53.7 209.2 55.9Q211.1 58.1 209.2 60.2Q211.1 62.4 209.1 64.6Q211.0 66.8 209.1 68.9Q211.0 71.1 209.0 73.3Q210.9 75.5 209.0 77.7Q210.9 79.8 209.0 82.0C208.0 87.5 202.6 86.5 202.2 90.0L202.8 96.5A5.6 2.2 0 0 1 191.6 96.5L192.2 90.0C191.8 86.5 186.4 87.5 185.4 82.0Q183.5 79.8 185.6 77.7Q183.7 75.5 185.9 73.3Q184.0 71.1 186.2 68.9Q184.3 66.8 186.5 64.6Q184.6 62.4 186.8 60.2Q184.9 58.1 187.0 55.9Q185.1 53.7 187.3 51.5Q185.4 49.4 187.6 47.2Q185.7 45.0 187.9 42.9Q186.0 40.7 188.1 38.5Z" fill="#f1f1f1" stroke="#2b2b2b" stroke-width="1.22"/><path d="M188.1 38.5C193.1 41.7 204.3 41.7 209.3 38.5" fill="none" stroke="#2b2b2b" stroke-width="1.04"/><path d="M187.9 42.9C192.9 46.1 204.3 46.1 209.3 42.9" fill="none" stroke="#2b2b2b" stroke-width="1.04"/><path d="M187.6 47.2C192.6 50.4 204.3 50.4 209.3 47.2" fill="none" stroke="#2b2b2b" stroke-width="1.04"/><path d="M187.3 51.5C192.3 54.8 204.2 54.8 209.2 51.5" fill="none" stroke="#2b2b2b" stroke-width="1.04"/><path d="M187.0 55.9C192.0 59.1 204.2 59.1 209.2 55.9" fill="none" stroke="#2b2b2b" stroke-width="1.04"/><path d="M186.8 60.2C191.8 63.5 204.2 63.5 209.2 60.2" fill="none" stroke="#2b2b2b" stroke-width="1.04"/><path d="M186.5 64.6C191.5 67.8 204.1 67.8 209.1 64.6" fill="none" stroke="#2b2b2b" stroke-width="1.04"/><path d="M186.2 68.9C191.2 72.1 204.1 72.1 209.1 68.9" fill="none" stroke="#2b2b2b" stroke-width="1.04"/><path d="M185.9 73.3C190.9 76.5 204.0 76.5 209.0 73.3" fill="none" stroke="#2b2b2b" stroke-width="1.04"/><path d="M185.6 77.7C190.6 80.9 204.0 80.9 209.0 77.7" fill="none" stroke="#2b2b2b" stroke-width="1.04"/><path d="M185.4 82.0C190.4 85.2 204.0 85.2 209.0 82.0" fill="none" stroke="#2b2b2b" stroke-width="1.04"/><ellipse cx="199" cy="37.6" rx="6.8" ry="2.7" fill="#fafafa" stroke="#2b2b2b" stroke-width="0.98"/><path d="M191.9 92.5A5.3 2 0 0 0 202.5 92.5" fill="none" stroke="#2b2b2b" stroke-width="0.98"/>
<path d="M185.5 128.6L191 126.8L192 129.6L197.5 128.6A3.4 3.2 0 0 1 198 135L186.2 133.6Z" fill="#f2f2f2" stroke="#2b2b2b" stroke-width="1.22"/>
<path d="M190.5 127.6A3 1.6 0 0 1 197 128.4" fill="none" stroke="#2b2b2b" stroke-width="1.10"/>
<path d="M152.39999999999998 162.6L152.39999999999998 167.6A2.8 1.4 0 0 0 158.0 167.6L158.0 162.6Z" fill="#eee" stroke="#2b2b2b" stroke-width="1.10"/>
<path d="M149.0 160.6A6.2 3.6 0 0 1 161.39999999999998 160.6A6.2 3.4 0 0 1 149.0 160.6Z" fill="#f3f3f3" stroke="#2b2b2b" stroke-width="1.22"/>
<path d="M149.0 160.6A6.2 4.6 0 0 0 161.39999999999998 160.6" fill="#e9e9e9" stroke="#2b2b2b" stroke-width="1.10"/>
<ellipse cx="155.2" cy="159.4" rx="2.4" ry="1.3" fill="#666" stroke="#2b2b2b" stroke-width="0.73"/>
<path d="M206.6 150.0L206.6 155.0A2.8 1.4 0 0 0 212.20000000000002 155.0L212.20000000000002 150.0Z" fill="#eee" stroke="#2b2b2b" stroke-width="1.10"/>
<path d="M203.20000000000002 148.0A6.2 3.6 0 0 1 215.6 148.0A6.2 3.4 0 0 1 203.20000000000002 148.0Z" fill="#f3f3f3" stroke="#2b2b2b" stroke-width="1.22"/>
<path d="M203.20000000000002 148.0A6.2 4.6 0 0 0 215.6 148.0" fill="#e9e9e9" stroke="#2b2b2b" stroke-width="1.10"/>
<ellipse cx="209.4" cy="146.8" rx="2.4" ry="1.3" fill="#666" stroke="#2b2b2b" stroke-width="0.73"/>
<path d="M766.6 350.2L766.6 355.2A2.8 1.4 0 0 0 772.1999999999999 355.2L772.1999999999999 350.2Z" fill="#eee" stroke="#2b2b2b" stroke-width="1.10"/>
<path d="M763.1999999999999 348.2A6.2 3.6 0 0 1 775.6 348.2A6.2 3.4 0 0 1 763.1999999999999 348.2Z" fill="#f3f3f3" stroke="#2b2b2b" stroke-width="1.22"/>
<path d="M763.1999999999999 348.2A6.2 4.6 0 0 0 775.6 348.2" fill="#e9e9e9" stroke="#2b2b2b" stroke-width="1.10"/>
<ellipse cx="769.4" cy="347.0" rx="2.4" ry="1.3" fill="#666" stroke="#2b2b2b" stroke-width="0.73"/>
<path d="M662.3 309.5C664 303 678 300.5 683.6 305.6C684.8 311 680 318.5 676 320.6C670 322.5 664.5 318 662.3 309.5Z" fill="#e5e5e5" stroke="#2b2b2b" stroke-width="1.22"/>
<path d="M662.3 309.5C668 312.5 678.5 310 683.6 305.6" fill="none" stroke="#2b2b2b" stroke-width="1.10"/>
<path d="M665 311.6L679 308.2M665.6 313.4L679.6 310" stroke="#666" stroke-width="0.73"/>
<g transform="translate(748.6 312.8) rotate(-8)"><path d="M-7.00 -6.60 A4.09 6.60 0 0 0 -7.00 6.60 L0.00 6.60 A4.09 6.60 0 0 0 0.00 -6.60 Z" fill="#d2d2d2" stroke="#2b2b2b" stroke-width="0"/><path d="M-8.1 6.6L-1.1 6.6L-3 4.8L-10 4.8Z" fill="#fbfbfb" stroke="#2b2b2b" stroke-width="0.78"/><path d="M-11.1 1.8L-4.1 1.8L-4.1 -1.8L-11.1 -1.8Z" fill="#fbfbfb" stroke="#2b2b2b" stroke-width="0.78"/><path d="M-10 -4.8L-3 -4.8L-1.1 -6.6L-8.1 -6.6Z" fill="#fbfbfb" stroke="#2b2b2b" stroke-width="0.78"/><path d="M3.6 -2L4.1 -1.5L4.1 1.5L3.6 2L2.9 4.1L2.9 5L1.3 6.5L0.8 6.1L-0.8 6.1L-1.3 6.5L-2.9 5L-2.9 4.1L-3.6 2L-4.1 1.5L-4.1 -1.5L-3.6 -2L-2.9 -4.1L-2.9 -5L-1.3 -6.5L-0.8 -6.1L0.8 -6.1L1.3 -6.5L2.9 -5L2.9 -4.1Z" fill="#ececec" stroke="#2b2b2b" stroke-width="0.98"/><path d="M0.00 -4.80 A2.98 4.80 0 0 0 0.00 4.80 L9.00 4.80 A2.98 4.80 0 0 0 9.00 -4.80 Z" fill="url(#gs)" stroke="#2b2b2b" stroke-width="1.10"/><path d="M9 -4.8A5 4.8 0 0 1 9 4.8" fill="#f4f4f4" stroke="#2b2b2b" stroke-width="1.10"/></g>
<path d="M781.4 308.4L791.6 305.6" stroke="#222" stroke-width="5.37" stroke-linecap="round"/>
<path d="M782 308.2L791 305.8" stroke="#bbb" stroke-width="1.95" stroke-dasharray="1 1.2"/>
<circle cx="820.9" cy="301" r="3" fill="#fff" stroke="#2b2b2b" stroke-width="1.10"/>
<g transform="translate(846.3 295.4) rotate(10)"><path d="M-1.50 -7.00 A4.34 7.00 0 0 0 -1.50 7.00 L0.00 7.00 A4.34 7.00 0 0 0 0.00 -7.00 Z" fill="#ccc" stroke="#2b2b2b" stroke-width="0.98"/><ellipse cx="0.00" cy="0.00" rx="5.46" ry="7.00" fill="#efefef" stroke="#2b2b2b" stroke-width="1.22"/><ellipse cx="0.00" cy="0.00" rx="3.43" ry="4.40" fill="#fff" stroke="#2b2b2b" stroke-width="1.10"/></g>
<g transform="translate(869.3 291.4) rotate(10)"><ellipse cx="0.00" cy="0.00" rx="4.99" ry="6.40" fill="#f0f0f0" stroke="#2b2b2b" stroke-width="1.22"/><ellipse cx="0.00" cy="0.00" rx="3.28" ry="4.20" fill="#fff" stroke="#2b2b2b" stroke-width="1.10"/></g>
<g transform="translate(828.1 461.9) rotate(19.6)"><ellipse cx="0.00" cy="0.00" rx="1.98" ry="3.20" fill="#fff" stroke="#2b2b2b" stroke-width="1.95"/></g>
<g transform="translate(838.6 465.8) rotate(17.0490309721097)"><path d="M0.00 -2.10 A1.26 2.10 0 0 0 0.00 2.10 L10.19 2.10 A1.26 2.10 0 0 0 10.19 -2.10 Z" fill="url(#gs)" stroke="#2b2b2b" stroke-width="0.98"/><path d="M0 -2.1A1.3 2.1 0 0 0 0 2.1" fill="none"/><path d="M10.19 -3.80 A2.28 3.80 0 0 0 10.19 3.80 L15.69 3.80 A2.28 3.80 0 0 0 15.69 -3.80 Z" fill="url(#gs)" stroke="#2b2b2b" stroke-width="1.10"/><ellipse cx="15.69" cy="0.00" rx="2.28" ry="3.80" fill="#f0f0f0" stroke="#2b2b2b" stroke-width="1.10"/><ellipse cx="15.89" cy="0.00" rx="1.14" ry="1.90" fill="#d6d6d6" stroke="#2b2b2b" stroke-width="0.85"/></g>
<g transform="translate(860.2 489.2) rotate(19.6)"><path d="M0.00 -11.20 A6.94 11.20 0 0 0 0.00 11.20 L21.00 11.20 A6.94 11.20 0 0 0 21.00 -11.20 Z" fill="url(#gs)" stroke="#2b2b2b" stroke-width="1.22"/><ellipse cx="21.00" cy="0.00" rx="6.94" ry="11.20" fill="#e6e6e6" stroke="#2b2b2b" stroke-width="1.22"/><path d="M21 -11.2A6.9 11.2 0 0 1 21 11.2" fill="none" stroke="#111" stroke-width="2.20"/><path d="M10 -2.6L24 -2.6L24 3L10 3Z" fill="#f4f4f4" stroke="#2b2b2b" stroke-width="1.10"/><path d="M24.00 -3.40 A2.11 3.40 0 0 0 24.00 3.40 L29.50 3.40 A2.11 3.40 0 0 0 29.50 -3.40 Z" fill="url(#gs)" stroke="#2b2b2b" stroke-width="1.10"/><ellipse cx="29.50" cy="0.00" rx="2.11" ry="3.40" fill="#eee" stroke="#2b2b2b" stroke-width="1.10"/><ellipse cx="29.70" cy="0.00" rx="0.93" ry="1.50" fill="#fff" stroke="#2b2b2b" stroke-width="0.73"/></g>
<g transform="translate(907.6 520.5) rotate(19.6)"><path d="M-3.00 -10.60 A6.57 10.60 0 0 0 -3.00 10.60 L0.00 10.60 A6.57 10.60 0 0 0 0.00 -10.60 Z" fill="url(#gs)" stroke="#2b2b2b" stroke-width="1.10"/><ellipse cx="0.00" cy="0.00" rx="6.57" ry="10.60" fill="#f1f1f1" stroke="#2b2b2b" stroke-width="1.22"/><ellipse cx="0.60" cy="0.00" rx="3.97" ry="6.40" fill="#ddd" stroke="#2b2b2b" stroke-width="0.98"/><ellipse cx="1.20" cy="0.00" rx="3.10" ry="5.00" fill="#fff" stroke="#2b2b2b" stroke-width="0.98"/></g>
<g transform="translate(946.6 517.0) rotate(19.6)"><path d="M-4.00 -15.20 A9.42 15.20 0 0 0 -4.00 15.20 L0.00 15.20 A9.42 15.20 0 0 0 0.00 -15.20 Z" fill="#d9d9d9" stroke="#2b2b2b" stroke-width="1.10"/><ellipse cx="0.00" cy="0.00" rx="9.42" ry="15.20" fill="#f3f3f3" stroke="#2b2b2b" stroke-width="1.22"/><ellipse cx="0.50" cy="0.00" rx="6.82" ry="11.00" fill="#dadada" stroke="#2b2b2b" stroke-width="1.10"/><ellipse cx="1.20" cy="0.00" rx="5.95" ry="9.60" fill="#fdfdfd" stroke="#2b2b2b" stroke-width="1.10"/></g>
<g transform="translate(903.0 441.7) rotate(18.355701598887638)"><path d="M0.00 -2.60 A1.56 2.60 0 0 0 0.00 2.60 L16.36 2.60 A1.56 2.60 0 0 0 16.36 -2.60 Z" fill="url(#gs)" stroke="#2b2b2b" stroke-width="0.98"/><path d="M0 -2.6A1.6 2.6 0 0 0 0 2.6" fill="none"/><path d="M16.36 -4.40 A2.64 4.40 0 0 0 16.36 4.40 L22.86 4.40 A2.64 4.40 0 0 0 22.86 -4.40 Z" fill="url(#gs)" stroke="#2b2b2b" stroke-width="1.10"/><ellipse cx="22.86" cy="0.00" rx="2.64" ry="4.40" fill="#f0f0f0" stroke="#2b2b2b" stroke-width="1.10"/><ellipse cx="23.06" cy="0.00" rx="1.32" ry="2.20" fill="#d6d6d6" stroke="#2b2b2b" stroke-width="0.85"/></g>
<g transform="translate(967.2 460.7) rotate(18.35570159888773)"><path d="M0.00 -2.60 A1.56 2.60 0 0 0 0.00 2.60 L16.36 2.60 A1.56 2.60 0 0 0 16.36 -2.60 Z" fill="url(#gs)" stroke="#2b2b2b" stroke-width="0.98"/><path d="M0 -2.6A1.6 2.6 0 0 0 0 2.6" fill="none"/><path d="M16.36 -4.40 A2.64 4.40 0 0 0 16.36 4.40 L22.86 4.40 A2.64 4.40 0 0 0 22.86 -4.40 Z" fill="url(#gs)" stroke="#2b2b2b" stroke-width="1.10"/><ellipse cx="22.86" cy="0.00" rx="2.64" ry="4.40" fill="#f0f0f0" stroke="#2b2b2b" stroke-width="1.10"/><ellipse cx="23.06" cy="0.00" rx="1.32" ry="2.20" fill="#d6d6d6" stroke="#2b2b2b" stroke-width="0.85"/></g>
<g transform="translate(961.8 533.8) rotate(18.434948822922102)"><path d="M0.00 -2.60 A1.56 2.60 0 0 0 0.00 2.60 L16.27 2.60 A1.56 2.60 0 0 0 16.27 -2.60 Z" fill="url(#gs)" stroke="#2b2b2b" stroke-width="0.98"/><path d="M0 -2.6A1.6 2.6 0 0 0 0 2.6" fill="none"/><path d="M16.27 -4.40 A2.64 4.40 0 0 0 16.27 4.40 L22.77 4.40 A2.64 4.40 0 0 0 22.77 -4.40 Z" fill="url(#gs)" stroke="#2b2b2b" stroke-width="1.10"/><ellipse cx="22.77" cy="0.00" rx="2.64" ry="4.40" fill="#f0f0f0" stroke="#2b2b2b" stroke-width="1.10"/><ellipse cx="22.97" cy="0.00" rx="1.32" ry="2.20" fill="#d6d6d6" stroke="#2b2b2b" stroke-width="0.85"/></g>
<g transform="translate(852.5 549.2) rotate(17.776405645358334)"><path d="M0.00 -2.60 A1.56 2.60 0 0 0 0.00 2.60 L21.01 2.60 A1.56 2.60 0 0 0 21.01 -2.60 Z" fill="url(#gs)" stroke="#2b2b2b" stroke-width="0.98"/><path d="M0 -2.6A1.6 2.6 0 0 0 0 2.6" fill="none"/><path d="M21.01 -4.40 A2.64 4.40 0 0 0 21.01 4.40 L27.51 4.40 A2.64 4.40 0 0 0 27.51 -4.40 Z" fill="url(#gs)" stroke="#2b2b2b" stroke-width="1.10"/><ellipse cx="27.51" cy="0.00" rx="2.64" ry="4.40" fill="#f0f0f0" stroke="#2b2b2b" stroke-width="1.10"/><ellipse cx="27.71" cy="0.00" rx="1.32" ry="2.20" fill="#d6d6d6" stroke="#2b2b2b" stroke-width="0.85"/></g>
<g transform="translate(863.9 674.2) rotate(17.604633336663717)"><path d="M0.00 -2.60 A1.56 2.60 0 0 0 0.00 2.60 L15.32 2.60 A1.56 2.60 0 0 0 15.32 -2.60 Z" fill="url(#gs)" stroke="#2b2b2b" stroke-width="0.98"/><path d="M0 -2.6A1.6 2.6 0 0 0 0 2.6" fill="none"/><path d="M15.32 -4.40 A2.64 4.40 0 0 0 15.32 4.40 L21.82 4.40 A2.64 4.40 0 0 0 21.82 -4.40 Z" fill="url(#gs)" stroke="#2b2b2b" stroke-width="1.10"/><ellipse cx="21.82" cy="0.00" rx="2.64" ry="4.40" fill="#f0f0f0" stroke="#2b2b2b" stroke-width="1.10"/><ellipse cx="22.02" cy="0.00" rx="1.32" ry="2.20" fill="#d6d6d6" stroke="#2b2b2b" stroke-width="0.85"/></g>
<g transform="translate(956.0 636.5) rotate(22.249023657212366)"><path d="M0.00 -2.60 A1.56 2.60 0 0 0 0.00 2.60 L17.27 2.60 A1.56 2.60 0 0 0 17.27 -2.60 Z" fill="url(#gs)" stroke="#2b2b2b" stroke-width="0.98"/><path d="M0 -2.6A1.6 2.6 0 0 0 0 2.6" fill="none"/><path d="M17.27 -4.40 A2.64 4.40 0 0 0 17.27 4.40 L23.77 4.40 A2.64 4.40 0 0 0 23.77 -4.40 Z" fill="url(#gs)" stroke="#2b2b2b" stroke-width="1.10"/><ellipse cx="23.77" cy="0.00" rx="2.64" ry="4.40" fill="#f0f0f0" stroke="#2b2b2b" stroke-width="1.10"/><ellipse cx="23.97" cy="0.00" rx="1.32" ry="2.20" fill="#d6d6d6" stroke="#2b2b2b" stroke-width="0.85"/></g>
<g transform="translate(931.7 712.1) rotate(18.358858855020266)"><path d="M0.00 -2.60 A1.56 2.60 0 0 0 0.00 2.60 L17.31 2.60 A1.56 2.60 0 0 0 17.31 -2.60 Z" fill="url(#gs)" stroke="#2b2b2b" stroke-width="0.98"/><path d="M0 -2.6A1.6 2.6 0 0 0 0 2.6" fill="none"/><path d="M17.31 -4.40 A2.64 4.40 0 0 0 17.31 4.40 L23.81 4.40 A2.64 4.40 0 0 0 23.81 -4.40 Z" fill="url(#gs)" stroke="#2b2b2b" stroke-width="1.10"/><ellipse cx="23.81" cy="0.00" rx="2.64" ry="4.40" fill="#f0f0f0" stroke="#2b2b2b" stroke-width="1.10"/><ellipse cx="24.01" cy="0.00" rx="1.32" ry="2.20" fill="#d6d6d6" stroke="#2b2b2b" stroke-width="0.85"/></g>
<g transform="translate(890.7 735.6) rotate(18.35678273292613)"><path d="M0.00 -2.60 A1.56 2.60 0 0 0 0.00 2.60 L16.68 2.60 A1.56 2.60 0 0 0 16.68 -2.60 Z" fill="url(#gs)" stroke="#2b2b2b" stroke-width="0.98"/><path d="M0 -2.6A1.6 2.6 0 0 0 0 2.6" fill="none"/><path d="M16.68 -4.40 A2.64 4.40 0 0 0 16.68 4.40 L23.18 4.40 A2.64 4.40 0 0 0 23.18 -4.40 Z" fill="url(#gs)" stroke="#2b2b2b" stroke-width="1.10"/><ellipse cx="23.18" cy="0.00" rx="2.64" ry="4.40" fill="#f0f0f0" stroke="#2b2b2b" stroke-width="1.10"/><ellipse cx="23.38" cy="0.00" rx="1.32" ry="2.20" fill="#d6d6d6" stroke="#2b2b2b" stroke-width="0.85"/></g>
<g transform="translate(824.2 692.3) rotate(16.336042889718556)"><path d="M0.00 -2.60 A1.56 2.60 0 0 0 0.00 2.60 L11.13 2.60 A1.56 2.60 0 0 0 11.13 -2.60 Z" fill="url(#gs)" stroke="#2b2b2b" stroke-width="0.98"/><path d="M0 -2.6A1.6 2.6 0 0 0 0 2.6" fill="none"/><path d="M11.13 -4.60 A2.76 4.60 0 0 0 11.13 4.60 L18.13 4.60 A2.76 4.60 0 0 0 18.13 -4.60 Z" fill="url(#gs)" stroke="#2b2b2b" stroke-width="1.10"/><ellipse cx="18.13" cy="0.00" rx="2.76" ry="4.60" fill="#f0f0f0" stroke="#2b2b2b" stroke-width="1.10"/><ellipse cx="18.33" cy="0.00" rx="1.38" ry="2.30" fill="#d6d6d6" stroke="#2b2b2b" stroke-width="0.85"/></g>
<g transform="translate(811.9 661.9) rotate(19.6)"><ellipse cx="0.00" cy="0.00" rx="3.74" ry="4.40" fill="#ddd" stroke="#2b2b2b" stroke-width="1.22"/><ellipse cx="0.00" cy="0.00" rx="2.21" ry="2.60" fill="#fff" stroke="#2b2b2b" stroke-width="0.98"/></g>
<g transform="translate(796.6 682.3) rotate(19.6)"><ellipse cx="0.00" cy="0.00" rx="3.04" ry="3.80" fill="#ddd" stroke="#2b2b2b" stroke-width="1.22"/><ellipse cx="0.00" cy="0.00" rx="1.76" ry="2.20" fill="#fff" stroke="#2b2b2b" stroke-width="0.98"/></g>
<g transform="translate(831.6 676.6) rotate(30)"><path d="M0.00 -4.70 A2.91 4.70 0 0 0 0.00 4.70 L6.00 4.70 A2.91 4.70 0 0 0 6.00 -4.70 Z" fill="#d2d2d2" stroke="#2b2b2b" stroke-width="0"/><path d="M-0.8 4.6L5.2 4.6L3.9 3.4L-2.1 3.4Z" fill="#fbfbfb" stroke="#2b2b2b" stroke-width="0.78"/><path d="M-2.9 1.2L3.1 1.2L3.1 -1.2L-2.9 -1.2Z" fill="#fbfbfb" stroke="#2b2b2b" stroke-width="0.78"/><path d="M-2.1 -3.4L3.9 -3.4L5.2 -4.6L-0.8 -4.6Z" fill="#fbfbfb" stroke="#2b2b2b" stroke-width="0.78"/><path d="M8.5 -1.4L8.9 -1L8.9 1L8.5 1.4L8 2.8L8 3.5L6.9 4.6L6.5 4.2L5.5 4.2L5.1 4.6L4 3.5L4 2.8L3.5 1.4L3.1 1L3.1 -1L3.5 -1.4L4 -2.8L4 -3.5L5.1 -4.6L5.5 -4.2L6.5 -4.2L6.9 -4.6L8 -3.5L8 -2.8Z" fill="#eaeaea" stroke="#2b2b2b" stroke-width="0.98"/><path d="M-5.00 -3.00 A1.86 3.00 0 0 0 -5.00 3.00 L0.00 3.00 A1.86 3.00 0 0 0 0.00 -3.00 Z" fill="url(#gs)" stroke="#2b2b2b" stroke-width="0.98"/></g>
<g transform="translate(933.8 681.4) rotate(19.6)"><path d="M-4.00 -27.00 A16.74 27.00 0 0 0 -4.00 27.00 L0.00 27.00 A16.74 27.00 0 0 0 0.00 -27.00 Z" fill="#e1e1e1" stroke="#2b2b2b" stroke-width="1.10"/><ellipse cx="0.00" cy="0.00" rx="16.74" ry="27.00" fill="#f4f4f4" stroke="#2b2b2b" stroke-width="1.34"/><ellipse cx="0.50" cy="0.00" rx="14.01" ry="22.60" fill="#e2e2e2" stroke="#2b2b2b" stroke-width="1.22"/><ellipse cx="1.20" cy="0.00" rx="13.02" ry="21.00" fill="#fdfdfd" stroke="#2b2b2b" stroke-width="0.98"/></g>
<!-- labels -->
<path class="ld" d="M260.2 36.1L274.6 53.5"/>
<path class="ld" d="M151.8 89.6L195.1 70.5"/>
<path class="ld" d="M370.4 66.1L348.7 76.6"/>
<path class="ld" d="M296.3 94.7L304.6 83.8"/>
<path class="ld" d="M331.3 123.9L325.2 93.2"/>
<path class="ld" d="M359.5 130.1L360.3 104.8"/>
<path class="ld" d="M242.1 118.5L198.0 131.9"/>
<path class="ld" d="M143.8 131.9L153.6 158.3"/>
<path class="ld" d="M241.4 142.7L213.2 150.0"/>
<path class="ld" d="M184.3 153.6L191.5 173.4"/>
<path class="ld" d="M32.5 146.3L51.7 157.2"/>
<path class="ld" d="M85.3 161.5L86.7 196.9"/>
<path class="ld" d="M117.4 154.3L107.3 178.9"/>
<path class="ld" d="M135.5 186.1L123.9 207.8"/>
<path class="ld" d="M30.7 241.4L50.6 216.8"/>
<path class="ld" d="M77.0 254.7L93.2 236.7"/>
<path class="ld" d="M113.8 283.6L154.3 273.5"/>
<path class="ld" d="M368.6 220.4L355.9 231.3"/>
<path class="ld" d="M311.5 256.5L299.9 267.4"/>
<path class="ld" d="M362.4 278.2L343.3 294.5"/>
<path class="ld" d="M441.3 81.3L412.4 95.8"/>
<path class="ld" d="M476.4 104.8L444.9 108.4"/>
<path class="ld" d="M524.4 119.2L472.0 130.8"/>
<path class="ld" d="M627.4 154.7L617.3 172.7"/>
<path class="ld" d="M667.9 161.9L647.3 175.3"/>
<path class="ld" d="M697.9 176.3L678.0 195.1"/>
<path class="ld" d="M730.4 183.6L697.9 202.3"/>
<path class="ld" d="M408.1 267.4L387.1 285.5"/>
<path class="ld" d="M444.9 278.2L437.7 300.0"/>
<path class="ld" d="M561.6 278.2L519.0 310.6"/>
<path class="ld" d="M765.7 191.5L745.1 204.2"/>
<path class="ld" d="M788.5 209.6L765.0 221.1"/>
<path class="ld" d="M783.0 269.0L786.7 302.6"/>
<path class="ld" d="M891.4 277.4L871.6 288.2"/>
<path class="ld" d="M61.4 321.4L86.7 307.7"/>
<path class="ld" d="M134.4 346.0L140.2 328.7"/>
<path class="ld" d="M47.0 359.4L68.7 369.5"/>
<path class="ld" d="M314.4 331.2L311.5 345.6"/>
<path class="ld" d="M318.0 390.8L332.4 380.3"/>
<path class="ld" d="M329.5 421.5L321.6 437.1"/>
<path class="ld" d="M369.3 421.9L374.0 411.8"/>
<path class="ld" d="M434.1 361.2L448.5 346.7"/>
<path class="ld" d="M468.4 386.5L481.0 377.4"/>
<path class="ld" d="M482.9 406.3L472.7 419.0"/>
<path class="ld" d="M396.1 415.4L417.8 398.0"/>
<path class="ld" d="M657.4 292.5L667.1 307.0"/>
<path class="ld" d="M730.4 292.5L744.8 308.8"/>
<path class="ld" d="M661.7 343.1L681.6 357.6"/>
<path class="ld" d="M625.6 361.2L649.1 370.2"/>
<path class="ld" d="M593.1 417.2L625.6 402.7"/>
<path class="ld" d="M625.6 435.2L661.7 422.6"/>
<path class="ld" d="M609.3 455.1L629.2 460.5"/>
<path class="ld" d="M672.6 473.2L665.3 485.8"/>
<path class="ld" d="M491.9 466.0L499.1 455.1"/>
<path class="ld" d="M539.6 500.3L544.3 487.6"/>
<path class="ld" d="M576.8 494.9L594.9 480.4"/>
<path class="ld" d="M425.0 541.8L407.0 507.5"/>
<path class="ld" d="M455.8 557.1L441.3 580.6"/>
<path class="ld" d="M846.3 321.4L824.6 302.6"/>
<path class="ld" d="M880.6 322.2L849.9 300.5"/>
<path class="ld" d="M800.4 346.7L775.8 350.3"/>
<path class="ld" d="M851.7 378.5L812.7 396.6"/>
<path class="ld" d="M854.6 429.8L830.0 458.7"/>
<path class="ld" d="M891.4 429.1L849.9 464.2"/>
<path class="ld" d="M882.4 466.0L864.3 485.8"/>
<path class="ld" d="M976.4 498.5L952.9 507.5"/>
<path class="ld" d="M922.2 541.8L907.7 527.4"/>
<path class="ld" d="M287.3 649.2L268.1 663.7"/>
<path class="ld" d="M321.6 653.9L298.1 669.1"/>
<path class="ld" d="M368.6 673.8L341.5 689.0"/>
<path class="ld" d="M308.9 709.6L318.0 694.4"/>
<path class="ld" d="M343.3 719.0L362.4 698.0"/>
<path class="ld" d="M496.6 584.2L470.2 589.6"/>
<path class="ld" d="M540.7 598.7L511.0 626.8"/>
<path class="ld" d="M611.1 600.5L632.8 592.1"/>
<path class="ld" d="M468.4 768.5L491.9 743.2"/>
<path class="ld" d="M576.8 782.9L569.6 772.8"/>
<path class="ld" d="M862.5 580.6L860.0 556.0"/>
<path class="ld" d="M833.6 637.7L814.8 657.2"/>
<path class="ld" d="M856.4 654.7L835.4 673.8"/>
<path class="ld" d="M1006.0 649.2L951.1 660.8"/>
<path class="ld" d="M768.6 707.1L792.1 686.1"/>
<path class="ld" d="M806.5 726.9L826.4 700.5"/>
<path class="ld" d="M881.3 754.0L895.1 741.4"/>
<text x="251.9" y="34.6">3</text>
<text x="141.6" y="100.8">61</text>
<text x="379.1" y="64.6">58</text>
<text x="290.9" y="107.3">58</text>
<text x="332.8" y="136.9">59</text>
<text x="357.7" y="143.4">57</text>
<text x="251.9" y="118.8">62</text>
<text x="141.6" y="128.9">60</text>
<text x="251.9" y="144.1">60</text>
<text x="177.0" y="151.3">52</text>
<text x="23.5" y="145.2">26</text>
<text x="85.3" y="158.6">28</text>
<text x="120.0" y="151.3">43</text>
<text x="141.6" y="183.9">29</text>
<text x="22.8" y="253.6">51</text>
<text x="66.5" y="264.4">50</text>
<text x="107.3" y="290.4">1</text>
<text x="374.6" y="220.0">3</text>
<text x="316.2" y="253.6">3</text>
<text x="370.4" y="275.5">12</text>
<text x="453.2" y="79.1">56</text>
<text x="486.1" y="108.0">54</text>
<text x="534.2" y="121.3">17</text>
<text x="632.8" y="151.3">55</text>
<text x="675.1" y="159.7">21</text>
<text x="707.6" y="173.0">18</text>
<text x="738.7" y="181.3">20</text>
<text x="415.3" y="264.4">13</text>
<text x="453.2" y="275.3">14</text>
<text x="571.4" y="275.2">16</text>
<text x="774.7" y="189.3">19</text>
<text x="798.2" y="207.3">40</text>
<text x="782.0" y="265.9">35</text>
<text x="900.5" y="275.5">37</text>
<text x="54.2" y="332.2">31</text>
<text x="127.6" y="358.2">41</text>
<text x="37.2" y="358.2">27</text>
<text x="315.4" y="328.2">8</text>
<text x="312.6" y="402.3">9</text>
<text x="332.8" y="418.6">2</text>
<text x="368.3" y="434.8">10</text>
<text x="430.5" y="372.7">12</text>
<text x="461.9" y="397.3">15</text>
<text x="488.3" y="405.9">8</text>
<text x="391.7" y="426.9">6</text>
<text x="650.9" y="289.6">53</text>
<text x="721.3" y="289.6">34</text>
<text x="654.5" y="342.0">3</text>
<text x="619.4" y="359.0">3</text>
<text x="584.8" y="426.9">11</text>
<text x="619.4" y="444.6">3</text>
<text x="604.6" y="452.9">8</text>
<text x="675.4" y="470.2">8</text>
<text x="488.3" y="478.2">9</text>
<text x="539.6" y="513.6">7</text>
<text x="571.4" y="506.4">6</text>
<text x="428.7" y="554.8">5</text>
<text x="461.2" y="554.8">24</text>
<text x="854.2" y="333.7">36</text>
<text x="888.6" y="333.7">37</text>
<text x="810.1" y="349.2">60</text>
<text x="861.8" y="378.1">30</text>
<text x="861.8" y="426.9">29</text>
<text x="900.5" y="426.9">28</text>
<text x="888.6" y="463.0">44</text>
<text x="986.1" y="498.1">26</text>
<text x="929.4" y="554.8">25</text>
<text x="295.2" y="647.0">48</text>
<text x="331.3" y="651.7">49</text>
<text x="377.8" y="671.2">47</text>
<text x="307.5" y="722.9">4</text>
<text x="337.1" y="731.2">46</text>
<text x="505.6" y="586.7">23</text>
<text x="549.7" y="596.4">22</text>
<text x="604.6" y="606.2">2</text>
<text x="461.2" y="780.7">42</text>
<text x="580.4" y="795.9">4</text>
<text x="864.3" y="593.5">39</text>
<text x="839.4" y="636.2">32</text>
<text x="864.3" y="651.7">33</text>
<text x="1015.4" y="651.7">27</text>
<text x="759.2" y="719.3">32</text>
<text x="798.2" y="739.9">45</text>
<text x="873.4" y="766.3">38</text>
</g>
</svg>
</body></html>
